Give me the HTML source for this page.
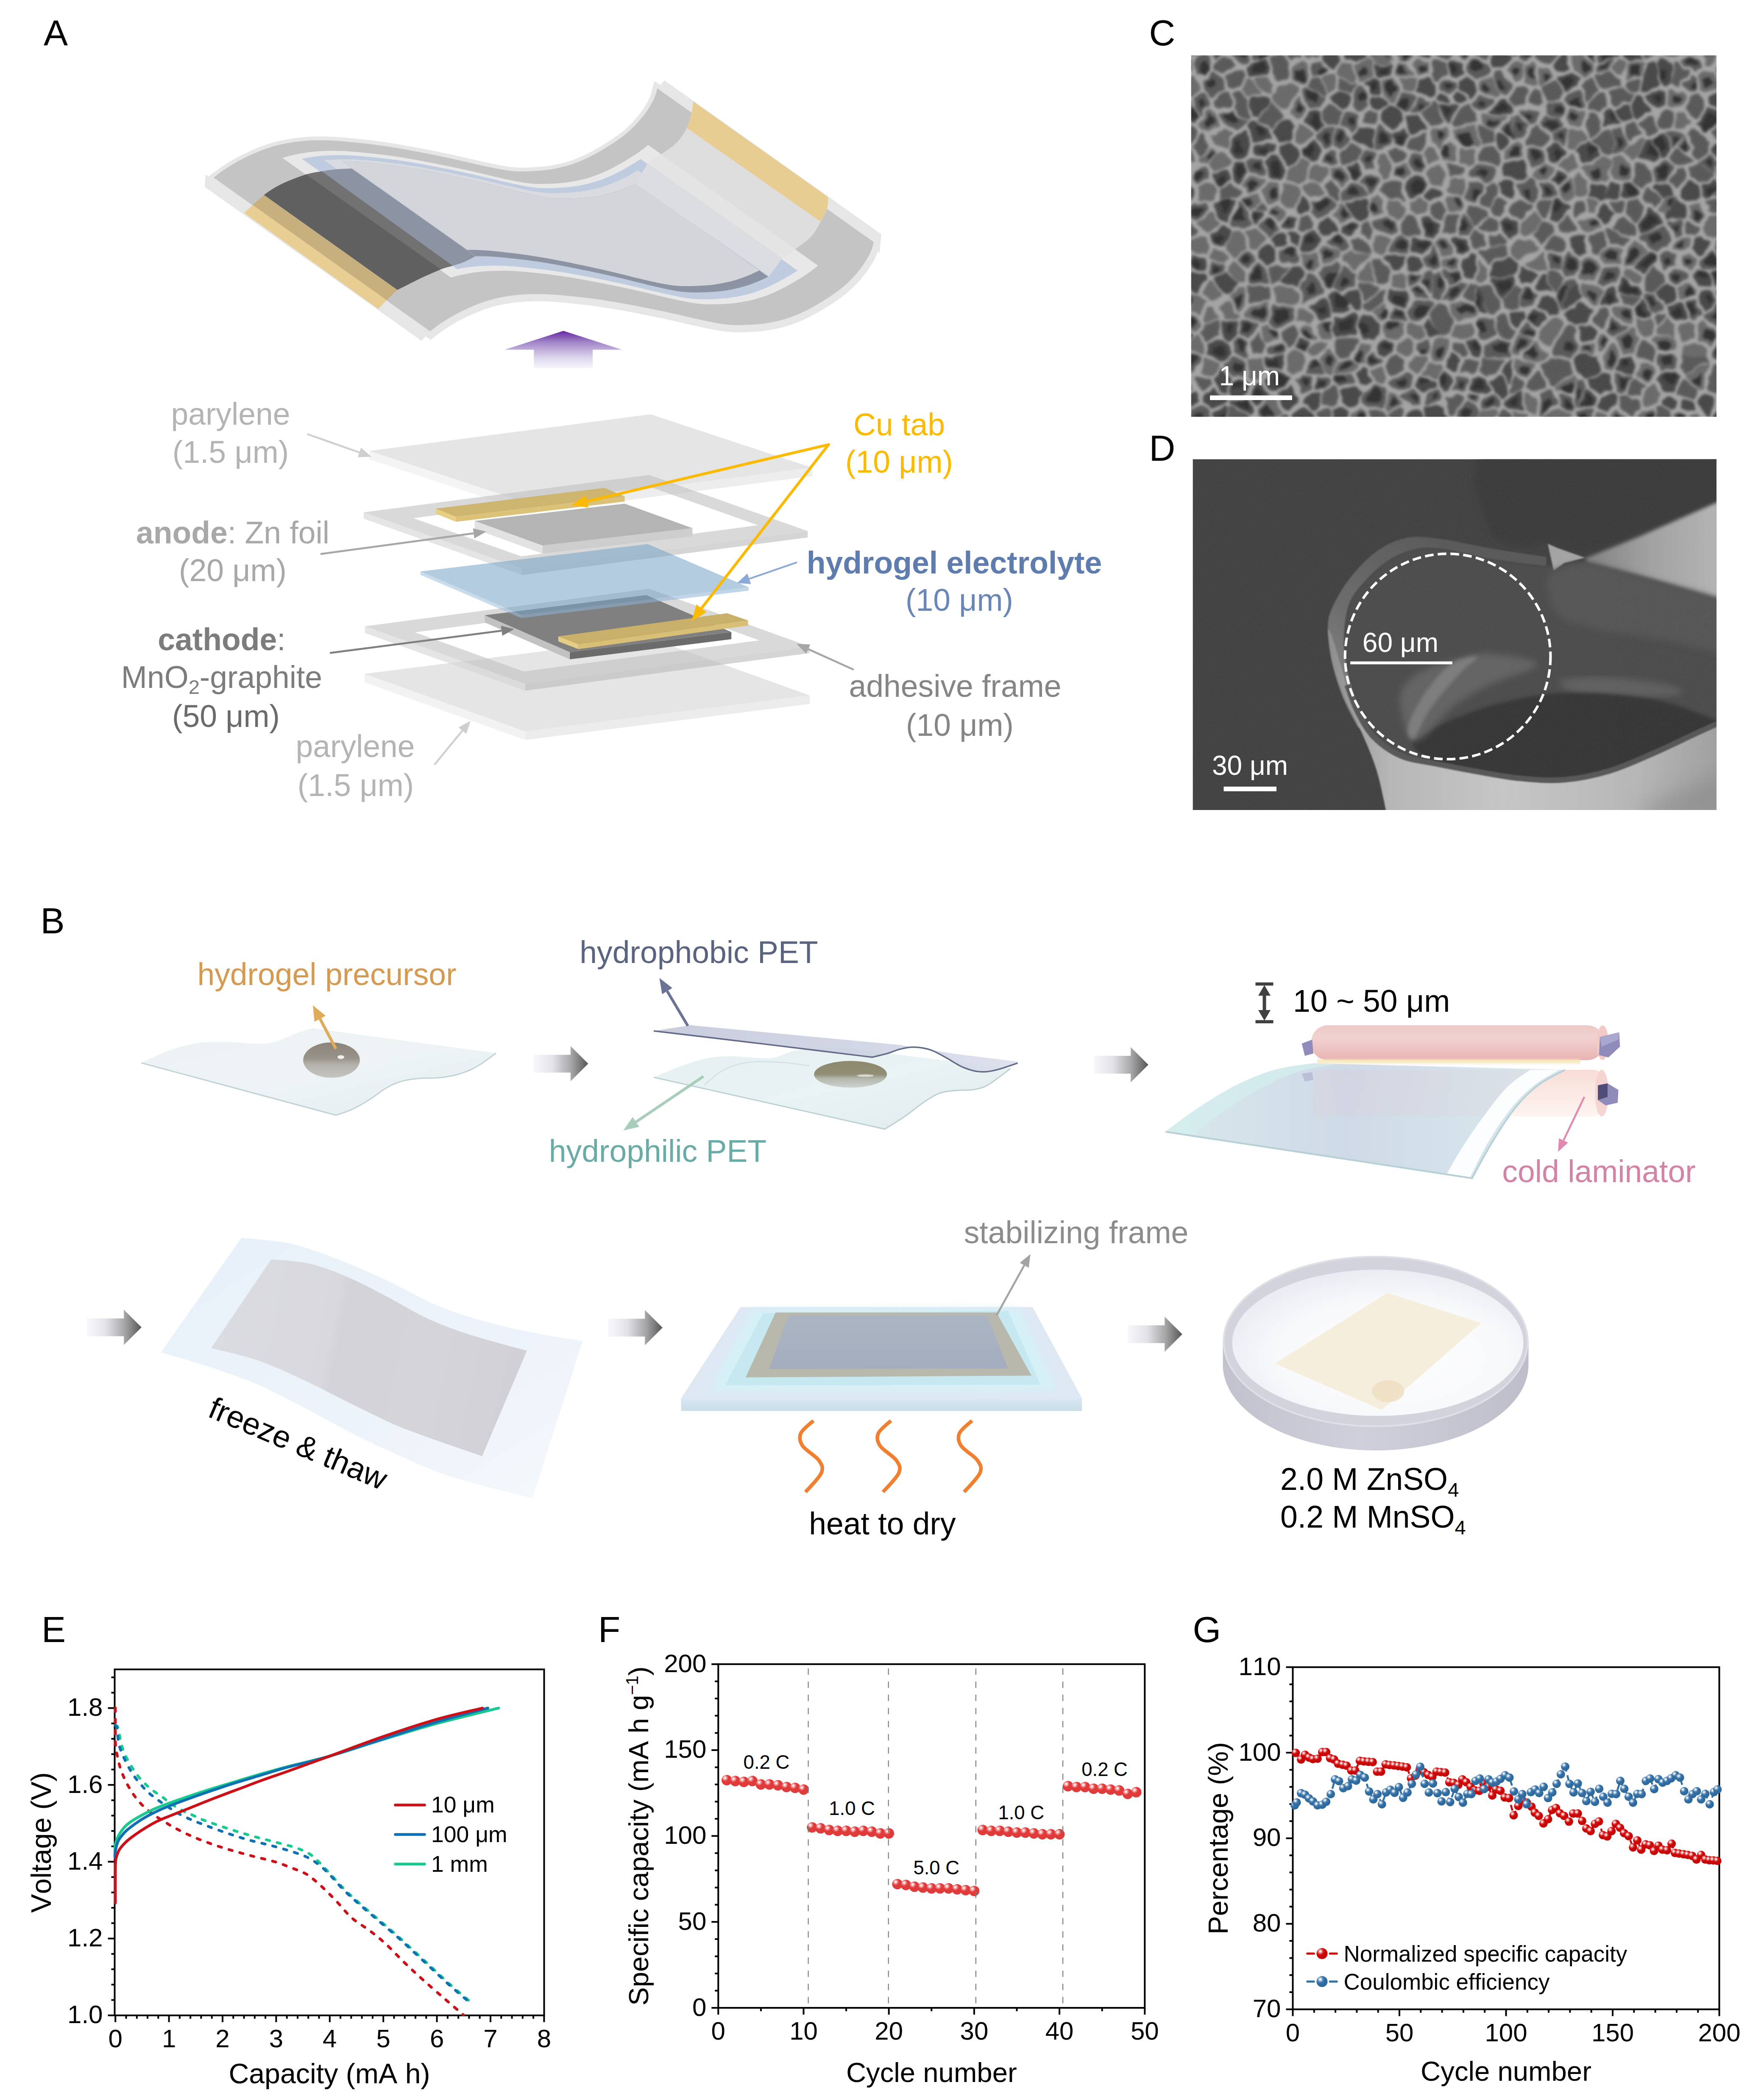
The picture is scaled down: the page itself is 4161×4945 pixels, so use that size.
<!DOCTYPE html>
<html lang="en"><head><meta charset="utf-8"><title>Figure</title>
<style>html,body{margin:0;padding:0;background:#fff}svg{display:block;font-family:'Liberation Sans', Arial, sans-serif;font-kerning:none}</style></head>
<body><svg width="4161" height="4945" viewBox="0 0 4161 4945">
<defs>
<radialGradient id="gR" cx="0.33" cy="0.29" r="0.5">
<stop offset="0" stop-color="#fff"/><stop offset="0.1" stop-color="#fff"/><stop offset="0.16" stop-color="#f9cfcf"/><stop offset="0.3" stop-color="#f4aeae"/><stop offset="0.36" stop-color="#ee8585"/><stop offset="0.52" stop-color="#e96a6a"/><stop offset="0.6" stop-color="#e03a3a"/><stop offset="1" stop-color="#e03a3a"/></radialGradient>
<radialGradient id="gR2" cx="0.34" cy="0.3" r="0.5">
<stop offset="0" stop-color="#fff"/><stop offset="0.1" stop-color="#fff"/><stop offset="0.17" stop-color="#f8c4c4"/><stop offset="0.3" stop-color="#f09a9a"/><stop offset="0.37" stop-color="#e46060"/><stop offset="0.52" stop-color="#da3a3a"/><stop offset="0.62" stop-color="#cf0c0c"/><stop offset="1" stop-color="#c80606"/></radialGradient>
<radialGradient id="gB" cx="0.34" cy="0.3" r="0.5">
<stop offset="0" stop-color="#fff"/><stop offset="0.1" stop-color="#fff"/><stop offset="0.17" stop-color="#d4e2ee"/><stop offset="0.3" stop-color="#a9c4dc"/><stop offset="0.37" stop-color="#7ea5c8"/><stop offset="0.52" stop-color="#5a8cb8"/><stop offset="0.62" stop-color="#3a74a8"/><stop offset="1" stop-color="#2f6a9f"/></radialGradient>
<linearGradient id="gPur" x1="0" y1="0" x2="0" y2="1"><stop offset="0" stop-color="#6425a0"/><stop offset="0.3" stop-color="#a184c8"/><stop offset="0.7" stop-color="#dcd3ec"/><stop offset="1" stop-color="#f6f6fc"/></linearGradient><linearGradient id="gArr" x1="0" y1="0" x2="1" y2="0"><stop offset="0" stop-color="#f8f8fc"/><stop offset="0.35" stop-color="#e2e2e8"/><stop offset="0.7" stop-color="#a4a4a6"/><stop offset="1" stop-color="#555"/></linearGradient><linearGradient id="gSh1" x1="0" y1="0" x2="1" y2="1"><stop offset="0" stop-color="#ecf2f4"/><stop offset="0.5" stop-color="#eef4f5"/><stop offset="1" stop-color="#e3ecee"/></linearGradient><linearGradient id="gDrop1" x1="0" y1="0" x2="0" y2="1"><stop offset="0" stop-color="#8a8478"/><stop offset="0.45" stop-color="#98938a"/><stop offset="0.62" stop-color="#b3b1ab"/><stop offset="1" stop-color="#c6c6c2"/></linearGradient><linearGradient id="gSh2" x1="0" y1="0" x2="1" y2="1"><stop offset="0" stop-color="#e6f0f1"/><stop offset="0.5" stop-color="#eaf3f4"/><stop offset="1" stop-color="#dfeaec"/></linearGradient><linearGradient id="gDrop2" x1="0" y1="0" x2="0" y2="1"><stop offset="0" stop-color="#8b886d"/><stop offset="0.5" stop-color="#918e76"/><stop offset="0.66" stop-color="#b4b7ab"/><stop offset="1" stop-color="#cdd3cf"/></linearGradient><linearGradient id="gUp" x1="0" y1="0" x2="1" y2="0"><stop offset="0" stop-color="#bfc4d8"/><stop offset="0.6" stop-color="#cbd0e1"/><stop offset="1" stop-color="#d9ddea"/></linearGradient><linearGradient id="gRol" x1="0" y1="0" x2="0" y2="1"><stop offset="0" stop-color="#eec8c6"/><stop offset="0.35" stop-color="#f1d2d0"/><stop offset="1" stop-color="#e7b4b2"/></linearGradient><linearGradient id="gRol2" x1="0" y1="0" x2="0" y2="1"><stop offset="0" stop-color="#f8ddd6"/><stop offset="0.5" stop-color="#fbe9e4"/><stop offset="1" stop-color="#fdf3f0"/></linearGradient><linearGradient id="gLam" gradientUnits="userSpaceOnUse" x1="2750" y1="2600" x2="3600" y2="2600"><stop offset="0" stop-color="#d2eaec"/><stop offset="0.12" stop-color="#d4e4ea"/><stop offset="0.5" stop-color="#cdd8e6"/><stop offset="1" stop-color="#d6e6ec"/></linearGradient><linearGradient id="gGlow" x1="0" y1="0" x2="0" y2="1"><stop offset="0" stop-color="#f3d8c0" stop-opacity="0"/><stop offset="0.5" stop-color="#f6ecb4"/><stop offset="1" stop-color="#f3d8c0" stop-opacity="0"/></linearGradient><linearGradient id="gFz" x1="0" y1="0" x2="1" y2="1"><stop offset="0" stop-color="#e7f0f9"/><stop offset="0.6" stop-color="#edf3fa"/><stop offset="1" stop-color="#f5f8fc"/></linearGradient><linearGradient id="gFz2" gradientUnits="userSpaceOnUse" x1="520" y1="3100" x2="1230" y2="3250"><stop offset="0" stop-color="#dbdce1"/><stop offset="0.36" stop-color="#d8d8dd"/><stop offset="0.4" stop-color="#d2d2d7"/><stop offset="0.7" stop-color="#d4d4d9"/><stop offset="1" stop-color="#d0d0d5"/></linearGradient><filter id="blB" x="-10%" y="-10%" width="120%" height="120%"><feGaussianBlur stdDeviation="9"/></filter><linearGradient id="gInn" x1="0" y1="0" x2="0" y2="1"><stop offset="0" stop-color="#acb5c3"/><stop offset="1" stop-color="#a3adbe"/></linearGradient><linearGradient id="gPlF" x1="0" y1="0" x2="0" y2="1"><stop offset="0" stop-color="#d9e8f2"/><stop offset="1" stop-color="#c9dbe9"/></linearGradient><linearGradient id="gDish" x1="0" y1="0" x2="1" y2="0"><stop offset="0" stop-color="#c2c2ce"/><stop offset="0.45" stop-color="#d0d0dc"/><stop offset="1" stop-color="#bebecb"/></linearGradient><radialGradient id="gLiq" cx="0.55" cy="0.6" r="0.65"><stop offset="0" stop-color="#fdfdfe"/><stop offset="0.6" stop-color="#f8f9fb"/><stop offset="1" stop-color="#e6e9f0"/></radialGradient><clipPath id="clipC"><rect x="2809.8" y="130.7" width="1239" height="852.5"/></clipPath><clipPath id="clipD"><rect x="2813.7" y="1083.5" width="1235.1" height="827.4"/></clipPath><filter id="blC" x="-2%" y="-2%" width="104%" height="104%"><feTurbulence type="fractalNoise" baseFrequency="0.028" numOctaves="2" seed="5" result="n"/><feDisplacementMap in="SourceGraphic" in2="n" scale="22" xChannelSelector="R" yChannelSelector="G" result="d"/><feGaussianBlur in="d" stdDeviation="3.2"/></filter><filter id="bl8" x="-10%" y="-10%" width="120%" height="120%"><feGaussianBlur stdDeviation="8"/></filter><filter id="bl14" x="-10%" y="-10%" width="120%" height="120%"><feGaussianBlur stdDeviation="14"/></filter><filter id="bl2" x="-10%" y="-10%" width="120%" height="120%"><feGaussianBlur stdDeviation="1.8"/></filter><filter id="bl4" x="-10%" y="-10%" width="120%" height="120%"><feGaussianBlur stdDeviation="4"/></filter><filter id="bl25" x="-20%" y="-20%" width="140%" height="140%"><feGaussianBlur stdDeviation="25"/></filter><filter id="noiseC" x="0" y="0" width="100%" height="100%"><feTurbulence type="fractalNoise" baseFrequency="0.012 0.009" numOctaves="3" seed="3" result="t"/><feColorMatrix in="t" type="matrix" values="0 0 0 0 1  0 0 0 0 1  0 0 0 0 1  1.6 0 0 0 -0.55"/></filter><filter id="grain" x="0" y="0" width="100%" height="100%"><feTurbulence type="fractalNoise" baseFrequency="0.55" numOctaves="2" seed="11" result="t"/><feColorMatrix in="t" type="matrix" values="0 0 0 0 0.5  0 0 0 0 0.5  0 0 0 0 0.5  0 0 0 2.2 -0.75"/></filter><linearGradient id="gRim" gradientUnits="userSpaceOnUse" x1="3400" y1="1270" x2="3140" y2="1700"><stop offset="0" stop-color="#585858"/><stop offset="0.5" stop-color="#6a6a6a"/><stop offset="1" stop-color="#8a8a8a"/></linearGradient><linearGradient id="gWed" gradientUnits="userSpaceOnUse" x1="3740" y1="0" x2="4050" y2="0"><stop offset="0" stop-color="#808080"/><stop offset="0.5" stop-color="#a2a2a2"/><stop offset="1" stop-color="#b4b4b4"/></linearGradient><linearGradient id="gBand" gradientUnits="userSpaceOnUse" x1="3130" y1="0" x2="4050" y2="0"><stop offset="0" stop-color="#8a8a8a"/><stop offset="0.07" stop-color="#a0a0a0"/><stop offset="0.16" stop-color="#b6b6b6"/><stop offset="0.45" stop-color="#c6c6c6"/><stop offset="0.8" stop-color="#b6b6b6"/><stop offset="1" stop-color="#a0a0a0"/></linearGradient></defs>
<rect width="4161" height="4945" fill="#fff"/>
<path d="M503.9 418.9 L515.5 410.1 L527.2 401.4 L539.5 393.5 L552 385.9 L564.7 378.8 L577.7 372.1 L590.9 365.8 L604.2 359.9 L617.7 354.4 L631.4 349.4 L645.4 345 L659.5 341.4 L673.8 338.4 L688.2 335.9 L702.6 333.9 L717.2 332.5 L731.7 331.6 L746.3 331.1 L760.9 331 L775.5 331.3 L790.1 332.1 L804.7 333.1 L819.2 334.4 L833.8 335.7 L848.3 337.2 L862.8 338.8 L877.3 340.5 L891.8 342.4 L906.2 344.4 L920.7 346.7 L935.1 349.1 L949.4 351.6 L963.8 354.1 L978.2 356.8 L992.5 359.4 L1006.9 362.2 L1021.2 365.1 L1035.5 368 L1049.8 370.9 L1064.1 374 L1078.3 377.1 L1092.6 380.4 L1106.8 383.7 L1121 387 L1135.2 390.2 L1149.5 393.3 L1163.8 396.3 L1178.1 399.1 L1192.5 401.6 L1207 403.4 L1221.6 404.4 L1236.2 404.5 L1250.8 403.9 L1265.3 403.1 L1279.9 402 L1294.4 400.3 L1308.8 397.9 L1323.1 394.8 L1337.2 391.2 L1351.1 386.9 L1364.8 381.8 L1378.3 376.1 L1391.4 369.8 L1404.4 363 L1417.1 355.8 L1429.6 348.3 L1442 340.5 L1454.1 332.4 L1466 323.9 L1477.5 314.9 L1488.4 305.3 L1498.8 295 L1508.5 284.2 L1517.9 272.9 L1526.5 261.1 L1534.3 248.8 L1541.4 236.1 L1546.9 222.5 L1550.5 208.4 L2061 571.1 L2057.4 585.2 L2051.9 598.8 L2044.8 611.5 L2037 623.8 L2028.4 635.6 L2019 646.9 L2009.3 657.7 L1998.9 668 L1988 677.6 L1976.5 686.6 L1964.6 695.1 L1952.5 703.2 L1940.1 711 L1927.6 718.5 L1914.9 725.7 L1901.9 732.5 L1888.8 738.8 L1875.3 744.5 L1861.6 749.6 L1847.7 753.9 L1833.6 757.5 L1819.3 760.6 L1804.9 763 L1790.4 764.7 L1775.8 765.8 L1761.3 766.6 L1746.7 767.2 L1732.1 767.1 L1717.5 766.1 L1703 764.3 L1688.6 761.8 L1674.3 759 L1660 756 L1645.7 752.9 L1631.5 749.7 L1617.3 746.4 L1603.1 743.1 L1588.8 739.8 L1574.6 736.7 L1560.3 733.6 L1546 730.7 L1531.7 727.8 L1517.4 724.9 L1503 722.1 L1488.7 719.5 L1474.3 716.8 L1459.9 714.3 L1445.6 711.8 L1431.2 709.4 L1416.7 707.1 L1402.3 705.1 L1387.8 703.2 L1373.3 701.5 L1358.8 699.9 L1344.3 698.4 L1329.7 697.1 L1315.2 695.8 L1300.6 694.8 L1286 694 L1271.4 693.7 L1256.8 693.8 L1242.2 694.3 L1227.7 695.2 L1213.1 696.6 L1198.7 698.6 L1184.3 701.1 L1170 704.1 L1155.9 707.7 L1141.9 712.1 L1128.2 717.1 L1114.7 722.6 L1101.4 728.5 L1088.2 734.8 L1075.2 741.5 L1062.5 748.6 L1050 756.2 L1037.7 764.1 L1026 772.8 L1014.4 781.6Z" fill="#e6e6e6" stroke="#e6e6e6" stroke-width="26" stroke-linejoin="miter" transform="translate(1,4)"/>
<path d="M485.1 411.6 L482.9 441 L994.2 803.9 L1016.9 780Z" fill="#e6e6e6"/>
<path d="M1550.5 208.4 L1567.5 189.7 L2078.8 552.5 L2074.8 597.8 L2057.8 569.5Z" fill="#e6e6e6"/>
<path d="M503.9 418.9 L515.5 410.1 L527.2 401.4 L539.5 393.5 L552 385.9 L564.7 378.8 L577.7 372.1 L590.9 365.8 L604.2 359.9 L617.7 354.4 L631.4 349.4 L645.4 345 L659.5 341.4 L673.8 338.4 L688.2 335.9 L702.6 333.9 L717.2 332.5 L731.7 331.6 L746.3 331.1 L760.9 331 L775.5 331.3 L790.1 332.1 L804.7 333.1 L819.2 334.4 L833.8 335.7 L848.3 337.2 L862.8 338.8 L877.3 340.5 L891.8 342.4 L906.2 344.4 L920.7 346.7 L935.1 349.1 L949.4 351.6 L963.8 354.1 L978.2 356.8 L992.5 359.4 L1006.9 362.2 L1021.2 365.1 L1035.5 368 L1049.8 370.9 L1064.1 374 L1078.3 377.1 L1092.6 380.4 L1106.8 383.7 L1121 387 L1135.2 390.2 L1149.5 393.3 L1163.8 396.3 L1178.1 399.1 L1192.5 401.6 L1207 403.4 L1221.6 404.4 L1236.2 404.5 L1250.8 403.9 L1265.3 403.1 L1279.9 402 L1294.4 400.3 L1308.8 397.9 L1323.1 394.8 L1337.2 391.2 L1351.1 386.9 L1364.8 381.8 L1378.3 376.1 L1391.4 369.8 L1404.4 363 L1417.1 355.8 L1429.6 348.3 L1442 340.5 L1454.1 332.4 L1466 323.9 L1477.5 314.9 L1488.4 305.3 L1498.8 295 L1508.5 284.2 L1517.9 272.9 L1526.5 261.1 L1534.3 248.8 L1541.4 236.1 L1546.9 222.5 L1550.5 208.4 L2061 571.1 L2057.4 585.2 L2051.9 598.8 L2044.8 611.5 L2037 623.8 L2028.4 635.6 L2019 646.9 L2009.3 657.7 L1998.9 668 L1988 677.6 L1976.5 686.6 L1964.6 695.1 L1952.5 703.2 L1940.1 711 L1927.6 718.5 L1914.9 725.7 L1901.9 732.5 L1888.8 738.8 L1875.3 744.5 L1861.6 749.6 L1847.7 753.9 L1833.6 757.5 L1819.3 760.6 L1804.9 763 L1790.4 764.7 L1775.8 765.8 L1761.3 766.6 L1746.7 767.2 L1732.1 767.1 L1717.5 766.1 L1703 764.3 L1688.6 761.8 L1674.3 759 L1660 756 L1645.7 752.9 L1631.5 749.7 L1617.3 746.4 L1603.1 743.1 L1588.8 739.8 L1574.6 736.7 L1560.3 733.6 L1546 730.7 L1531.7 727.8 L1517.4 724.9 L1503 722.1 L1488.7 719.5 L1474.3 716.8 L1459.9 714.3 L1445.6 711.8 L1431.2 709.4 L1416.7 707.1 L1402.3 705.1 L1387.8 703.2 L1373.3 701.5 L1358.8 699.9 L1344.3 698.4 L1329.7 697.1 L1315.2 695.8 L1300.6 694.8 L1286 694 L1271.4 693.7 L1256.8 693.8 L1242.2 694.3 L1227.7 695.2 L1213.1 696.6 L1198.7 698.6 L1184.3 701.1 L1170 704.1 L1155.9 707.7 L1141.9 712.1 L1128.2 717.1 L1114.7 722.6 L1101.4 728.5 L1088.2 734.8 L1075.2 741.5 L1062.5 748.6 L1050 756.2 L1037.7 764.1 L1026 772.8 L1014.4 781.6Z" fill="#c4c4c4"/>
<path d="M666.2 372.4 L680.7 368.2 L695.4 364.7 L710.2 361.9 L725.2 359.6 L740.2 357.8 L755.4 356.7 L770.5 356.1 L785.7 355.8 L800.8 356 L816 356.6 L831.1 357.7 L846.2 359 L861.3 360.4 L876.4 362 L891.5 363.7 L906.6 365.5 L921.6 367.5 L936.6 369.7 L951.6 372.1 L966.6 374.6 L981.6 377.3 L996.5 380 L1011.4 382.9 L1026.3 385.7 L1041.2 388.7 L1056.1 391.7 L1071 394.9 L1085.8 398 L1100.7 401.3 L1115.5 404.6 L1130.3 408.1 L1145 411.6 L1159.8 415.2 L1174.6 418.6 L1189.4 422 L1204.3 425.1 L1219.2 428.2 L1234.1 430.8 L1249.2 432.8 L1264.3 433.9 L1279.5 434 L1294.6 433.6 L1309.7 432.9 L1324.9 431.8 L1339.9 430.1 L1354.8 427.6 L1369.6 424.5 L1384.3 420.7 L1398.7 416.2 L1412.9 411 L1426.7 405 L1440.3 398.5 L1453.7 391.6 L1466.8 384.2 L1479.8 376.6 L1492.5 368.6 L1505.1 360.2 L1517.3 351.4 L1528.9 342 L1929.7 626.7 L1918 636.1 L1905.7 644.9 L1893.1 653.2 L1880.3 661.1 L1867.3 668.8 L1854.1 676.1 L1840.7 683 L1827 689.5 L1813.1 695.4 L1798.9 700.6 L1784.4 705 L1769.7 708.7 L1754.9 711.8 L1739.9 714.3 L1724.8 715.9 L1709.7 717 L1694.5 717.7 L1679.3 718.1 L1664 717.9 L1648.9 716.8 L1633.8 714.8 L1618.8 712.1 L1603.8 709 L1588.9 705.8 L1574 702.4 L1559.2 698.9 L1544.4 695.4 L1529.6 691.8 L1514.7 688.3 L1499.8 684.9 L1485 681.6 L1470.1 678.4 L1455.1 675.2 L1440.2 672.2 L1425.3 669.2 L1410.3 666.3 L1395.3 663.4 L1380.3 660.6 L1365.3 657.9 L1350.3 655.3 L1335.3 652.9 L1320.2 650.7 L1305.1 648.7 L1290 646.8 L1274.8 645.1 L1259.7 643.4 L1244.5 641.9 L1229.4 640.6 L1214.2 639.5 L1199 638.8 L1183.7 638.7 L1168.5 638.9 L1153.3 639.4 L1138.2 640.5 L1123.1 642.3 L1108.1 644.5 L1093.2 647.4 L1078.4 650.8 L1063.8 655Z" fill="#e8e8e8"/>
<path d="M712.1 374.4 L725.8 371.9 L739.5 369.8 L753.3 368.1 L767.2 367 L781.1 366.3 L795 366 L808.9 366 L822.8 366.4 L836.8 367.2 L850.6 368.2 L864.5 369.5 L878.4 370.8 L892.3 372.3 L906.1 373.9 L919.9 375.5 L933.8 377.3 L947.6 379.3 L961.3 381.4 L975.1 383.7 L988.8 386.1 L1002.6 388.6 L1016.3 391.2 L1030 393.7 L1043.7 396.4 L1057.3 399.1 L1071 401.9 L1084.7 404.8 L1098.3 407.7 L1111.9 410.7 L1125.5 413.7 L1139.1 416.9 L1152.7 420.1 L1166.3 423.3 L1179.8 426.6 L1193.4 429.7 L1207 432.7 L1220.7 435.6 L1234.4 438.4 L1248.1 440.8 L1261.9 442.6 L1275.8 443.7 L1289.7 444 L1303.6 443.7 L1317.5 443.1 L1331.4 442.3 L1345.3 441 L1359.1 439.2 L1372.7 436.7 L1386.3 433.7 L1399.7 430.1 L1413 426 L1426 421.2 L1438.7 415.8 L1451.3 409.8 L1463.6 403.5 L1475.7 396.9 L1487.7 389.9 L1499.5 382.8 L1511.1 375.3 L1881.2 638.2 L1869.5 645.7 L1857.7 652.8 L1845.6 659.7 L1833.4 666.3 L1821.1 672.6 L1808.5 678.5 L1795.7 683.8 L1782.6 688.6 L1769.3 692.7 L1755.8 696.2 L1742.2 699.2 L1728.5 701.6 L1714.6 703.4 L1700.7 704.6 L1686.7 705.4 L1672.8 706 L1658.8 706.2 L1644.8 705.9 L1630.9 704.7 L1617 702.9 L1603.2 700.4 L1589.5 697.6 L1575.8 694.7 L1562.1 691.6 L1548.4 688.4 L1534.8 685.2 L1521.2 681.9 L1507.5 678.6 L1493.9 675.4 L1480.2 672.3 L1466.5 669.3 L1452.8 666.4 L1439.1 663.5 L1425.4 660.6 L1411.7 657.9 L1397.9 655.2 L1384.1 652.5 L1370.4 649.9 L1356.6 647.4 L1342.8 644.9 L1329 642.6 L1315.1 640.5 L1301.3 638.4 L1287.4 636.6 L1273.5 634.9 L1259.6 633.3 L1245.7 631.8 L1231.7 630.4 L1217.8 629.1 L1203.8 628 L1189.9 627.1 L1175.9 626.7 L1161.9 626.7 L1147.9 627 L1134 627.6 L1120 628.7 L1106.2 630.3 L1092.4 632.3 L1078.6 634.9Z" fill="#bfcce0"/>
<path d="M765.1 378.1 L777.8 377 L790.6 376.4 L803.5 376 L816.3 375.9 L829.1 376.1 L842 376.7 L854.8 377.5 L867.6 378.6 L880.4 379.8 L893.2 381.1 L905.9 382.4 L918.7 383.9 L931.4 385.5 L944.2 387.1 L956.9 388.9 L969.6 390.9 L982.3 392.9 L995 395.1 L1007.6 397.4 L1020.3 399.7 L1032.9 402.1 L1045.6 404.5 L1058.2 407 L1070.8 409.6 L1083.4 412.2 L1096 414.8 L1108.5 417.5 L1121.1 420.2 L1133.7 423 L1146.2 425.9 L1158.7 428.9 L1171.2 431.9 L1183.7 434.9 L1196.2 437.9 L1208.8 440.8 L1221.3 443.6 L1233.9 446.3 L1246.5 449 L1259.1 451.4 L1271.8 453.3 L1284.6 454.7 L1297.4 455.4 L1310.3 455.5 L1323.1 455.2 L1335.9 454.7 L1348.7 453.9 L1361.5 452.8 L1374.2 451.2 L1386.8 449 L1399.3 446.4 L1411.7 443.3 L1424 439.8 L1436.1 435.7 L1448 431.1 L1459.7 426 L1471.2 420.5 L1482.5 414.7 L1493.7 408.6 L1504.7 402.3 L1607.8 475.5 L1596.6 481.7 L1585.2 487.7 L1573.7 493.3 L1562 498.7 L1550.1 503.6 L1538 508.1 L1525.7 512 L1513.2 515.4 L1500.6 518.3 L1487.8 520.8 L1475 522.9 L1462.1 524.3 L1449.1 525.3 L1436.1 525.9 L1423.1 526.3 L1410.1 526.4 L1397 526.2 L1384 525.3 L1371 523.8 L1358.1 521.7 L1345.3 519.1 L1332.5 516.4 L1319.7 513.5 L1306.9 510.6 L1294.2 507.5 L1281.5 504.3 L1268.7 501.2 L1256 498 L1243.3 494.9 L1230.6 491.9 L1217.8 488.9 L1205 486.1 L1192.2 483.2 L1179.4 480.4 L1166.6 477.7 L1153.8 475 L1141 472.4 L1128.2 469.8 L1115.3 467.2 L1102.5 464.7 L1089.6 462.3 L1076.7 460 L1063.8 457.8 L1050.9 455.7 L1038 453.8 L1025 452 L1012.1 450.2 L999.1 448.6 L986.1 447.1 L973.1 445.7 L960.1 444.3 L947.1 443.1 L934.1 442.1 L921 441.4 L908 441.1 L895 441 L881.9 441.2 L868.9 441.7 L855.9 442.7Z" fill="#d9dbe0"/>
<path d="M807.9 380.7 L819.9 380.7 L831.8 381 L843.8 381.6 L855.8 382.4 L867.8 383.5 L879.7 384.7 L891.7 386 L903.6 387.4 L915.6 388.9 L927.5 390.4 L939.4 392 L951.3 393.7 L963.2 395.5 L975.1 397.4 L987 399.5 L998.8 401.6 L1010.7 403.8 L1022.5 406.1 L1034.3 408.4 L1046.1 410.8 L1057.9 413.2 L1069.7 415.7 L1081.5 418.2 L1093.3 420.7 L1105 423.3 L1116.8 426 L1128.5 428.7 L1140.3 431.4 L1152 434.1 L1163.7 437 L1175.4 439.9 L1187.1 442.8 L1198.8 445.8 L1210.5 448.7 L1222.2 451.6 L1233.9 454.4 L1245.7 457.1 L1257.4 459.7 L1269.2 462.2 L1281.1 464.4 L1293 466.3 L1304.9 467.6 L1316.9 468.4 L1328.9 468.6 L1340.8 468.5 L1352.8 468.2 L1364.8 467.8 L1376.7 467.1 L1388.6 466 L1400.5 464.4 L1412.2 462.4 L1423.9 460.1 L1435.5 457.4 L1446.9 454.2 L1458.2 450.6 L1469.3 446.6 L1480.3 442.2 L1491.1 437.4 L1501.7 432.4 L1812.1 652.9 L1801.6 658 L1790.8 662.8 L1780 667.3 L1768.9 671.4 L1757.7 675 L1746.3 678.2 L1734.8 681 L1723.2 683.4 L1711.5 685.4 L1699.8 687.1 L1688 688.2 L1676.1 689 L1664.2 689.5 L1652.3 689.8 L1640.4 690 L1628.5 689.8 L1616.6 689 L1604.7 687.8 L1592.9 686 L1581.2 683.8 L1569.5 681.4 L1557.8 678.8 L1546.1 676.2 L1534.5 673.5 L1522.8 670.6 L1511.2 667.8 L1499.6 664.9 L1488 662 L1476.4 659.1 L1464.7 656.3 L1453.1 653.6 L1441.4 651 L1429.7 648.3 L1418.1 645.7 L1406.4 643.2 L1394.7 640.7 L1383 638.3 L1371.2 635.9 L1359.5 633.5 L1347.8 631.2 L1336.1 628.9 L1324.3 626.7 L1312.5 624.5 L1300.8 622.4 L1289 620.4 L1277.2 618.6 L1265.4 616.8 L1253.5 615.2 L1241.7 613.6 L1229.8 612.2 L1218 610.8 L1206.1 609.4 L1194.2 608.2 L1182.4 607 L1170.5 606 L1158.6 605.2 L1146.7 604.7 L1134.8 604.5 L1122.8 604.5Z" fill="#8c93a2"/>
<path d="M807.9 380.7 L819.9 380.7 L831.8 381 L843.8 381.6 L855.8 382.4 L867.8 383.5 L879.7 384.7 L891.7 386 L903.6 387.4 L915.6 388.9 L927.5 390.4 L939.4 392 L951.3 393.7 L963.2 395.5 L975.1 397.4 L987 399.5 L998.8 401.6 L1010.7 403.8 L1022.5 406.1 L1034.3 408.4 L1046.1 410.8 L1057.9 413.2 L1069.7 415.7 L1081.5 418.2 L1093.3 420.7 L1105 423.3 L1116.8 426 L1128.5 428.7 L1140.3 431.4 L1152 434.1 L1163.7 437 L1175.4 439.9 L1187.1 442.8 L1198.8 445.8 L1210.5 448.7 L1222.2 451.6 L1233.9 454.4 L1245.7 457.1 L1257.4 459.7 L1269.2 462.2 L1281.1 464.4 L1293 466.3 L1304.9 467.6 L1316.9 468.4 L1328.9 468.6 L1340.8 468.5 L1352.8 468.2 L1364.8 467.8 L1376.7 467.1 L1388.6 466 L1400.5 464.4 L1412.2 462.4 L1423.9 460.1 L1435.5 457.4 L1446.9 454.2 L1458.2 450.6 L1469.3 446.6 L1480.3 442.2 L1491.1 437.4 L1501.7 432.4 L1791.2 638 L1780.6 643.1 L1769.9 647.9 L1759 652.4 L1748 656.5 L1736.8 660.2 L1725.4 663.4 L1713.9 666.1 L1702.3 668.5 L1690.6 670.6 L1678.9 672.2 L1667 673.3 L1655.2 674.1 L1643.3 674.6 L1631.4 674.9 L1619.5 675.1 L1607.6 674.9 L1595.7 674.2 L1583.8 672.9 L1572 671.1 L1560.2 669 L1548.5 666.5 L1536.8 663.9 L1525.2 661.3 L1513.5 658.6 L1501.9 655.8 L1490.3 652.9 L1478.7 650 L1467.1 647.1 L1455.4 644.2 L1443.8 641.4 L1432.1 638.7 L1420.5 636.1 L1408.8 633.5 L1397.1 630.9 L1385.4 628.3 L1373.7 625.8 L1362 623.4 L1350.3 621 L1338.6 618.6 L1326.9 616.3 L1315.1 614 L1303.4 611.8 L1291.6 609.6 L1279.8 607.5 L1268.1 605.6 L1256.3 603.7 L1244.4 602 L1232.6 600.3 L1220.8 598.8 L1208.9 597.3 L1197.1 595.9 L1185.2 594.6 L1173.3 593.3 L1161.4 592.1 L1149.5 591.1 L1137.6 590.3 L1125.7 589.8 L1113.8 589.6 L1101.9 589.6Z" fill="#d3d5da"/>
<path d="M575.9 502.3 L596.3 483.6 L912 708 L892.2 729Z" fill="#e9ce93"/>
<path d="M596.3 483.6 L622.9 459.8 L937.5 683.7 L912 708Z" fill="#c7af7e"/>
<path d="M622.9 459.8 L625.6 457.9 L629.4 455.2 L633.9 452.1 L638.8 448.8 L643.7 445.6 L648.4 442.7 L652.8 440.3 L657 437.9 L661.3 435.7 L665.9 433.4 L671 431.1 L676.8 428.6 L683.4 425.8 L690.9 422.8 L698.9 419.6 L707 416.6 L714.8 413.9 L722.1 411.6 L728.8 409.7 L735.2 408.3 L741.4 407.1 L747.4 406.1 L753.2 405.1 L759 404.2 L764.4 403.2 L769.5 402.4 L774.4 401.6 L779.3 400.9 L784.5 400.3 L790.1 399.7 L796.7 399.1 L804.2 398.7 L811.9 398.2 L819.2 397.9 L825.4 397.6 L829.8 397.4 L1121.8 604.3 L1119 605.8 L1115.3 607.8 L1110.8 610.2 L1105.9 612.8 L1101 615.2 L1096.3 617.3 L1091.7 619.2 L1087 620.9 L1082.3 622.4 L1077.5 624 L1072.7 625.5 L1067.9 627 L1063.4 628.3 L1059.1 629.5 L1054.8 630.6 L1050.3 631.9 L1045.3 633.4 L1039.6 635.5 L1032.9 638.2 L1025.3 641.4 L1017.2 644.9 L1009.1 648.5 L1001.3 652.1 L994.2 655.3 L987.8 658.4 L981.6 661.4 L975.8 664.4 L970.3 667.2 L965.1 669.9 L960.2 672.3 L955.5 674.7 L951 677 L946.7 679.1 L943 680.9 L939.9 682.5 L937.5 683.7Z" fill="#8c93a2"/>
<path d="M622.9 459.8 L625.6 457.9 L629.4 455.2 L633.9 452.1 L638.8 448.8 L643.7 445.6 L648.4 442.7 L652.8 440.3 L657 437.9 L661.3 435.7 L665.9 433.4 L671 431.1 L676.8 428.6 L683.4 425.8 L690.9 422.8 L698.9 419.6 L707 416.6 L714.8 413.9 L722.1 411.6 L729.2 409.7 L736.4 408.1 L743.4 406.8 L749.7 405.7 L755 404.9 L759 404.2 L1067.9 627 L1065 627.8 L1061.2 628.8 L1056.6 630 L1051.3 631.5 L1045.6 633.3 L1039.6 635.5 L1032.9 638.2 L1025.3 641.4 L1017.2 644.9 L1009.1 648.5 L1001.3 652.1 L994.2 655.3 L987.8 658.4 L981.6 661.4 L975.8 664.4 L970.3 667.2 L965.1 669.9 L960.2 672.3 L955.5 674.7 L951 677 L946.7 679.1 L943 680.9 L939.9 682.5 L937.5 683.7Z" fill="#727272"/>
<path d="M622.9 459.8 L625.6 457.9 L629.4 455.2 L633.9 452.1 L638.8 448.8 L643.7 445.6 L648.4 442.7 L652.8 440.3 L657 437.9 L661.3 435.7 L665.9 433.4 L671 431.1 L676.8 428.6 L683.9 425.7 L692.3 422.5 L701.2 419.2 L709.7 416.1 L717 413.4 L722.1 411.6 L1039.6 635.5 L1034.5 637.7 L1027.4 640.7 L1019 644.3 L1010.2 648.2 L1001.6 652 L994.2 655.3 L987.8 658.4 L981.6 661.4 L975.8 664.4 L970.3 667.2 L965.1 669.9 L960.2 672.3 L955.5 674.7 L951 677 L946.7 679.1 L943 680.9 L939.9 682.5 L937.5 683.7Z" fill="#606060"/>
<path d="M1635.5 239.6" fill="none"/>
<path d="M1635.5 239.6 L1635.1 242.7 L1634.5 247.1 L1633.9 252.3 L1633.1 257.9 L1632.1 263.6 L1631 269 L1629.7 274.3 L1628.3 279.7 L1626.8 285.1 L1625 290.7 L1622.8 296.3 L1620.2 301.9 L1617.1 307.7 L1613.5 313.8 L1609.6 319.9 L1605.4 325.9 L1600.7 331.6 L1595.8 337.1 L1590.3 342.1 L1584.2 347 L1577.8 351.6 L1571.3 356 L1564.9 360.2 L1559 364.3 L1553.1 368.4 L1547 372.5 L1541.1 376.5 L1535.7 380.1 L1531.1 383.1 L1527.8 385.3 L1845.2 609.2 L1848.6 606.9 L1853.1 603.9 L1858.5 600.3 L1864.4 596.2 L1870.5 591.9 L1876.4 587.6 L1882.4 583.3 L1888.8 578.6 L1895.4 573.8 L1901.8 568.7 L1907.9 563.5 L1913.3 558.2 L1918 552.6 L1922.1 546.8 L1925.9 540.8 L1929.5 534.8 L1932.8 528.8 L1935.9 523 L1939.1 517.3 L1942.1 511.6 L1944.9 506 L1947.4 500.5 L1949.6 495.2 L1951.2 490.1 L1952.3 485.2 L1952.9 480.1 L1953.1 475.3 L1953 471 L1952.9 467.3 L1952.9 464.6Z" fill="#dedede"/>
<path d="M1527.8 385.3 L1845.2 609.2 L1814.1 651.7 L1499.4 433.4Z" fill="#dcdde0"/>
<path d="M1559 364.3 L1876.4 587.6 L1845.2 609.2 L1527.8 385.3Z" fill="#e4e4e4"/>
<path d="M1635.5 239.6 L1635.1 242.7 L1634.5 247.1 L1633.9 252.3 L1633.1 257.9 L1632.1 263.6 L1631 269 L1629.4 274.7 L1627.4 281 L1625.3 287.3 L1623.2 293.3 L1621.4 298.3 L1620.2 301.9 L1935.9 523 L1937.8 519.4 L1940.4 514.2 L1943.5 508.2 L1946.6 501.8 L1949.3 495.6 L1951.2 490.1 L1952.3 485.2 L1952.9 480.1 L1953.1 475.3 L1953 471 L1952.9 467.3 L1952.9 464.6Z" fill="#e8cd92"/>
<path d="M1329 780.4L1467 824.9H1398.1V868.8H1259.3V824.9H1190.7Z" fill="url(#gPur)"/>
<path d="M859.9 1589.7 L1238.8 1725.7 L1238.8 1745.7 L859.9 1609.7Z" fill="#f1f1f1" fill-opacity="0.95"/><path d="M1238.8 1725.7 L1910.2 1640.7 L1910.2 1660.7 L1238.8 1745.7Z" fill="#ebebeb" fill-opacity="0.95"/><path d="M859.9 1589.7 L1531.3 1504.6 L1910.2 1640.7 L1238.8 1725.7Z" fill="#e4e4e4" fill-rule="evenodd" fill-opacity="0.95"/>
<path d="M861.2 1477.4 L1238.8 1613.5 L1238.8 1629.5 L861.2 1493.4Z" fill="#d6d6d6" fill-opacity="0.63"/><path d="M1238.8 1613.5 L1908.8 1525 L1908.8 1541 L1238.8 1629.5Z" fill="#bdbdbd" fill-opacity="0.63"/><path d="M861.2 1477.4 L1531.3 1389 L1908.8 1525 L1238.8 1613.5ZM978.6 1491.7 L1235.3 1584.2 L1791.5 1510.8 L1534.7 1418.3Z" fill="#c3c3c3" fill-rule="evenodd" fill-opacity="0.63"/>
<path d="M1143.5 1451.6 L1344.2 1538.6 L1344.2 1555.6 L1143.5 1468.6Z" fill="#c2c2c2"/><path d="M1344.2 1538.6 L1725.2 1491 L1725.2 1508 L1344.2 1555.6Z" fill="#6b6b6b"/><path d="M1143.5 1451.6 L1524.5 1403.9 L1725.2 1491 L1344.2 1538.6Z" fill="#808080" fill-rule="evenodd"/>
<path d="M1317 1501.2 L1364.6 1519.6 L1364.6 1531.6 L1317 1513.2Z" fill="#e6cd86"/><path d="M1364.6 1519.6 L1764.6 1463.8 L1764.6 1475.8 L1364.6 1531.6Z" fill="#d9bf75"/><path d="M1317 1501.2 L1715 1446.8 L1764.6 1463.8 L1364.6 1519.6Z" fill="#c9b06a" fill-rule="evenodd"/>
<path d="M871.4 1063.8 L1252.4 1189.7 L1252.4 1209.7 L871.4 1083.8Z" fill="#f3f3f3" fill-opacity="0.95"/><path d="M1252.4 1189.7 L1915.6 1103.3 L1915.6 1123.3 L1252.4 1209.7Z" fill="#ececec" fill-opacity="0.95"/><path d="M871.4 1063.8 L1534.7 977.4 L1915.6 1103.3 L1252.4 1189.7Z" fill="#e4e4e4" fill-rule="evenodd" fill-opacity="0.95"/>
<path d="M857.8 1208.7 L1232 1341.4 L1232 1356.4 L857.8 1223.7Z" fill="#d6d6d6" fill-opacity="0.63"/><path d="M1232 1341.4 L1905.4 1252.9 L1905.4 1267.9 L1232 1356.4Z" fill="#bdbdbd" fill-opacity="0.63"/><path d="M857.8 1208.7 L1531.3 1120.3 L1905.4 1252.9 L1232 1341.4ZM974.9 1222.4 L1229.4 1312.6 L1788.3 1239.2 L1533.9 1149Z" fill="#c3c3c3" fill-rule="evenodd" fill-opacity="0.63"/>
<path d="M1119.7 1229.1 L1279.6 1286.9 L1279.6 1305.9 L1119.7 1248.1Z" fill="#e2e2e2"/><path d="M1279.6 1286.9 L1633.3 1246.1 L1633.3 1265.1 L1279.6 1305.9Z" fill="#cdcdcd"/><path d="M1119.7 1229.1 L1473.5 1188.3 L1633.3 1246.1 L1279.6 1286.9Z" fill="#b4b4b4" fill-rule="evenodd"/>
<path d="M1027.9 1199.9 L1075.5 1218.9 L1075.5 1230.9 L1027.9 1211.9Z" fill="#e8cf85"/><path d="M1075.5 1218.9 L1473.5 1171.3 L1473.5 1183.3 L1075.5 1230.9Z" fill="#dcc278"/><path d="M1027.9 1199.9 L1425.9 1150.9 L1473.5 1171.3 L1075.5 1218.9Z" fill="#cdb56f" fill-rule="evenodd"/>
<path d="M991.8 1348.2 L1229.9 1450.2 L1229.9 1458.2 L991.8 1356.2Z" fill="#9dbfdd" fill-opacity="0.55"/><path d="M1229.9 1450.2 L1766 1385.6 L1766 1393.6 L1229.9 1458.2Z" fill="#8db4d6" fill-opacity="0.55"/><path d="M991.8 1348.2 L1527.9 1283.5 L1766 1385.6 L1229.9 1450.2Z" fill="#77a2c7" fill-rule="evenodd" fill-opacity="0.55"/>
<path d="M1954.5 1048.8L1384.6 1183" stroke="#fbba00" stroke-width="6.5" fill="none"/><path d="M1347.6 1191.7L1381.2 1168.4L1388 1197.6Z" fill="#fbba00"/>
<path d="M1954.5 1048.8L1654.6 1435.2" stroke="#fbba00" stroke-width="6.5" fill="none"/><path d="M1631.3 1465.2L1642.8 1426L1666.4 1444.4Z" fill="#fbba00"/>
<circle cx="1954.5" cy="1048.8" r="3.2" fill="#fbba00"/>
<path d="M1880 1326.6L1767.2 1365.6" stroke="#8aa8d8" stroke-width="4" fill="none"/><path d="M1738.8 1375.4L1762.9 1353.3L1771.4 1377.9Z" fill="#8aa8d8"/>
<path d="M724.5 1024L847.7 1067.5" stroke="#cfcfcf" stroke-width="4.5" fill="none"/><path d="M876 1077.5L843.7 1078.8L851.7 1056.2Z" fill="#cfcfcf"/>
<path d="M756 1307L1117.3 1258.3" stroke="#a6a6a6" stroke-width="4.5" fill="none"/><path d="M1147 1254.3L1118.9 1270.2L1115.7 1246.4Z" fill="#a6a6a6"/>
<path d="M778.2 1540.5L1183.2 1488.1" stroke="#7f7f7f" stroke-width="4.5" fill="none"/><path d="M1213 1484.2L1184.8 1500L1181.7 1476.2Z" fill="#7f7f7f"/>
<path d="M1024.8 1804L1090.7 1723.8" stroke="#cfcfcf" stroke-width="4.5" fill="none"/><path d="M1109.8 1700.6L1100 1731.4L1081.5 1716.2Z" fill="#cfcfcf"/>
<path d="M2013.8 1580L1906.3 1531.4" stroke="#a6a6a6" stroke-width="4.5" fill="none"/><path d="M1879 1519L1911.3 1520.4L1901.4 1542.3Z" fill="#a6a6a6"/>
<text x="544" y="1002" font-size="73.3" fill="#b4b4b4" text-anchor="middle">parylene</text>
<text x="544" y="1092" font-size="73.3" fill="#b4b4b4" text-anchor="middle">(1.5 μm)</text>
<text x="549" y="1281.5" font-size="73.3" fill="#a8a8a8" text-anchor="middle"><tspan font-weight="bold">anode</tspan>: Zn foil</text>
<text x="549" y="1370.5" font-size="73.3" fill="#a8a8a8" text-anchor="middle">(20 μm)</text>
<text x="523" y="1533.5" font-size="73.3" fill="#7c7c7c" text-anchor="middle"><tspan font-weight="bold">cathode</tspan>:</text>
<text x="523" y="1622.8" font-size="73.3" fill="#7c7c7c" text-anchor="middle">MnO<tspan font-size="47" dy="14">2</tspan><tspan dy="-14">-graphite</tspan></text>
<text x="533" y="1715" font-size="73.3" fill="#6a6a6a" text-anchor="middle">(50 μm)</text>
<text x="838" y="1785.7" font-size="73.3" fill="#b4b4b4" text-anchor="middle">parylene</text>
<text x="839" y="1877.8" font-size="73.3" fill="#b4b4b4" text-anchor="middle">(1.5 μm)</text>
<text x="2121" y="1027" font-size="73.3" fill="#fbba00" text-anchor="middle">Cu tab</text>
<text x="2121" y="1115.4" font-size="73.3" fill="#fbba00" text-anchor="middle">(10 μm)</text>
<text x="2251" y="1352.7" font-size="73.3" fill="#5f7cae" text-anchor="middle" font-weight="bold">hydrogel electrolyte</text>
<text x="2263" y="1441.4" font-size="73.3" fill="#6a86b6" text-anchor="middle">(10 μm)</text>
<text x="2253" y="1644" font-size="73.3" fill="#858585" text-anchor="middle">adhesive frame</text>
<text x="2264" y="1736" font-size="73.3" fill="#858585" text-anchor="middle">(10 μm)</text>
<path d="M1258.7 2488.5H1345.9V2468L1387.5 2509.5L1345.9 2551V2530.5H1258.7Z" fill="url(#gArr)"/>
<path d="M2580 2491H2667.2V2470.5L2708.8 2512L2667.2 2553.5V2533H2580Z" fill="url(#gArr)"/>
<path d="M205 3110.6H292.2V3090.1L333.8 3131.6L292.2 3173.1V3152.6H205Z" fill="url(#gArr)"/>
<path d="M1434 3111.3H1521.2V3090.8L1562.8 3132.3L1521.2 3173.8V3153.3H1434Z" fill="url(#gArr)"/>
<path d="M2660 3126.7H2747.2V3106.2L2788.8 3147.7L2747.2 3189.2V3168.7H2660Z" fill="url(#gArr)"/>
<path d="M333.2 2507.6 L340.7 2504.1 L351.1 2499.1 L363.5 2493.3 L376.7 2487.2 L389.9 2481.6 L402 2476.9 L413.3 2473.2 L424.5 2469.9 L435.7 2467 L446.7 2464.5 L457.6 2462.4 L468.4 2460.6 L478.9 2459.3 L489.3 2458.5 L499.6 2458.1 L509.8 2457.9 L519.7 2458 L529.6 2458.1 L539.4 2458.3 L549.1 2458.9 L558.6 2459.7 L568 2460.5 L577 2461.2 L585.7 2461.6 L594.1 2462 L602.2 2462.3 L609.9 2462.5 L617.5 2462.5 L624.7 2462.3 L631.6 2461.6 L638.2 2460.6 L644.3 2459.2 L650.1 2457.5 L655.8 2455.6 L661.5 2453.5 L667.3 2451.4 L673.3 2449.1 L679.3 2446.5 L685.4 2443.8 L691.3 2441 L697.3 2438.4 L703.1 2436.1 L709.1 2434 L715.5 2432 L721.9 2430.1 L727.7 2428.4 L732.6 2427 L736.2 2425.9 L1169.9 2484.6 L1165.2 2488.1 L1158.6 2493 L1150.8 2498.8 L1142.4 2504.8 L1134.1 2510.5 L1126.5 2515.2 L1119.6 2519 L1112.9 2522.4 L1106.3 2525.5 L1099.6 2528.2 L1092.8 2530.7 L1085.7 2533.1 L1078.4 2535.2 L1071 2537 L1063.4 2538.6 L1055.7 2540 L1047.8 2541.2 L1039.8 2542.2 L1031.5 2542.9 L1022.8 2543.3 L1014 2543.4 L1005.2 2543.5 L996.7 2543.8 L988.8 2544.3 L981.3 2545 L974.2 2545.8 L967.4 2546.8 L960.8 2547.9 L954.3 2549.3 L948 2550.9 L941.8 2552.8 L935.9 2554.9 L930.1 2557.2 L924.3 2559.9 L918.4 2562.8 L912.2 2566.2 L905.7 2570.2 L899 2574.8 L892.2 2579.8 L885.2 2584.8 L878.3 2589.8 L871.4 2594.3 L864.6 2598.5 L857.7 2602.7 L850.9 2606.7 L844 2610.5 L837.3 2614 L830.6 2617.2 L823.6 2620.2 L816.3 2623 L808.9 2625.6 L802.2 2627.8 L796.5 2629.6 L792.3 2631Z" fill="url(#gSh1)"/>
<path d="M1169.9 2484.6 L1165.2 2488.1 L1158.6 2493 L1150.8 2498.8 L1142.4 2504.8 L1134.1 2510.5 L1126.5 2515.2 L1119.6 2519 L1112.9 2522.4 L1106.3 2525.5 L1099.6 2528.2 L1092.8 2530.7 L1085.7 2533.1 L1078.4 2535.2 L1071 2537 L1063.4 2538.6 L1055.7 2540 L1047.8 2541.2 L1039.8 2542.2 L1031.5 2542.9 L1022.8 2543.3 L1014 2543.4 L1005.2 2543.5 L996.7 2543.8 L988.8 2544.3 L981.3 2545 L974.2 2545.8 L967.4 2546.8 L960.8 2547.9 L954.3 2549.3 L948 2550.9 L941.8 2552.8 L935.9 2554.9 L930.1 2557.2 L924.3 2559.9 L918.4 2562.8 L912.2 2566.2 L905.7 2570.2 L899 2574.8 L892.2 2579.8 L885.2 2584.8 L878.3 2589.8 L871.4 2594.3 L864.6 2598.5 L857.7 2602.7 L850.9 2606.7 L844 2610.5 L837.3 2614 L830.6 2617.2 L823.6 2620.2 L816.3 2623 L808.9 2625.6 L802.2 2627.8 L796.5 2629.6 L792.3 2631 L333.2 2507.6" fill="none" stroke="#c0d2d8" stroke-width="3"/>
<ellipse cx="782" cy="2501" rx="66.8" ry="41.8" fill="url(#gDrop1)"/>
<ellipse cx="804" cy="2494" rx="8" ry="4.5" fill="#fff" opacity="0.85"/>
<path d="M792.3 2474.4L754.9 2403.5" stroke="#e0ac5c" stroke-width="7" fill="none"/><path d="M738.1 2371.7L768.2 2396.5L741.6 2410.5Z" fill="#e0ac5c"/>
<text x="771" y="2324" font-size="73.3" fill="#d59a50" text-anchor="middle">hydrogel precursor</text>
<path d="M1542 2541.6 L1549.2 2538.5 L1559.1 2534.3 L1570.8 2529.3 L1583.5 2524 L1596.1 2519 L1607.7 2514.6 L1618.7 2510.9 L1629.7 2507.2 L1640.8 2503.8 L1651.6 2500.7 L1662.2 2498 L1672.3 2495.8 L1681.9 2494.2 L1691.1 2493.1 L1699.9 2492.5 L1708.6 2492.2 L1717.3 2492 L1726.2 2492 L1735.3 2492.3 L1744.5 2492.9 L1753.8 2493.7 L1762.9 2494.5 L1771.7 2495.3 L1780 2495.8 L1788 2496.1 L1795.6 2496.5 L1802.9 2496.7 L1810 2496.7 L1816.7 2496.5 L1823.1 2495.8 L1829.1 2494.6 L1834.7 2492.9 L1840 2490.9 L1845.1 2488.8 L1850.2 2486.8 L1855.4 2485 L1860.1 2483.5 L1863.8 2482 L1867.6 2480.6 L1872.2 2479.3 L1878.6 2478.1 L1887.8 2476.9 L1901.3 2475.8 L1918.9 2474.7 L1938.2 2473.7 L1957.2 2472.8 L1973.4 2472.1 L1984.7 2471.6 L2383.2 2521.1 L2380.4 2523.3 L2376.4 2526.4 L2371.8 2530 L2366.7 2533.9 L2361.4 2537.9 L2356.3 2541.6 L2351.2 2545.2 L2345.9 2549.2 L2340.5 2553.1 L2335 2556.9 L2329.4 2560.3 L2324 2563.1 L2318.7 2565.3 L2313.4 2567 L2308.2 2568.4 L2302.8 2569.5 L2297.4 2570.4 L2291.7 2571.2 L2285.7 2571.8 L2279.5 2572 L2273.2 2572.1 L2266.7 2572.1 L2260.3 2572.3 L2254 2572.8 L2247.7 2573.4 L2241.4 2574 L2235.1 2574.8 L2228.8 2575.8 L2222.6 2577.3 L2216.3 2579.3 L2210 2581.9 L2203.9 2584.9 L2197.8 2588.4 L2191.5 2592.3 L2185.2 2596.4 L2178.6 2600.8 L2171.8 2605.6 L2164.8 2610.8 L2157.7 2616.4 L2150.4 2622.1 L2143 2627.7 L2135.5 2633.1 L2127.2 2638.7 L2117.9 2644.6 L2108.6 2650.5 L2099.8 2655.9 L2092.4 2660.5 L2087 2663.8Z" fill="url(#gSh2)"/>
<path d="M2383.2 2521.1 L2380.4 2523.3 L2376.4 2526.4 L2371.8 2530 L2366.7 2533.9 L2361.4 2537.9 L2356.3 2541.6 L2351.2 2545.2 L2345.9 2549.2 L2340.5 2553.1 L2335 2556.9 L2329.4 2560.3 L2324 2563.1 L2318.7 2565.3 L2313.4 2567 L2308.2 2568.4 L2302.8 2569.5 L2297.4 2570.4 L2291.7 2571.2 L2285.7 2571.8 L2279.5 2572 L2273.2 2572.1 L2266.7 2572.1 L2260.3 2572.3 L2254 2572.8 L2247.7 2573.4 L2241.4 2574 L2235.1 2574.8 L2228.8 2575.8 L2222.6 2577.3 L2216.3 2579.3 L2210 2581.9 L2203.9 2584.9 L2197.8 2588.4 L2191.5 2592.3 L2185.2 2596.4 L2178.6 2600.8 L2171.8 2605.6 L2164.8 2610.8 L2157.7 2616.4 L2150.4 2622.1 L2143 2627.7 L2135.5 2633.1 L2127.2 2638.7 L2117.9 2644.6 L2108.6 2650.5 L2099.8 2655.9 L2092.4 2660.5 L2087 2663.8 L1542 2541.6" fill="none" stroke="#bcd0d4" stroke-width="3"/>
<path d="M1661.6 2560.4 C1667 2555.7 1682.2 2540.2 1693.9 2532.4 C1705.5 2524.6 1717.2 2518.1 1731.6 2513.6 C1745.9 2509 1760.3 2506 1780 2504.9 C1799.8 2503.9 1828.5 2505.5 1850.1 2507.1 C1871.6 2508.7 1899.4 2513.4 1909.3 2514.6" fill="none" stroke="#d3e3e5" stroke-width="3"/>
<ellipse cx="2006.2" cy="2534.6" rx="86" ry="31.5" fill="url(#gDrop2)"/>
<ellipse cx="2041.2" cy="2537.6" rx="20" ry="3" fill="#fff" opacity="0.6"/>
<path d="M1542 2432.2 L1669.1 2447.3 L1796.2 2462.4 L1926.8 2478.3 L2057.4 2494.2 L2061.2 2493.3 L2066.6 2492 L2072.9 2490.5 L2079.6 2488.9 L2086.3 2487.2 L2092.4 2485.6 L2097.9 2483.8 L2103.4 2481.9 L2108.7 2479.9 L2114 2478 L2119.4 2476.2 L2124.7 2474.8 L2130 2473.6 L2135.3 2472.5 L2140.5 2471.6 L2145.9 2470.9 L2151.3 2470.5 L2157 2470.5 L2163 2470.8 L2169.2 2471.4 L2175.5 2472.3 L2182 2473.5 L2188.4 2475 L2194.7 2476.9 L2201 2479.3 L2207.3 2482.2 L2213.6 2485.4 L2219.9 2488.8 L2226.1 2492.3 L2232.4 2495.8 L2238.7 2499.3 L2245 2503.2 L2251.3 2507.1 L2257.6 2510.8 L2263.8 2514.3 L2270.1 2517.3 L2276.4 2519.9 L2282.7 2522.2 L2289 2524.2 L2295.3 2525.9 L2301.5 2527.2 L2307.8 2528.1 L2313.9 2528.6 L2319.8 2528.7 L2325.6 2528.5 L2331.7 2527.9 L2338.2 2526.9 L2345.5 2525.4 L2354.3 2523.2 L2364.6 2520.1 L2375.3 2516.6 L2385.6 2513.2 L2394.3 2510.2 L2400.5 2508.2 L2400.5 2504.4 L2254 2486.6 L2119.3 2465.1 L1629.3 2418.8Z" fill="url(#gUp)" fill-opacity="0.85"/>
<path d="M1542 2432.2 L1669.1 2447.3 L1796.2 2462.4 L1926.8 2478.3 L2057.4 2494.2 L2061.2 2493.3 L2066.6 2492 L2072.9 2490.5 L2079.6 2488.9 L2086.3 2487.2 L2092.4 2485.6 L2097.9 2483.8 L2103.4 2481.9 L2108.7 2479.9 L2114 2478 L2119.4 2476.2 L2124.7 2474.8 L2130 2473.6 L2135.3 2472.5 L2140.5 2471.6 L2145.9 2470.9 L2151.3 2470.5 L2157 2470.5 L2163 2470.8 L2169.2 2471.4 L2175.5 2472.3 L2182 2473.5 L2188.4 2475 L2194.7 2476.9 L2201 2479.3 L2207.3 2482.2 L2213.6 2485.4 L2219.9 2488.8 L2226.1 2492.3 L2232.4 2495.8 L2238.7 2499.3 L2245 2503.2 L2251.3 2507.1 L2257.6 2510.8 L2263.8 2514.3 L2270.1 2517.3 L2276.4 2519.9 L2282.7 2522.2 L2289 2524.2 L2295.3 2525.9 L2301.5 2527.2 L2307.8 2528.1 L2313.9 2528.6 L2319.8 2528.7 L2325.6 2528.5 L2331.7 2527.9 L2338.2 2526.9 L2345.5 2525.4 L2354.3 2523.2 L2364.6 2520.1 L2375.3 2516.6 L2385.6 2513.2 L2394.3 2510.2 L2400.5 2508.2" fill="none" stroke="#636a88" stroke-width="3.4"/>
<path d="M1622.6 2420.4L1573.8 2338.3" stroke="#6c7496" stroke-width="6.5" fill="none"/><path d="M1555.4 2307.3L1585.9 2331.1L1561.8 2345.4Z" fill="#6c7496"/>
<path d="M1659.2 2539.5L1500.2 2646.9" stroke="#a9cdbb" stroke-width="6.5" fill="none"/><path d="M1470.4 2667L1492.4 2635.3L1508.1 2658.5Z" fill="#a9cdbb"/>
<text x="1648.5" y="2271.6" font-size="73.3" fill="#5a6480" text-anchor="middle">hydrophobic PET</text>
<text x="1551.5" y="2741" font-size="73.3" fill="#6aaba6" text-anchor="middle">hydrophilic PET</text>
<rect x="3098" y="2524" width="680.4" height="109.6" rx="20" fill="url(#gRol2)"/>
<ellipse cx="3778.3" cy="2578.8" rx="16" ry="55" fill="#f5d5cf"/>
<path d="M3769.2 2560.5 L3792 2555.9 L3817.6 2571.5 L3815.8 2601.6 L3787.5 2608 L3769.2 2595.2Z" fill="#8f8bbb"/>
<path d="M3769.2 2560.5 L3792 2555.9 L3792 2587.9 L3769.2 2595.2Z" fill="#4f4d78"/>
<path d="M2749.1 2670.1 L2757 2664.1 L2767.9 2655.9 L2780.8 2646.1 L2795 2635.6 L2809.7 2625.1 L2824 2615.3 L2838.2 2606 L2853.2 2596.4 L2868.6 2586.8 L2884.3 2577.4 L2899.9 2568.6 L2915.3 2560.5 L2930.5 2553.1 L2945.7 2546.2 L2961 2539.8 L2976.2 2533.9 L2991.4 2528.6 L3006.6 2524 L3022.9 2520 L3040.5 2516.7 L3058 2513.9 L3074.3 2511.7 L3088 2509.9 L3098 2508.5 L3691.6 2524 L3684.5 2527.7 L3674.7 2532.8 L3663 2538.8 L3650.7 2545.6 L3638.5 2552.9 L3627.7 2560.5 L3618 2568.3 L3608.7 2576.4 L3599.7 2585.1 L3590.8 2594.3 L3581.9 2604.4 L3572.9 2615.3 L3563.6 2627.4 L3554.3 2640.7 L3544.9 2654.7 L3535.7 2669.1 L3526.7 2683.5 L3518.1 2697.5 L3509.4 2712.2 L3500.5 2727.9 L3491.8 2743.7 L3483.9 2758.4 L3477.3 2770.8 L3472.4 2779.7Z" fill="url(#gLam)" fill-opacity="0.96"/>
<path d="M3098 2524 L3618.5 2524 L3531.8 2633.6 L3098 2633.6Z" fill="#ecc6cc" fill-opacity="0.14"/>
<path d="M2749.1 2670.1 L2757 2664.1 L2767.9 2655.9 L2780.8 2646.1 L2795 2635.6 L2809.7 2625.1 L2824 2615.3 L2838.2 2606 L2853.2 2596.4 L2868.6 2586.8 L2884.3 2577.4 L2899.9 2568.6 L2915.3 2560.5 L2930.5 2553.1 L2945.7 2546.2 L2961 2539.8 L2976.2 2533.9 L2991.4 2528.6 L3006.6 2524 L3022.9 2520 L3040.5 2516.7 L3058 2513.9 L3074.3 2511.7 L3088 2509.9 L3098 2508.5 L3152.8 2510.3 L3142.7 2512.1 L3128.7 2514.3 L3112.2 2517.1 L3094.6 2520.4 L3077.2 2524.2 L3061.4 2528.5 L3047.3 2533.4 L3033.7 2538.7 L3020.3 2544.5 L3007 2550.9 L2993.4 2557.7 L2979.2 2565.1 L2964.3 2573.1 L2948.8 2581.8 L2933 2591 L2917.3 2600.6 L2902.2 2610.3 L2887.9 2619.9 L2873.8 2630.2 L2859.5 2641.5 L2845.7 2653 L2833.1 2663.7 L2822.6 2672.7 L2814.8 2679.2Z" fill="#d3eeee" fill-opacity="0.8"/>
<path d="M3609.4 2524 L3603.4 2528.1 L3595.2 2533.6 L3585.4 2540.2 L3574.9 2547.8 L3564.4 2556.2 L3554.6 2565.1 L3545.4 2574.9 L3536.2 2585.7 L3526.9 2597.3 L3517.7 2609.4 L3508.7 2621.6 L3499.8 2633.6 L3491 2645.6 L3482.2 2658 L3473.5 2670.5 L3465.1 2682.9 L3457.1 2695 L3449.6 2706.6 L3442.3 2718.3 L3435 2730.4 L3428.2 2742.2 L3422 2753 L3416.9 2762.1 L3413 2768.7 L3467.8 2777.9 L3472.1 2769.1 L3478 2757.1 L3485 2742.8 L3492.7 2727.4 L3500.8 2711.9 L3508.9 2697.5 L3517.3 2683.6 L3526.2 2669.2 L3535.5 2654.8 L3545 2640.7 L3554.4 2627.4 L3563.7 2615.3 L3572.8 2604.4 L3581.8 2594.3 L3590.8 2585.1 L3599.9 2576.4 L3609.1 2568.3 L3618.5 2560.5 L3628.8 2552.9 L3640.2 2545.6 L3651.6 2538.8 L3662.3 2532.8 L3671.4 2527.7 L3677.9 2524Z" fill="#fff" fill-opacity="0.92"/>
<path d="M3691.6 2524 L3684.5 2527.7 L3674.7 2532.8 L3663 2538.8 L3650.7 2545.6 L3638.5 2552.9 L3627.7 2560.5 L3618 2568.3 L3608.7 2576.4 L3599.7 2585.1 L3590.8 2594.3 L3581.9 2604.4 L3572.9 2615.3 L3563.6 2627.4 L3554.3 2640.7 L3544.9 2654.7 L3535.7 2669.1 L3526.7 2683.5 L3518.1 2697.5 L3509.4 2712.2 L3500.5 2727.9 L3491.8 2743.7 L3483.9 2758.4 L3477.3 2770.8 L3472.4 2779.7 L2749.1 2670.1" fill="none" stroke="#b7d0d6" stroke-width="4"/>
<rect x="3093.4" y="2419" width="689.5" height="82.2" rx="38" fill="url(#gRol)"/>
<ellipse cx="3780.2" cy="2460.1" rx="14" ry="41" fill="#f2cbc6"/>
<rect x="3107.1" y="2494.9" width="621" height="18" fill="url(#gGlow)"/>
<path d="M3070.6 2461.9 L3095.2 2452.7 L3098 2485.6 L3077.9 2491.1Z" fill="#8f8bbb"/>
<path d="M3773.8 2446.4 L3819.4 2435.4 L3821.3 2469.2 L3793.9 2494.8 L3771.9 2489.3Z" fill="#8f8bbb"/>
<path d="M3773.8 2446.4 L3819.4 2435.4 L3817.6 2452.7 L3778.3 2469.2Z" fill="#a9a6d0"/>
<path d="M3070.6 2533.1 L3095.2 2529.5 L3098 2547.7 L3077.9 2551.4Z" fill="#b5b7d2" opacity="0.8"/>
<path d="M2961.5 2321.5H3003.5M2961.5 2410.5H3003.5" stroke="#404040" stroke-width="7.5" fill="none"/>
<path d="M2982.5 2340V2392" stroke="#404040" stroke-width="8" fill="none"/>
<path d="M2982.5 2324l-14.5 25h29zM2982.5 2408l-14.5 -25h29z" fill="#404040"/>
<text x="3050" y="2387" font-size="73.3" fill="#000" text-anchor="start">10 ~ 50 μm</text>
<path d="M3737.2 2587.9L3688.1 2690.5" stroke="#e08ab0" stroke-width="4.5" fill="none"/><path d="M3675.1 2717.6L3677.3 2685.4L3698.9 2695.7Z" fill="#e08ab0"/>
<text x="3771.5" y="2788.8" font-size="73.3" fill="#d283a6" text-anchor="middle">cold laminator</text>
<path d="M569.4 2920.4 L582.1 2921.6 L599.6 2923.1 L620.4 2924.9 L642.7 2927.3 L665.1 2930.3 L685.7 2934.2 L704.9 2939 L724.1 2944.7 L743.2 2951.1 L762.3 2957.9 L781.4 2965.1 L800.5 2972.4 L819.6 2980 L838.8 2987.9 L857.9 2996.1 L877 3004.6 L896.2 3013.3 L915.3 3022.2 L934.4 3031.5 L953.6 3041.5 L972.7 3051.6 L991.8 3061.6 L1011 3071 L1030.1 3079.6 L1049.2 3087.2 L1068.4 3094.2 L1087.5 3100.6 L1106.6 3106.7 L1125.8 3112.4 L1144.9 3117.9 L1164 3123.1 L1183.2 3127.9 L1202.3 3132.4 L1221.4 3136.7 L1240.6 3140.8 L1259.7 3144.6 L1280.2 3148.5 L1302.2 3152.3 L1324.3 3155.9 L1344.7 3159.1 L1362 3161.8 L1374.5 3163.8 L1255.9 3534.9 L1234.6 3529.5 L1204.6 3521.9 L1169.3 3512.9 L1132.4 3503.3 L1097.6 3493.8 L1068.4 3485.2 L1045 3477.4 L1024.7 3469.9 L1006.4 3462.5 L989.1 3455 L971.9 3447.3 L953.6 3439.3 L934.4 3430.9 L915.3 3422.3 L896.2 3413.5 L877 3404.4 L857.9 3395.2 L838.8 3385.7 L819.6 3375.9 L800.5 3365.7 L781.4 3355.3 L762.2 3344.9 L743.1 3334.6 L724 3324.5 L704.8 3314.5 L685.7 3304.5 L666.6 3294.6 L647.4 3284.9 L628.3 3275.7 L609.2 3267.1 L590.1 3259.1 L570.9 3251.6 L551.8 3244.6 L532.7 3237.9 L513.5 3231.4 L494.4 3225 L473.9 3218.4 L451.9 3211.7 L429.8 3205.1 L409.4 3199.2 L392.1 3194.2 L379.6 3190.6Z" fill="url(#gFz)"/>
<path d="M639.8 2970.9 L649.8 2971.8 L663.6 2972.9 L680 2974.2 L697.6 2976 L715.3 2978.4 L731.6 2981.6 L746.9 2985.7 L762.2 2990.5 L777.6 2995.9 L792.9 3001.8 L808.2 3008 L823.5 3014.5 L838.8 3021.4 L854.1 3028.7 L869.4 3036.4 L884.7 3044.4 L900 3052.4 L915.3 3060.5 L930.5 3068.7 L945.6 3077.2 L960.7 3085.8 L976 3094.3 L991.4 3102.5 L1007.1 3110.2 L1022.9 3117.2 L1038.4 3123.8 L1054.1 3130.1 L1070.5 3136.1 L1087.8 3142.2 L1106.6 3148.5 L1128.8 3155.3 L1154.4 3162.6 L1181 3170 L1206.2 3176.8 L1227.6 3182.6 L1242.9 3186.7 L1137.2 3435.5 L1116.5 3428.2 L1087.1 3418.2 L1052.6 3406.3 L1016.5 3393.7 L982.3 3381.3 L953.6 3370.4 L930.5 3360.9 L910.2 3351.8 L891.9 3343.1 L874.5 3334.6 L857.1 3325.9 L838.8 3316.8 L819.6 3307.4 L800.5 3297.7 L781.4 3287.9 L762.2 3278.1 L743.1 3268.6 L724 3259.4 L704.8 3250.5 L685.6 3241.5 L666.3 3232.8 L647.2 3224.5 L628.1 3216.7 L609.2 3209.7 L589.2 3203.3 L567.8 3197.4 L546.5 3192 L526.8 3187.4 L510.2 3183.5 L498.2 3180.6Z" fill="url(#gFz2)"/>
<text transform="translate(487,3341) rotate(23)" font-size="73.3" fill="#000">freeze &amp; thaw</text>
<path d="M1606.6 3299 L2552.2 3299 L2552.2 3328.7 L1606.6 3328.7Z" fill="url(#gPlF)"/>
<path d="M1746.9 3083.8 L2435.7 3083.8 L2552.2 3299 L1606.6 3299Z" fill="#dde8f2"/>
<path d="M1774.1 3090.6 L2403.4 3086.4 L2492.7 3279.4 L1672.1 3282Z" fill="#d6f1f6" filter="url(#blB)"/>
<path d="M1799.7 3098.3 L2377.9 3092.3 L2454.4 3266.7 L1710.4 3268.4Z" fill="#c6e8f0"/>
<path d="M1829.4 3096.6 L2350.7 3096.6 L2433.2 3245.4 L1758.8 3249.7Z" fill="#b8b8ad"/>
<path d="M1859.2 3103.4 L2328.6 3103.4 L2377.9 3228.4 L1814.1 3230.1Z" fill="url(#gInn)"/>
<path d="M1918.7 3351.7 C1913.7 3356.7 1893.2 3371.5 1888.9 3381.5 C1884.7 3391.4 1886.1 3400.6 1893.2 3411.2 C1900.3 3421.9 1924.1 3434.6 1931.5 3445.2 C1938.8 3455.9 1942.7 3462.5 1937.4 3475 C1932.2 3487.5 1906.2 3512.6 1900 3520.1" fill="none" stroke="#f08030" stroke-width="8.5"/>
<path d="M2101.5 3351.7 C2096.6 3356.7 2076 3371.5 2071.8 3381.5 C2067.5 3391.4 2068.9 3400.6 2076 3411.2 C2083.1 3421.9 2106.9 3434.6 2114.3 3445.2 C2121.7 3455.9 2125.5 3462.5 2120.2 3475 C2115 3487.5 2089.1 3512.6 2082.8 3520.1" fill="none" stroke="#f08030" stroke-width="8.5"/>
<path d="M2292.9 3351.7 C2287.9 3356.7 2267.3 3371.5 2263.1 3381.5 C2258.8 3391.4 2260.3 3400.6 2267.3 3411.2 C2274.4 3421.9 2298.2 3434.6 2305.6 3445.2 C2313 3455.9 2316.8 3462.5 2311.6 3475 C2306.3 3487.5 2280.4 3512.6 2274.1 3520.1" fill="none" stroke="#f08030" stroke-width="8.5"/>
<path d="M2350.7 3103.4L2416.1 2985.1" stroke="#a3a3a3" stroke-width="4.5" fill="none"/><path d="M2430.6 2958.8L2426.6 2990.9L2405.6 2979.3Z" fill="#a3a3a3"/>
<text x="2538.5" y="2933.3" font-size="73.3" fill="#8c8c8c" text-anchor="middle">stabilizing frame</text>
<text x="2081.5" y="3619.5" font-size="73.3" fill="#000" text-anchor="middle">heat to dry</text>
<path d="M2884.5 3165A360.5 202 0 0 1 3605.5 3165V3220A360.5 202 0 0 1 2884.5 3220Z" fill="url(#gDish)"/>
<ellipse cx="3245" cy="3165" rx="358.5" ry="200" fill="#d3d3dd" stroke="#dfdfe8" stroke-width="4"/>
<ellipse cx="3250" cy="3168" rx="343.5" ry="172.5" fill="url(#gLiq)"/>
<path d="M3272.5 3050.4 L3493.8 3121.2 L3259.3 3326.5 L3007.1 3216.8Z" fill="#f6eedc"/>
<ellipse cx="3274.3" cy="3282.3" rx="38" ry="26" fill="#efdcc0" opacity="0.8"/>
<text x="3020" y="3515" font-size="73.3">2.0 M ZnSO<tspan font-size="47" dy="16">4</tspan></text>
<text x="3020" y="3603.5" font-size="73.3">0.2 M MnSO<tspan font-size="47" dy="16">4</tspan></text>
<g clip-path="url(#clipC)">
<rect x="2804.8" y="125.7" width="1249" height="862.5" fill="#a4a4a4"/>
<g filter="url(#blC)" stroke-linejoin="round" stroke-width="6">
<path fill="#444444" stroke="#444444" d="M2803 106l11 -15l16 9l-1 14l-12 11l-15 -4zM3129 110l25 -5l2 6l3 29l-15 24l-5 -3l-17 -23zM3172 111l50 0l-2 13l-1 8l-21 11l-21 -6zM3342 107l35 -7l-2 1l2 28l-4 4l-24 -3zM3751 105l7 -3l10 7l-6 32l-3 -1l-22 -16zM3822 105l30 -5l5 1l21 33l-39 7l-10 -8zM2771 150l21 -15l14 5l1 28l-18 3l-15 -12zM2947 162l3 -9l34 -7l3 28l-34 3l-5 -1zM3243 153l35 4l-1 15l-21 9l-10 -2zM3420 147l16 -2l15 7l2 16l-18 11l-12 -1zM3528 117l5 0l30 20l-16 23l-23 1l-4 -14zM3681 130l11 -3l4 4l4 26l-25 9l-9 -16zM3906 149l14 -8l27 9l-5 47l-9 5l-12 -5zM3224 198l16 -7l9 3l6 23l-21 -4zM3354 190l17 -4l14 14l-1 15l-3 9l-4 2l-27 -6l-8 -6zM3442 194l18 -9l18 11l0 13l-13 21l1 -2l-20 -17zM3677 189l2 -5l27 -13l19 15l-7 12l-22 14zM3880 179l6 -29l11 0l15 52l-33 12l-2 0zM4062 201l25 -5l8 18l-19 9l-18 -12zM2952 233l30 -3l6 4l3 7l-28 33l-11 0zM3143 236l-3 -4l5 -2l6 -8l31 3l-3 25l-10 5zM3237 226l22 3l12 17l-17 11l-14 -5zM3397 224l18 3l6 11l-22 -2l-5 -6zM3433 228l8 -7l12 15l-13 6l-6 -5zM3535 242l11 -6l6 0l13 22l-2 9l-2 0l-2 4l-43 -8zM3851 243l7 -13l12 -1l5 2l14 27l-28 19l-5 -2zM3889 226l26 -11l10 3l1 28l-17 8l-8 -4zM4034 232l15 -11l18 14l0 6l-8 19l-21 -15zM2800 244l4 0l19 31l-5 10l-25 -4l-2 -12zM3093 265l19 3l10 26l-20 12l-25 -20zM3264 267l16 -14l7 1l20 16l-6 14l-19 19l-19 -19zM3319 291l0 -14l16 -2l11 4l17 24l-1 -1l-33 11zM3399 248l28 0l7 5l-19 39l-2 -2zM3785 272l14 -13l7 4l13 27l-2 2l-16 6l-14 -4zM3816 260l26 -10l4 27l-18 8zM4028 258l27 16l4 11l-32 19l-20 -11l0 -2zM2917 318l17 -7l12 32l-6 18l-5 7l-22 0l-11 -14zM2942 300l4 -8l4 -1l10 -2l32 17l5 21l-40 7zM3006 306l27 -23l17 14l-10 34l-24 1l-2 -1zM3196 324l13 -21l25 5l-1 36l-15 1l-21 -19zM3287 315l22 -15l12 22l-10 17l-21 -1zM3533 315l6 0l16 16l-14 21l-13 -14zM2963 346l38 -4l2 2l-2 11l-18 15l-24 -8zM3018 355l4 -10l22 -1l13 8l6 14l-25 23zM3073 351l27 -20l11 25l-6 19l-9 3l-18 -11zM3653 352l9 -11l31 11l3 5l-28 20l-11 -5zM3718 354l32 -20l-2 -1l25 33l-37 19zM3888 335l8 -1l16 39l-16 12l-26 -11zM3903 332l16 -12l8 -1l8 39l-4 11l-10 -2zM4046 344l34 3l2 1l-5 19l-15 5l-22 -15zM2863 409l31 -9l7 26l-28 5l-9 -7zM2909 397l3 -14l21 0l6 22l-14 25l-11 -8zM2990 385l20 -17l19 34l-6 17l-1 2l-24 -5l-4 -3zM3180 394l22 -10l8 21l-10 16l-10 -3zM3547 400l6 -14l36 -7l15 27l1 7l-28 9l-29 -9zM3674 404l18 12l-14 20l-13 -11zM2770 446l-2 -6l35 -6l9 14l1 17l-15 9l-23 -17zM3320 431l14 -11l19 3l9 10l-13 21l-24 11zM3377 442l17 9l1 2l-3 10l-15 12l-15 -13zM3536 435l8 -8l27 6l0 25l-7 8l-24 -13zM3755 438l30 0l-2 30l-9 3l-27 -11zM3793 440l8 -9l17 7l-3 25l-24 3l-1 1zM3831 437l14 1l22 13l-2 5l-26 15l-12 -8zM3902 441l3 -5l25 3l19 12l1 9l-26 3zM3965 452l18 -24l25 14l-1 25l-30 4l-9 -8l-2 -1zM4022 441l24 -14l11 6l-24 29l-11 6l-2 -3zM2865 494l1 -10l3 -3l41 -4l-12 45l-14 -4zM3074 465l16 13l-2 23l-23 0l-6 -7zM3177 481l46 -8l-2 41l-12 2l-9 -4zM3671 474l7 -1l15 11l3 9l-28 25l-10 -4zM3960 477l11 7l1 30l-35 2l-4 -11zM2959 500l-1 -1l21 5l2 7l-18 16l-5 -1zM3039 510l6 2l6 3l-3 20l-13 1l-8 -3l3 -7zM3113 527l23 -12l15 19l1 7l-27 15l-14 -20zM3168 534l26 -7l7 2l-6 18l-11 9l-16 -12zM3357 518l16 -4l18 15l1 19l-15 10l-14 -5zM3543 523l11 -8l24 8l6 26l-28 16l-9 -20zM3780 488l3 -2l3 -3l18 24l-15 17l-6 0l-12 -20zM3888 495l20 6l12 10l4 10l0 2l-49 24l-6 -18zM2856 554l28 -17l14 2l3 4l-13 32l-24 1zM3001 563l19 -14l6 2l7 25l-19 5l-12 -15zM3036 550l17 2l9 8l-3 16l-13 -3zM3076 561l24 -15l15 20l1 3l-7 10l-32 10l-5 -10zM3336 566l18 0l16 6l2 0l-19 26l-20 -4zM3427 566l13 -2l17 3l8 23l-15 10l-13 -6zM3704 565l20 -10l13 6l6 33l-12 7l-27 -13zM4000 564l14 -8l18 16l-5 12l-18 15l-16 -10zM2810 619l3 -13l26 3l1 6l-2 21l-22 -6zM2969 598l24 -19l16 12l0 15l-18 15l-19 -10zM3268 607l9 -7l33 7l-5 21l-19 7zM3324 612l3 -3l20 5l10 17l-10 6l-19 3l-7 -8zM3455 617l18 -13l8 2l-2 1l-8 48l-3 0l-9 -5l-3 -12zM3522 629l33 -23l21 19l-5 23l-53 6zM3887 597l12 7l4 19l-27 18l-14 -11zM2774 637l24 -12l9 12l-11 23zM2814 646l25 6l3 9l-18 23l-7 0l-10 -6l1 -11zM2868 661l24 -17l24 28l-22 16zM3047 635l16 -3l12 13l-17 29l-32 -12zM3518 663l1 -1l52 -5l3 7l-30 41zM3589 632l3 1l36 12l-18 20l-16 -3l-6 -5l-3 -4zM3643 650l4 0l9 37l-26 -5l-4 -7zM3819 677l10 -17l33 21l5 12l0 2l-42 -11zM3997 651l10 -14l18 8l7 29l-25 1l-10 -18zM4037 645l25 -9l-1 4l1 21l-14 12l-3 -1zM3168 696l29 -11l11 31l-1 17l-5 1l-2 1zM3276 687l2 -2l31 6l11 16l-9 18l-28 -10l-4 -5zM3635 698l27 6l-2 -1l16 29l-3 7l-16 1l-31 -15zM3715 668l3 2l8 34l-33 21zM3785 687l18 -4l7 5l6 24l-17 9l-21 -6zM3928 673l19 8l4 21l-18 14l-23 -25zM4007 698l6 -9l22 -3l6 3l9 20l-29 19zM3090 724l38 -17l12 35l-4 6l-22 4zM3136 698l4 -6l2 0l13 -2l29 41l-36 5zM3489 681l2 0l10 54l-13 1l-10 -21zM3559 735l25 1l7 2l3 14l-14 22zM3606 739l9 -3l31 13l-20 22l-22 -16zM3688 740l3 -2l34 -21l28 11l-12 29l-26 11l-15 -10l-9 -14zM3863 732l12 -19l19 24l-3 8l-27 -6zM3939 734l-1 -7l18 -11l9 0l8 33l-15 4l-17 -10zM2883 764l2 -1l33 -3l-7 30l-11 12l-18 -12zM3148 757l3 -7l43 -4l4 1l0 37l-50 7zM3210 750l4 -5l18 4l21 18l-1 19l-18 10l-21 -4l-2 -7zM3356 765l15 -10l23 34l-19 9l-2 -2zM3726 777l23 -6l17 9l-10 18l-24 3zM2772 804l22 -19l17 8l-15 30l-6 2zM2855 809l21 -8l19 13l9 17l-23 21l-28 -21zM3065 798l23 10l-9 21l-21 -11zM3249 812l14 -11l21 8l-1 21l-17 10l-16 -22zM3460 807l22 0l7 11l1 12l-3 7l-15 -4zM4045 830l11 -16l30 -9l11 18l-20 26l-17 0l-13 -5l0 0zM2982 848l4 -2l38 -2l4 28l-37 -5zM3423 838l17 13l-5 20l-5 0l-16 -6l-3 -1zM3560 859l1 -3l8 18l-12 28l-11 -27zM3716 856l10 -14l32 2l8 0l13 29l-40 19l-5 -4l-15 -11zM3830 845l18 0l5 12l-5 22l-35 -2l-1 -2zM2869 895l13 -18l25 20l-14 29l-19 -16zM2919 902l12 -2l12 10l-4 18l-33 6l-3 -5zM2960 914l13 -6l18 19l2 2l-27 22l-10 -21zM2996 880l36 5l11 10l-3 -1l-34 23l-19 -18zM3203 884l11 -12l3 1l6 3l9 24l-15 10l-11 -5zM3348 894l3 -2l30 10l2 7l-26 14l-12 -16zM3398 901l9 -19l16 8l-6 26l-7 3l-11 -10zM3477 895l10 -4l16 6l9 24l-18 6l-21 -11zM3516 900l22 -12l13 26l3 14l-10 12l-18 -15zM3748 897l39 -15l10 4l0 -1l2 33l-26 8l-19 -17zM3919 881l34 -3l7 8l1 1l-14 30l-18 4l-18 -23zM2795 938l22 -14l8 12l-1 12l-14 9zM2843 935l24 -13l19 16l3 4l0 0l-29 19l-21 -9zM2907 951l-5 -5l4 0l37 -7l12 21l-2 16l-5 3zM3014 933l-4 -2l36 -23l15 31l0 10l-22 17l-6 -2zM3079 940l17 -9l18 -4l-3 33l-11 5l-24 -15zM3165 923l33 -3l13 8l-6 23l-21 7l-16 -11zM3563 938l26 -12l3 0l-2 41l-28 -7l-9 -5l4 -7zM3747 922l14 15l-3 15l-27 5zM3774 938l29 -9l7 8l-3 19l-15 13l-18 -10l-3 -3zM3932 938l13 -4l12 8l-6 15l-10 3l-13 -10zM3975 948l21 -1l0 18l-11 6l-17 -10zM4011 944l5 -7l6 -2l18 3l3 18l-17 22l-9 -7l-6 -7zM2863 977l28 -21l3 5l0 53l-13 4l-7 0l-9 -8zM3053 981l20 -17l22 13l4 23l-2 1l-9 9l-34 -21zM3145 969l17 -5l14 6l-4 22l-9 16l-13 -9zM3326 973l22 0l10 25l-12 13l-18 1l-17 -10zM3361 967l1 -4l35 -4l20 29l-8 7l-40 1zM4039 990l19 -22l19 12l0 3l-6 23l-5 8l-6 -2z"/>
<path fill="#565656" stroke="#565656" d="M2846 102l22 -12l25 22l-3 6l-21 21l-23 -23zM2957 114l25 14l8 8l-2 -1l-30 4zM2983 81l0 -3l32 35l1 6l-20 8l-6 -7zM3031 114l13 -14l30 7l-8 24l-20 7l-16 -18zM3240 109l3 -5l37 7l4 4l-1 21l1 3l-45 -20zM3390 100l12 -3l23 15l0 19l-12 6l-21 -10zM3442 114l9 -3l13 8l-1 10l-8 7l-12 -5zM3480 119l25 -17l10 10l-8 27l-29 -9zM3543 110l12 -11l21 9l-1 25l-4 -1zM3588 108l16 -20l15 17l-9 30l-13 4l-11 -5zM3631 108l4 -2l32 17l-15 22l-23 -3l-6 -6zM3784 107l19 -8l8 6l6 26l-3 3l-39 9zM3988 99l32 4l-18 23l-28 1zM2822 139l14 -12l22 23l-3 13l-20 9l-12 -1zM2873 150l21 -17l18 22l-29 13l-13 -5zM2909 123l2 -8l25 -14l4 11l4 30l-9 10l-7 -4zM2998 142l2 -1l19 -11l19 18l0 35l-22 4l-14 -14zM3098 153l14 -5l16 19l-19 7l-10 3zM3381 150l4 -8l25 7l1 29l-21 11l-13 -17zM3465 151l10 -7l30 9l5 14l-4 8l-17 9l-22 -13zM3770 155l2 -1l32 -10l-16 21l-19 0zM3957 150l0 0l24 21l-19 30l-12 -5zM3967 145l6 -5l29 0l11 18l-13 9l-10 -3zM4051 163l10 -9l4 0l25 24l-2 5l-26 4zM2841 187l23 -13l10 8l14 25l-34 20l-10 -11zM2890 182l33 -15l10 2l4 13l-15 19l-11 5l-8 -3zM3088 203l10 -14l10 -2l23 35l-4 3zM3158 186l44 13l-1 0l-13 17l-32 -4zM3399 199l17 -7l13 1l5 16l-12 7l-23 -2zM3521 184l4 -7l22 -4l20 29l-16 17l-7 -1zM3640 211l28 -14l19 22l-4 14l-31 3zM3733 204l8 -13l12 -4l18 21l-26 28zM3765 183l5 -6l25 -3l23 13l-1 1l1 8l-29 10l-5 -1zM3835 200l0 -9l32 -5l-2 28l-11 4zM3989 180l9 4l2 28l-13 3l-16 -9zM2814 237l24 -9l12 10l1 10l-20 21zM2865 236l27 -16l6 2l1 27l-21 5l-11 -9zM2913 223l12 -4l16 15l1 41l-1 4l-27 -26zM3075 220l1 -10l7 -1l42 24l0 -2l-13 22l-19 -1zM3198 225l10 -18l5 0l9 16l6 26l-24 5l-7 -8zM3306 226l22 0l8 6l-8 28l-11 4l-22 -18zM3346 236l24 2l-20 29l-12 -5zM3477 240l10 -17l31 14l-18 22l-8 4zM3581 209l9 -2l14 9l-8 25l-22 7l-11 -18zM3619 217l8 0l3 1l8 21l-6 11l-21 -9zM3653 245l31 -1l3 9l-7 21l-34 -10l0 -2zM3702 222l19 -6l13 27l-1 7l-31 -3l-4 -10zM3775 220l8 2l5 26l-13 14l-25 -3l-1 -5l0 -8zM3797 219l26 -13l24 19l-7 13l-30 11l-6 -4zM3986 231l22 -5l9 8l2 12l-20 32l-20 -23zM2883 270l25 -8l28 26l-9 9l-16 6l-21 -7zM2999 245l29 23l1 5l-29 25l-31 -16zM3122 263l14 -17l30 20l-16 29l-2 -2l-15 0zM3179 268l11 -3l9 2l4 27l-14 19l-26 -18zM3215 267l20 -3l15 4l-4 14l-7 9l-21 -2zM3381 239l4 1l4 7l11 41l-26 6l-16 -23zM3447 255l16 -6l3 -3l16 26l-1 11l-2 1l-46 15l-6 -6zM3572 282l2 -1l30 17l-15 25l-8 -1zM3582 272l0 -9l21 -7l25 11l1 3l-6 18l-12 1zM3644 275l33 7l3 12l-25 19l-16 -21zM3748 274l23 3l6 22l-25 22l1 -2l-14 -20zM3870 292l26 -21l5 2l11 33l-17 11l-5 1l-6 -4zM3915 269l17 -9l11 6l-3 34l-11 3l-8 -3zM2776 303l17 -9l24 6l6 13l-12 27l-25 -4zM2836 321l7 3l9 17l-23 24l-9 -18zM3107 321l0 -4l22 -13l15 3l-9 33l-15 3zM3152 309l6 -1l21 18l3 -1l-22 24l-14 -9zM3247 306l9 -7l25 18l-3 21l-15 10l-8 2l-13 -3zM3332 328l32 -11l-3 25l-11 13l-21 -2l-5 -7zM3492 296l1 0l29 13l-6 26l-23 4zM3563 286l0 -3l13 39l-13 2l-18 -18zM3616 307l12 -6l20 22l1 5l-10 15l-32 -3l-2 -8zM3688 300l7 4l0 36l-32 -10l-1 -12zM3759 329l26 -19l12 3l5 47l-6 4l-12 -2zM3805 314l18 -7l10 31l-9 18l-15 3zM3835 299l2 0l14 -8l6 3l10 20l-26 11zM3935 316l10 -2l23 5l-16 25l-8 8zM3986 320l12 -12l24 11l8 18l-6 16l-22 15l-5 -9zM4071 291l16 6l2 11l-5 25l-38 -4l-5 -17zM2944 379l7 -4l25 8l4 24l-29 -5zM3127 360l11 -5l13 8l1 19l-17 6l-16 -10zM3167 363l20 -27l23 21l-8 16l-30 10l-5 -2zM3214 374l7 -15l16 -2l9 6l-6 37l-17 -5zM3277 360l13 -11l18 5l4 8l0 12l-23 7zM3493 357l3 -5l21 1l19 10l1 14l-5 12l-38 -15zM3607 353l29 3l6 23l-26 16l-16 -24zM3947 366l12 -10l26 14l7 6l-3 3l-13 11l-21 -6l-13 -10zM4004 381l3 -2l22 -15l23 18l-7 26zM2826 398l4 -3l10 2l9 11l2 13l-26 13l-7 -13zM3327 383l1 -12l20 -3l14 25l-10 15l-18 -3zM3412 387l27 3l14 11l-2 7l-32 11zM3471 403l16 -18l40 16l1 11l-6 12l-17 4l-32 -12l-5 -4zM3861 387l6 0l26 13l-1 29l-5 4l-11 9l-25 -14zM3906 398l15 -12l12 -3l10 8l-14 35l-26 -2zM3953 397l20 5l1 16l-16 23l-15 -12zM3991 401l11 -13l38 26l0 4l-25 13l-25 -16zM4060 388l20 -5l13 17l-18 25l-10 -3l-11 -8l3 0zM2880 441l27 -3l11 7l5 10l-2 6l-4 4l-40 3zM3130 440l8 -13l23 23l-3 15l-5 4l-19 -10zM3174 449l13 -15l13 0l21 27l2 -1l-53 10l-1 -3zM3211 428l12 -15l21 4l7 12l-5 20l-15 7zM3267 433l16 -5l21 7l6 37l1 -2l-40 -6l-13 -12zM3467 433l29 7l-15 32l-15 -2l-4 -6zM3509 442l18 -7l1 22l-11 31l-23 -12zM3584 436l27 -13l4 9l10 33l-10 13l-29 -16zM3631 435l24 0l14 13l2 13l-4 1l-28 3zM3881 463l1 -6l11 -10l21 21l-9 18l-16 -7zM2809 487l13 -8l29 6l0 9l-29 27l-19 -16zM2923 482l3 -3l19 20l1 29l-15 9l-17 -4l-6 -5zM2981 480l8 5l-4 9l-21 -3zM3103 479l21 -11l24 12l-15 22l-25 11l-7 -7zM3381 489l15 -9l15 21l-14 16l-19 -15zM3460 502l8 -15l17 0l22 15l3 6l-27 22l-1 2zM3535 470l19 10l-9 22l-8 3l-10 -4l-3 -4zM3573 479l8 -5l28 14l-3 5l-20 16l-23 -7zM3623 489l9 -11l28 -2l-15 37l-9 -3l-12 -16zM3710 485l9 -8l11 -3l5 24l-13 10l-12 -15zM3799 478l21 -1l8 4l-4 18l-13 0zM3842 484l25 -15l9 20l-18 32l-22 -20zM4027 478l14 -7l23 1l6 19l-8 10l-23 0zM2778 528l20 -8l15 14l6 11l-19 20l-8 -12zM2992 521l20 11l1 7l-20 16l-19 -20zM3066 514l22 3l8 7l1 12l-23 10l-9 -5zM3216 530l8 -5l2 2l9 17l-3 21l-21 -20zM3239 522l33 -3l18 7l2 17l-11 7l-29 -6zM3308 527l13 -18l19 7l7 35l-21 4l-19 -12zM3405 526l14 -14l19 -2l-7 39l-11 2l-13 -4zM3449 508l1 0l27 30l-16 16l-17 -2zM3518 513l13 7l1 23l-23 6l-15 -12zM3638 526l11 3l9 4l8 15l-30 25l-14 -17zM3676 529l23 -23l15 17l1 18l-17 9l-16 -6zM3805 536l18 -18l7 -3l24 18l5 17l-3 5l1 1zM3938 527l1 -1l29 -2l2 2l-11 24l-8 5zM3984 527l21 12l-1 5l-10 9l-19 -1zM3131 571l2 -4l23 -14l18 17l1 7l-13 13zM3192 571l12 -11l24 23l3 12l-4 3l-35 -17zM3292 563l9 -11l21 15l-4 29l-1 2l-34 -13zM3470 564l11 -14l3 0l14 9l3 16l-16 13l-7 -2zM3514 561l24 -6l9 18l-3 3l-25 0zM3670 558l17 8l-1 22l-4 3l-35 0l-5 -5l2 -1zM3751 562l25 -10l12 27l-21 20l-12 -5zM3788 547l1 -1l5 -5l51 22l-21 16l-26 -6zM3873 564l1 -6l50 -24l14 31l-5 14l-28 12l-12 -6zM4047 574l24 -10l15 2l4 27l-1 9l-21 10l-24 -27zM2857 622l27 8l-2 9l-19 11l-6 0l-3 -6zM2942 597l14 7l4 10l-17 18l-24 -20zM3024 595l18 -6l15 0l3 9l0 20l-14 3l-21 -14zM3359 612l20 -30l16 35l-1 12l-15 5l-11 -4zM3511 585l33 -1l3 13l-34 24l-20 -23l0 -1zM3651 604l31 1l-3 28l-23 0zM3693 605l3 -5l30 13l-17 36l-7 -1l-15 -13zM3915 604l26 -14l13 11l-1 28l-25 7l-11 -14zM4013 613l24 -18l24 26l-2 5l-25 7l-20 -4zM2950 643l18 -20l15 12l5 29l-37 -2zM2995 632l19 -11l22 13l-20 28l-16 6l-1 0zM3111 646l10 -14l37 -8l3 5l-22 46l-2 2zM3171 633l27 12l0 17l-4 10l-32 9l-14 -2zM3237 622l4 -6l3 -2l13 1l17 28l-7 26l-3 1l-2 0l-9 -3zM3328 651l21 -2l-2 15l-19 8zM3380 647l17 -1l-2 -2l11 35l-8 25l-8 0l-9 -5l0 -2zM3407 641l35 4l4 12l-28 13zM3654 643l1 0l23 3l15 11l-26 30l-3 -1zM3700 665l10 -3l4 5l-29 59l0 3l-15 -35zM3780 632l37 2l2 5l-2 13l-11 18l-21 2l-10 -8zM3879 653l27 -20l13 16l1 16l-20 23l-18 1l-3 -12zM3939 649l21 -9l21 10l-2 9l-24 10l-16 -8zM2795 693l4 0l14 3l-13 30l-13 6l-11 -21zM2946 676l3 -1l40 2l0 1l3 27l-41 7zM3067 680l18 -29l13 3l27 32l-4 8l-41 17l-5 3zM3204 676l6 -9l35 10l5 4l-31 24zM3330 688l0 -2l18 -9l16 21l3 2l-30 1zM3358 649l6 -5l9 -1l0 39l-16 -19zM3420 682l28 -15l10 4l-17 29l-24 10l-10 -5zM3469 671l1 2l14 1l-14 31l-15 -7zM3495 678l15 -4l26 38l0 14l-15 11l-11 -1zM3579 673l7 5l-5 46l-31 0l-1 0l-1 -13zM3596 678l16 6l9 9l-12 27l-9 6l-10 -5zM3827 693l39 10l-2 4l-12 15l-20 -7zM3880 705l0 -1l4 -3l15 -2l26 23l-3 6l-19 7zM3007 719l45 13l-2 26l-34 10l-20 -10zM3257 689l5 0l3 24l-30 21l-16 -3l3 -16zM3286 728l25 9l3 19l1 -1l-32 -3zM3336 714l36 -3l9 4l-15 27l-17 9l-20 1l-2 -18zM3378 745l14 -26l8 -1l8 8l15 26l-10 33l-14 4zM3772 731l3 -4l17 8l4 10l-17 25l-3 -2l-16 -10zM3906 750l3 -6l15 -2l1 5l-15 17zM3978 718l20 -8l13 28l-1 4l-13 8l-11 -2zM4023 740l34 -22l14 6l1 21l-25 20l-24 -18zM2838 765l34 0l-3 26l-20 7l-17 -15zM2930 760l4 -3l27 15l0 -1l-12 21l-26 -3zM3026 780l27 -9l0 3l4 15l-13 23l-5 3l-14 -17zM3491 756l0 0l14 -4l13 0l8 37l-28 12l-10 -12zM3531 749l14 -8l2 1l25 42l0 0l-14 14l-20 -9zM3601 766l16 16l-3 14l-29 -7l1 -2zM3807 755l25 18l-25 21l-16 -16zM4054 773l25 -20l19 20l-9 20l-31 5zM2911 812l8 -10l25 4l-3 28l-6 3l-19 -6zM2958 805l12 -16l13 28l-6 17l-3 2l-18 -4zM2998 820l18 -11l13 16l-4 8l-32 1zM3147 808l2 -6l46 -6l4 6l-18 33l-23 1l-11 -23zM3346 810l23 -2l1 0l-4 26l-22 -7zM3430 809l16 2l10 22l-11 5l-16 -13zM3505 820l30 -16l20 7l4 29l-3 6l-3 0l-48 -9zM3697 773l14 6l6 31l-1 23l-12 13l-42 -12l-1 -5zM3879 803l10 1l11 25l-1 20l-32 -5l-4 -9zM2787 848l5 -8l5 -3l32 7l-15 31l-4 1l-19 -5zM2892 866l-1 -5l18 -17l20 6l1 35l-17 1zM3088 851l19 -2l12 28l-18 0l-16 -2zM3242 831l16 20l-1 4l-24 8l-7 -4zM3273 858l2 -6l19 -9l15 12l0 12l-25 15zM3454 850l13 -1l17 2l-4 26l-9 6l-21 -7zM3497 850l2 -6l45 12l-12 17l-24 13l-14 -9zM3640 870l1 -7l15 -18l42 12l5 22l-35 29l-7 -6zM3915 835l35 1l4 7l-2 22l-34 4l-6 -13zM3970 843l57 5l3 7l-2 -2l-54 24l-5 -9zM2821 892l4 -2l29 6l3 15l-24 12l-7 -12zM3058 898l4 0l14 -12l18 2l-6 30l-16 8zM3110 890l14 0l11 4l0 8l-12 11l-20 3zM3149 890l0 2l38 -6l0 21l-28 3l-9 -9zM3288 896l27 -17l15 11l-2 18l-28 12l-15 -5l-3 -5zM3437 891l7 -3l20 9l-5 20l-9 7l-19 -5zM3577 885l16 18l-1 12l-29 12l0 -14zM3608 901l23 -20l15 29l-26 11l-13 -7l-3 1zM3728 904l9 0l4 12l-19 41l-1 -1l-2 -26zM3810 888l36 1l3 2l-16 32l-13 3l-8 -6zM3857 897l21 9l-15 25l-17 -3zM3972 897l31 29l-5 11l-28 -2l-12 -10zM4043 859l-1 1l12 4l19 32l-1 14l-25 13l-18 -4zM3128 922l15 -11l8 7l5 32l-16 7l-19 0zM3220 926l22 -12l22 3l5 6l-13 34l-28 2l-9 -7zM3308 933l29 -14l9 16l2 19l0 1l-23 4l-5 -8zM3364 932l26 -13l12 13l-6 13l-30 8zM3410 954l6 -19l11 1l19 3l1 10l-14 28l-6 3zM3504 939l14 -3l19 15l0 7l-6 3l-35 1l-1 -6zM3630 933l26 -13l7 2l1 4l4 29l-32 20l0 -3zM3679 932l29 6l4 23l-5 8l-26 -13zM3823 939l17 -2l21 8l4 14l-15 20l-1 -1l-26 -18zM2815 968l15 -7l20 12l3 33l-47 -13zM2902 959l41 29l-32 23l-7 1zM2989 998l39 -18l8 2l2 12l-4 33l-2 0l-38 -9zM3107 975l13 -4l14 -2l4 28l-24 0zM3232 972l28 -3l3 10l10 19l-10 9l-25 -6zM3277 977l30 -13l7 4l-14 28l-16 3zM3459 952l20 13l3 4l-9 28l-31 -13zM3537 980l4 -5l6 -7l7 4l7 28l-20 19zM3719 979l0 -1l5 -7l1 0l28 -5l4 4l-8 25l-11 8zM3907 964l14 -5l14 12l2 24l-27 5zM3947 976l9 -3l17 8l-13 18l-11 -7z"/>
<path fill="#686868" stroke="#686868" d="M3943 78l27 3l6 17l-15 31l-7 5l-2 0l-25 -7l0 -10zM3088 109l10 -6l17 6l-6 24l-16 4l-9 -9zM3232 134l2 -7l45 16l-1 6l-38 -4zM3301 119l13 -8l11 3l6 20l-9 6l-21 -2zM3701 85l3 0l33 13l-14 22l-17 -2l-7 -5zM3872 103l12 -21l12 6l15 29l0 9l-15 6l-8 0l1 1zM4032 107l2 0l9 7l5 23l-10 12l-10 0l-11 -19zM4052 113l24 -10l23 9l-2 16l-30 9l-7 2zM3054 155l21 -8l8 7l3 28l-9 10l-9 5l-16 -12zM3169 150l19 6l10 33l-41 -13l-4 -4zM3198 156l26 -14l8 8l2 34l-18 7l-5 0l1 -1zM3294 156l3 -3l-1 -3l22 3l17 24l-39 -1l-3 -5zM3336 153l9 -7l21 4l-3 20l-14 3l0 2zM3575 148l5 -1l13 4l-7 37l-9 1l-16 -24zM3634 159l19 5l8 16l1 5l-27 19l-3 -2zM3712 137l18 -2l25 16l-2 17l-1 4l-13 5l-22 -16zM3821 143l-1 -1l12 9l-8 24l-20 -11zM3841 152l38 -5l-1 -1l-7 28l-36 8l1 -2zM2794 186l20 -3l12 5l4 28l-24 11l-4 -2l-11 -10zM2947 189l4 -2l24 33l-29 3l-14 -15zM2964 188l29 -3l12 12l-11 23l-6 -4zM3118 184l20 -6l6 -1l1 6l-1 24l-6 9zM3261 195l24 -9l3 6l7 27l-9 18l-6 0l-12 -16zM3304 188l36 1l1 -1l-10 23l-22 3zM3496 195l18 -7l21 33l-10 8l-36 -19zM3603 153l11 -2l9 4l-2 45l-6 1l-20 -7zM4011 179l14 -8l14 -1l9 23l-5 13l-18 9l-10 -4zM3017 202l25 -3l17 9l-2 10l-23 35l-31 -19l-1 -7zM3065 235l15 25l-15 21l-4 2l-17 -13l-1 -5zM3939 217l9 -3l12 5l12 8l-9 20l-14 2l-9 -5zM2833 284l22 -23l16 11l4 26l-28 9l-9 -1l-7 -14zM3498 276l8 -4l42 7l-17 19l-5 3l-28 -14zM3703 260l29 4l2 3l-8 25l-22 2l-7 -7l-1 -10zM3956 268l12 1l20 23l1 3l-15 12l2 0l-24 -6zM2859 320l26 -11l17 5l-9 34l-13 -3l-10 -6zM3065 296l2 0l26 18l0 3l-27 19l-9 -6zM3378 310l1 -1l26 -4l6 0l6 8l1 6l-19 34l-21 -17zM3434 324l0 -12l46 -16l4 45l-5 5l-37 -12zM3705 309l22 -2l15 18l-32 23l0 0l-4 -6zM3975 323l-2 -2l12 34l-23 -9zM2785 356l2 -3l20 3l6 18l3 7l-1 1l-24 1zM2858 352l9 8l-21 25l-12 -4l-5 -6zM2879 363l13 2l10 11l-6 13l-32 10l-10 -10zM3358 365l13 -14l18 15l3 10l-19 8zM3423 337l7 9l1 28l-25 0l-2 0l0 -12zM3446 349l31 11l-1 18l-13 12l-17 -10zM3565 338l14 -3l10 5l3 7l-5 19l-33 4l-2 -15zM3677 389l28 -23l3 -1l14 29l-3 5l-12 6l-5 4l-21 -19zM3842 341l32 -12l5 4l-16 38l-7 2l-24 -13zM2951 417l28 4l4 3l-16 21l-27 4l-7 -10zM3042 401l28 -26l19 14l-15 37l-8 6l-29 -10zM3103 390l5 -1l23 13l0 10l-12 16l-31 -4zM3142 401l18 -6l7 -1l12 29l-15 14l-20 -22zM3258 369l7 -2l15 25l-3 22l-14 7l-11 -15zM3293 397l23 -10l6 25l-11 9l-20 -6zM3376 399l18 -8l2 3l7 28l-7 12l-20 -7l-9 -13zM3646 387l14 7l4 3l-12 24l-27 1l-8 -8l4 -6zM3715 423l15 -8l13 16l-8 24l-1 2l-13 2zM3736 401l4 -3l41 -23l14 3l0 41l-9 7l-31 -2zM3803 379l6 -4l14 -4l23 13l-6 40l-13 -1l-19 -6zM2830 449l29 -14l4 7l-2 26l-5 4l-25 -4zM2934 468l3 -5l27 -5l11 16l-23 13l-1 2zM2979 452l17 -19l21 3l-4 35l-16 3l-6 -6zM3032 437l0 0l31 7l1 8l-15 37l-7 0l-18 -18zM3078 442l6 -5l28 2l4 17l-18 8l-18 -15zM3419 431l33 -11l3 5l-4 36l-40 -15l-1 -2zM3683 448l18 -23l4 1l8 35l-15 9l-15 -12zM4065 437l6 1l0 0l-4 21l-21 0zM3000 491l16 -7l13 17l-12 17l-21 -12l0 -5zM3162 482l0 0l3 0l21 27l-25 12l-12 -17zM3236 469l-1 0l14 -4l9 8l5 31l-30 4l1 1zM3275 475l34 9l4 14l-15 19l-20 -10zM3324 478l1 2l23 -11l19 16l-5 15l-17 3l-19 -7zM3411 473l2 -10l36 10l2 7l-9 14l0 0l-18 4zM3742 470l1 0l25 11l-7 17l-12 0zM3927 470l27 -2l2 4l-26 28l-12 -8zM3985 485l27 -4l-1 3l11 22l-14 19l-22 -12l-1 0zM2858 503l16 25l-28 18l-10 -5l-8 -11zM3590 519l26 -15l16 18l-19 29l-17 -3zM3730 520l17 -6l13 -1l12 22l-1 2l-27 12l-12 -9zM4020 537l12 -24l25 2l9 35l-27 11l-18 -20zM2805 576l23 -20l11 5l9 23l-8 11l-28 -3l-5 -10zM2909 547l19 4l8 36l-27 18l-1 1l-12 -23zM2939 549l18 -6l4 0l24 22l-1 1l-21 21l-15 -4zM3247 558l29 8l-8 21l-9 10l-14 -2l-2 -13zM3386 573l1 -1l12 -10l15 3l10 30l-20 9zM3562 583l3 -3l27 -16l15 3l15 19l-1 1l-33 26l-6 2l-19 -19zM3954 569l10 -5l18 1l-3 20l-16 2l-12 -6zM2855 602l8 -11l22 1l10 17l-7 10l-31 -9zM3074 601l32 -7l4 30l-12 14l-12 -2l-11 -12zM3121 590l6 -8l29 15l0 15l-32 5zM3170 601l14 -11l42 16l-5 8l-22 18l-24 -12l-3 -6zM3208 643l20 -17l15 41l-33 -10zM3408 617l19 -8l13 7l-2 18l-32 -4l0 -1zM3636 599l2 4l6 28l1 5l-2 -1l-42 -13zM3736 616l13 -6l12 6l6 12l-8 29l-30 -1l-6 -2l1 -2zM3798 586l24 4l-5 32l-34 -4l-7 -13zM3838 589l20 -18l4 1l18 21l-27 32l-20 1l-2 -4zM3971 604l12 0l15 8l0 13l-8 13l-21 -9zM2900 638l2 -9l6 -10l2 2l26 21l-1 21l-2 1l-12 3zM3289 652l20 -8l9 8l-4 22l-1 5l-30 -6zM3488 619l17 18l2 18l-3 4l-11 4l0 -1l-11 -3zM3836 641l15 0l15 11l-1 18l-32 -18zM2839 689l16 -22l7 3l23 23l-1 6l-17 10l-15 -1zM2901 699l1 -5l19 -13l12 0l2 34l-7 14zM3007 681l13 -5l32 10l7 27l-9 7l-40 -13l-1 0zM3730 670l35 3l10 10l-8 29l-4 3l-28 -11zM3960 681l27 -10l11 14l-5 10l-21 7l-6 0zM4055 687l15 -12l33 12l-10 18l-16 8l-10 -6zM2818 695l8 1l16 18l-15 23l-17 -7zM2852 725l13 1l6 24l0 5l-29 1l-3 -11zM2881 725l15 -12l26 27l1 6l-5 3l-29 1zM2951 726l40 -8l0 3l-8 34l-13 5l-31 -14l0 -6zM3067 734l5 -7l5 -1l20 26l-10 11l-23 -9l-3 3zM3270 723l2 2l-3 25l-7 6l-21 -16zM3423 720l25 -7l20 9l12 21l-2 2l-43 5zM3809 734l17 -8l24 7l-1 7l-5 23l-3 1l-26 -19zM2791 753l0 -7l13 -3l19 8l4 9l-6 20l-2 -1l-19 -5zM2978 776l-1 -1l12 -6l16 8l4 17l-22 12zM3068 774l24 1l11 21l-9 0l-23 -11zM3105 773l6 -10l27 0l-1 29l-2 6l-19 -2zM3269 770l8 -6l30 3l-3 17l-14 10l-20 -5zM3324 766l2 0l20 1l15 28l-25 2l-15 -12zM3435 763l39 -2l-1 32l-26 2l-19 -1l-2 -3zM3658 759l17 -5l10 13l-32 52l-23 -23l1 2l3 -15zM3858 771l5 -20l31 5l2 20l-1 10l-7 4l-8 -2zM3935 754l17 13l-6 24l-35 -5l1 -11zM3966 769l14 -6l14 3l1 32l-26 6l-5 -11zM4009 765l8 -5l22 17l4 21l-9 17l-24 -14zM2823 793l1 -1l18 16l-3 22l-3 1l-32 -5zM3102 810l11 -5l15 4l-1 6l-19 20l-17 0l-2 -6zM3212 809l21 3l-1 11l-14 31l-6 0l-15 -16zM3300 809l15 -12l13 14l0 21l-11 10l-17 -13zM3384 808l14 -6l11 2l4 2l3 19l-15 26l-18 -6l-4 -11zM3570 809l10 -13l34 10l-1 0l-31 30l-12 -1zM3624 810l19 24l4 1l-14 18l-38 -11zM3729 814l26 -4l4 25l-31 -3zM3769 808l9 -19l2 1l18 12l0 2l-25 25l-1 0zM3815 802l-2 0l30 -23l5 1l19 16l-17 32l-20 1zM3902 800l4 -3l41 2l6 14l-4 9l-35 2zM3971 820l28 -8l26 13l1 18l-57 -5l-1 -10zM2843 845l3 -2l30 20l-2 2l-13 19l-31 -7zM2941 847l10 0l22 3l7 24l-8 19l-18 5l-12 -10zM3038 843l7 -10l5 -3l22 11l2 3l-1 25l-19 13l-11 -10zM3117 848l21 -23l13 24l-10 30l-3 1l-10 -2zM3161 849l25 -1l15 15l-8 13l-42 5zM3326 857l9 -13l27 3l5 7l-24 24l-2 1l-14 -12zM3379 858l16 7l4 8l-9 19l-34 -8zM3573 852l1 1l9 -2l39 10l1 6l-25 21l-16 -17zM3780 842l28 -27l14 26l-19 30l-10 -5zM3867 860l29 3l5 14l-6 15l-9 2l-24 -8l-1 -4zM2783 888l3 -3l22 6l1 22l-22 13l-6 -1l-4 -6zM3236 876l26 -8l10 24l-3 11l-22 -2zM3709 888l13 9l-13 28l-31 -6l-3 -5zM3977 887l-1 -2l54 -23l-14 56l-6 3zM2971 964l27 -24l22 32l-41 18l-11 -8zM3280 929l15 5l9 20l-30 12l-8 -10zM3462 935l5 -5l21 7l-10 14l-14 -9zM3603 930l14 8l4 37l-11 1l-8 -6zM3889 911l11 -4l17 26l-4 15l-14 6l-17 -1l-7 -15zM4057 935l21 -10l14 6l-14 35l-14 -13zM3190 973l21 -6l7 4l4 31l-2 3l-34 -12zM3490 971l41 1l-7 8l-36 32l-10 -11zM3566 974l24 7l10 5l-17 22l-11 -6zM3639 984l37 -17l25 12l0 0l-24 31l-35 -17zM3771 974l15 7l2 10l-24 5zM3801 983l13 -12l22 16l-21 26l-2 0l-14 -20zM3865 986l11 -16l20 2l3 29l0 1l-19 -1zM3986 986l12 -6l4 7l-3 15l-25 8l-6 -5zM3613 991l10 2l1 -3l4 8l-8 23l-23 8l-4 -17z"/>
<path fill="#2e2e2e" stroke="#2e2e2e" d="M3949 99l10 1l4 7l-6 12l-3 3l-1 0l-11 -3l1 -4zM2809 111l7 -9l10 5l-1 9l-8 6l-8 -3zM2858 108l12 -5l13 11l-1 4l-13 10l-11 -12zM2969 124l14 7l3 3l-1 2l-15 4zM2989 98l1 -1l14 15l-1 3l-8 4l-3 -3zM3310 125l6 -3l6 1l3 9l-5 4l-10 -1zM3451 122l4 -2l4 4l-1 4l-2 2l-5 -2zM3594 118l7 -9l8 7l-4 14l-5 1l-6 -3zM3707 92l1 -1l20 9l-10 12l-9 -1l-5 -3zM3750 116l3 -1l6 3l-4 16l-1 1l-12 -9zM3787 120l11 -4l3 3l4 14l-1 0l-21 5zM3826 107l17 -3l3 0l10 19l-20 3l-6 -4zM3883 112l5 -8l5 3l7 12l-1 3l-6 3l-3 0l0 0zM3987 108l17 1l-9 13l-15 0zM2836 152l8 -7l12 13l-1 8l-12 6l-7 -3zM2926 123l1 -3l9 -5l2 4l1 11l-3 3l-3 -1zM2957 161l4 -5l17 -5l1 16l-18 1l-3 0zM3061 170l12 -5l5 5l2 15l-6 6l-5 2l-9 -6zM3109 160l9 -2l8 10l-11 4l-5 1zM3207 165l8 -4l2 3l1 10l-6 4l-2 0l0 0zM3256 159l17 2l-1 7l-10 4l-5 0zM3297 157l1 -1l0 -1l12 1l8 12l-19 0l-3 -3zM3346 161l4 -3l10 1l-2 9l-6 2l0 0zM3424 153l6 -2l8 4l1 9l-9 5l-5 -1zM3473 151l4 -3l12 3l2 7l-2 3l-7 3l-8 -5zM3573 161l2 0l5 2l-3 12l-3 1l-6 -9zM3643 176l8 1l4 7l0 2l-10 7l-2 -1zM3729 148l7 0l11 9l0 5l-1 3l-6 2l-9 -6zM3776 154l1 -1l13 -3l-6 8l-8 0zM3847 159l21 -3l1 0l-5 16l-21 4l0 0zM3913 166l6 -3l11 3l-3 19l-3 2l-5 -1zM3976 144l3 -3l17 0l6 11l-7 5l-6 -2zM4063 167l4 -6l4 0l14 15l-1 3l-16 2zM2846 191l8 -5l5 4l5 9l-12 7l-5 -4zM3228 201l7 -4l6 1l2 11l-11 -1zM3271 199l12 -6l3 4l3 15l-6 10l-2 0l-7 -9zM3408 199l7 -2l4 0l1 6l-4 3l-8 -2zM3498 203l8 -3l9 14l-5 3l-13 -7zM3531 193l2 -3l9 -2l8 12l-6 8l-4 0zM3610 162l5 -1l4 3l0 18l-4 0l-8 -3zM3684 193l1 -3l14 -6l11 8l-5 7l-11 5zM3992 192l4 1l2 12l-8 2l-5 -4zM4023 188l5 -3l5 -1l4 10l-2 4l-7 4l-3 -2zM4073 198l16 -2l4 11l-13 5l-10 -7zM2832 244l8 -3l4 3l1 4l-7 8zM3066 247l7 11l-7 8l-2 0l-7 -4l-1 -2zM3087 222l0 -4l5 -2l19 12l0 0l-6 9l-8 -1zM3209 226l5 -7l2 0l4 6l2 11l-10 2l-3 -2zM3305 238l13 -1l3 4l-4 17l-7 1l-12 -10zM3349 248l10 2l-8 10l-4 -1zM3487 245l4 -6l11 5l-7 8l-2 2zM3539 247l6 -3l3 1l6 11l-1 3l-1 1l-1 1l-21 -4zM3670 253l12 -1l2 4l-2 8l-15 -3l0 -1zM3708 237l10 -5l6 14l-1 3l-14 -2l-2 -5zM3900 232l11 -5l4 1l0 11l-7 3l-3 -1zM3949 227l3 -1l4 1l5 4l-3 7l-5 1l-4 -2zM2812 257l2 0l8 17l-2 5l-12 -2l-1 -7zM2844 284l12 -13l8 6l3 14l-15 7l-5 -1l-5 -9zM2894 270l13 -6l17 15l-4 6l-10 4l-12 -5zM3099 276l10 1l6 16l-11 7l-16 -11zM3186 278l5 -2l3 2l2 11l-6 7l-10 -6zM3408 255l10 1l3 1l-7 14l-2 0zM3513 285l3 -2l18 3l-7 8l-3 1l-12 -6zM3583 292l1 -1l10 7l-4 9l-4 -1zM3594 274l0 -3l8 -3l10 5l0 1l-3 6l-4 1zM3651 285l19 5l2 4l-15 12l-10 -12zM3704 269l12 2l2 2l-4 10l-9 0l-3 -2l-1 -4zM3800 273l6 -5l2 1l5 10l0 1l-7 2l-4 -1zM4029 274l16 9l3 6l-18 11l-13 -6l0 -2zM2919 340l6 -2l5 12l-1 7l-3 2l-8 0l-4 -5zM2967 304l2 -3l1 -1l4 0l11 6l2 8l-15 2zM3120 325l0 -2l8 -5l6 1l-3 14l-6 1zM3158 315l1 0l9 6l0 1l-8 9l-5 -4zM3258 315l5 -5l10 9l1 13l-8 5l-4 0l-6 -2zM3294 324l11 -8l6 12l-5 10l-11 -2zM3394 312l0 0l10 -2l1 0l3 3l1 3l-8 11l-8 -5zM3441 328l-1 -6l28 -9l1 26l-3 4l-20 -8zM3561 298l1 -1l6 24l-7 1l-10 -12zM3685 312l2 2l1 12l-12 -4l0 -3zM3813 329l7 -2l4 11l-4 7l-5 1zM3946 327l4 -1l9 2l-6 10l-3 4zM3975 336l1 -1l5 18l-13 -6zM2859 360l6 5l-12 12l-7 -2l0 -3zM2959 388l3 -2l10 3l0 9l-10 -2zM2973 354l15 -2l1 1l-1 4l-7 6l-9 -3zM3075 353l17 -13l7 14l-5 13l-4 1l-12 -7zM3129 367l6 -2l6 4l0 8l-7 2l-8 -4zM3227 375l3 -4l4 -1l4 1l-2 13l-6 -1zM3415 345l4 5l0 17l-13 0l-1 0l-1 -7zM3571 346l7 -1l5 2l3 5l-3 10l-19 4l-2 -8zM3613 358l15 1l3 11l-14 10l-7 -13zM3666 360l3 -5l14 4l2 2l-12 10l-5 -2zM3746 351l12 -7l0 0l9 11l-14 8zM3897 343l3 0l8 18l-7 6l-12 -6zM3906 331l9 -7l4 1l5 20l-2 6l-7 0zM4019 380l0 0l10 -7l10 8l-3 12zM4052 343l12 1l1 1l-2 6l-6 3l-7 -6zM2822 404l1 -1l7 2l5 5l1 7l-14 7l-4 -6zM2869 420l17 -5l3 14l-15 3l-3 -4zM2916 396l4 -7l10 0l5 13l-10 14l-6 -5zM2950 429l13 2l2 3l-8 10l-13 1l-2 -5zM2999 391l10 -10l11 19l-2 11l-1 0l-14 -2l-2 -3zM3149 407l10 -4l3 1l8 15l-8 8l-13 -13zM3183 403l15 -6l5 12l-6 9l-6 0zM3293 404l12 -4l3 11l-6 5l-9 -2zM3340 384l1 -6l8 0l6 11l-4 7l-8 -1zM3485 406l7 -6l14 5l1 5l-3 4l-6 1l-12 -4l-1 -2zM3641 397l4 2l1 1l-4 10l-10 0l-2 -3l0 -3zM3675 415l8 5l-7 8l-4 -5zM3753 408l0 -1l15 -8l4 1l1 14l-4 3l-11 -1zM3824 393l2 -1l5 -2l10 5l-3 15l-6 0l-7 -3zM3911 399l9 -7l7 -1l7 5l-8 20l-15 -1zM4060 396l9 -4l6 8l-9 14l-4 -2l-5 -4l0 0zM2776 445l0 -4l19 -2l4 6l0 10l-7 5l-13 -9zM2934 472l1 -2l11 -1l3 6l-8 5l-1 0zM2996 458l7 -9l9 2l-2 13l-6 2l-4 -2zM3184 449l6 -6l4 0l10 11l0 0l-22 4l0 0zM3223 429l6 -9l12 2l5 8l-4 10l-7 3zM3333 434l8 -6l12 1l4 7l-7 13l-14 5zM3476 449l13 5l-7 13l-7 0l-1 -3zM3595 453l9 -4l2 3l3 12l-3 4l-11 -5zM3642 445l10 1l5 5l0 5l-1 0l-11 1zM3690 443l6 -8l2 0l2 13l-4 4l-6 -4zM3839 443l8 0l12 8l0 3l-16 8l-5 -4zM4031 447l13 -8l6 4l-12 15l-6 3l-1 -1zM2815 494l7 -5l15 4l1 4l-16 16l-9 -9zM2875 484l-1 -5l3 -3l23 -2l-8 26l-7 -2zM2921 491l2 -2l9 10l0 16l-8 4l-9 -2l-2 -3zM3001 496l5 -2l6 6l-5 7l-8 -5l0 -2zM3108 476l11 -5l12 6l-7 12l-14 5l-4 -4zM3166 494l2 -1l0 0l9 12l-10 4l-5 -7zM3234 480l0 0l6 -3l6 5l3 17l-17 1l0 0zM3432 476l1 -4l13 5l1 2l-3 5l0 0l-7 1zM3674 479l2 0l7 4l0 4l-11 10l-3 -1zM3937 474l14 -2l1 2l-13 14l-6 -4zM3995 499l15 -1l0 0l6 11l-8 12l-12 -6l0 -1zM4048 484l4 -2l10 0l2 7l-4 3l-8 0zM2783 536l9 -4l8 7l2 5l-9 10l-4 -5zM2960 507l1 0l8 1l0 2l-6 7l-2 -1zM2997 522l10 6l0 3l-8 8l-11 -9zM3038 516l2 0l2 2l-1 8l-5 -1l-2 0l0 -3zM3181 534l10 -3l3 1l-2 7l-5 4l-6 -6zM3261 526l15 -2l9 4l0 7l-4 4l-14 -4zM3363 525l9 -2l10 8l1 10l-8 6l-9 -4zM3449 521l1 0l10 13l-5 6l-9 -1zM3549 529l5 -2l10 3l2 12l-11 6l-4 -9zM3752 523l6 -3l5 0l4 8l0 1l-10 4l-5 -3zM3889 507l13 4l7 5l1 7l0 2l-29 13l-2 -10zM3946 535l0 0l12 -2l0 1l-4 8l-4 2zM2863 560l12 -7l5 1l2 2l-6 14l-9 0zM3083 561l8 -5l5 8l1 1l-3 3l-11 3l-2 -3zM3142 565l-1 -2l14 -8l10 9l-1 5l-7 6zM3300 568l5 -5l10 7l-1 14l-1 1l-17 -5zM3351 573l8 -1l7 2l0 1l-8 11l-8 -1zM3396 572l0 -1l6 -4l7 1l3 13l-9 4zM3436 573l6 -1l10 2l4 12l-8 6l-8 -3zM3890 561l0 -1l18 -9l5 11l-1 5l-11 5l-4 -3zM3958 574l3 -1l7 0l-2 8l-5 0l-4 -3zM4067 575l9 -4l5 1l2 10l-1 3l-7 4l-9 -10zM2816 622l1 -6l12 1l1 3l-2 10l-9 -3zM2863 632l12 4l-1 3l-8 6l-2 -1l-2 -3zM2941 605l7 3l1 5l-8 9l-11 -10zM3036 591l9 -3l6 1l2 3l-1 11l-6 1l-10 -7zM3082 618l12 -2l1 11l-4 6l-5 -1l-5 -5zM3126 593l3 -3l12 7l-1 6l-14 3zM3368 612l11 -15l9 18l-2 7l-8 1l-5 -1zM3420 617l8 -4l6 3l-1 9l-15 -2l0 0zM3663 609l13 0l-1 13l-10 -1zM3699 612l3 -3l16 8l-8 20l-6 0l-7 -6zM3739 622l7 -4l7 3l4 7l-4 18l-19 -1l-2 -2l-1 -1zM3800 593l14 3l-3 16l-19 -2l-4 -6zM3839 598l13 -10l1 0l11 12l-16 19l-11 0l-1 -3zM3892 603l6 4l2 10l-15 12l-9 -7zM3926 613l12 -5l5 4l0 12l-10 4l-6 -7zM3973 615l6 0l6 3l0 6l-4 4l-8 -3zM4025 610l13 -10l13 15l-1 3l-14 4l-11 -3zM2956 643l9 -11l8 6l3 17l-20 -2zM3125 658l6 -8l21 -4l2 3l-13 26l-2 1zM3173 653l10 5l0 7l-2 3l-11 3l-5 0zM3333 652l8 -1l0 7l-8 3zM3394 657l5 -1l0 0l4 13l-3 9l-3 0l-3 -2l0 -1zM3423 648l19 2l2 6l-15 8zM3531 670l1 -2l30 -2l1 3l-18 23zM3690 676l6 1l1 1l-15 34l0 0l-8 -18zM3791 644l14 2l0 2l0 5l-5 6l-8 2l-4 -4zM3830 678l6 -9l20 12l2 6l-1 1l-24 -6zM3947 652l9 -4l9 4l-1 3l-10 5l-7 -4zM4005 644l5 -6l9 3l2 15l-11 0l-5 -8zM4042 643l12 -4l1 1l-1 12l-7 8l-3 -1zM2800 704l1 0l4 1l-4 12l-4 2l-4 -8zM2910 704l0 -2l10 -6l5 -1l2 16l-5 8zM3080 685l8 -13l6 1l10 14l-1 4l-17 7l-3 0zM3287 698l1 -1l19 3l6 8l-6 11l-16 -6l-2 -2zM3338 685l1 -2l7 -3l6 8l0 1l-11 0zM3361 662l2 -2l4 0l-1 15l-5 -8zM3424 686l17 -10l6 3l-10 18l-14 6l-5 -4zM3602 680l9 3l4 6l-5 14l-6 2l-5 -1zM3746 690l12 1l4 4l-2 11l-2 1l-10 -4zM3794 696l10 -2l2 3l2 12l-8 4l-9 -4zM3889 709l1 -1l0 -1l7 -1l9 9l0 2l-8 3zM3974 685l16 -7l5 9l-2 6l-13 5l-3 -1zM4026 702l1 -4l10 -1l1 1l4 8l-12 7zM2963 732l19 -4l0 1l-4 17l-7 3l-13 -7l0 -2zM3013 729l27 7l-2 16l-19 5l-11 -6zM3108 730l14 -6l5 14l-1 2l-9 0zM3149 701l3 -5l2 -1l8 1l17 23l-22 2zM3271 736l1 1l-1 12l-4 2l-9 -6zM3290 731l14 5l1 9l0 0l-16 -2zM3348 724l19 -1l4 3l-7 13l-9 6l-11 0l-1 -11zM3442 727l14 -6l11 5l6 12l-1 1l-23 1zM3482 696l1 0l5 27l-6 2l-6 -12zM3606 744l5 -2l15 8l-10 11l-10 -10zM3826 738l8 -3l11 3l-1 3l-2 10l-1 1l-12 -9zM3865 736l6 -11l12 15l-2 4l-16 -4zM3946 737l0 -3l10 -6l3 1l4 16l-7 2l-8 -5zM3980 721l13 -4l7 17l-2 4l-5 3l-8 -1zM4038 744l12 -8l6 3l0 6l-9 8l-10 -6zM2799 753l1 -2l6 -2l11 4l2 5l-5 10l0 0l-11 -3zM2898 771l1 -1l11 0l-2 10l-4 5l-7 -4zM2934 765l2 -1l14 7l-1 0l-5 10l-13 -2zM2996 779l0 0l6 -3l8 4l0 8l-8 5zM3074 780l13 2l7 12l-6 1l-12 -6zM3116 770l5 -6l14 0l0 17l-2 2l-10 -1zM3159 761l2 -4l24 -2l2 0l0 21l-28 4zM3211 765l2 -2l8 1l9 8l0 10l-8 4l-9 -3l-2 -2zM3277 764l4 -2l15 2l-2 8l-7 5l-10 -3zM3488 765l1 -1l5 -1l6 0l3 16l-11 6l-5 -6zM3605 777l10 9l-2 7l-16 -4l0 0zM3805 763l12 9l-12 8l-8 -6zM4022 778l5 -3l14 9l2 13l-6 10l-14 -8zM4061 771l15 -13l12 12l-5 11l-19 4zM2865 821l11 -4l11 6l2 10l-10 9l-15 -9zM2920 813l4 -7l13 3l-1 13l-4 1l-10 -2zM3008 819l8 -4l6 6l-2 4l-14 0zM3069 811l12 5l-7 10l-10 -4zM3206 828l9 4l1 5l-8 16l-2 0l-9 -8zM3260 813l7 -4l9 3l1 9l-8 4l-8 -8zM3350 829l9 -2l1 1l-2 9l-9 -1zM3394 824l6 -2l4 0l1 1l1 8l-6 9l-6 -3l-2 -3zM3475 814l7 -1l4 4l0 6l-2 1l-5 -1zM3526 818l14 -7l11 4l2 15l-1 1l-3 2l-23 -6zM3578 812l6 -6l14 4l0 0l-14 14l-4 1zM3618 819l11 11l1 2l-7 9l-22 -6zM3703 802l6 3l2 11l0 9l-4 4l-16 -4l-1 -2zM3737 817l12 -1l1 10l-13 0zM3780 804l5 -8l0 0l9 6l0 1l-10 12l-3 -1zM3825 803l0 0l13 -10l2 0l10 8l-8 15l-9 0zM3913 811l3 -2l19 3l2 5l-1 5l-17 1zM4050 823l6 -9l16 -3l5 8l-10 14l-10 1l-6 -2l0 -1zM2798 846l1 -5l3 -1l17 3l-8 17l-2 1l-10 -3zM2909 868l0 -2l8 -8l9 3l-1 15l-6 2zM2990 854l2 -2l21 0l3 17l-22 -3zM3094 849l10 -1l7 16l-8 0l-11 -2zM3127 848l10 -9l5 10l-5 14l0 0l-5 -2zM3169 852l12 -1l9 9l-5 6l-22 3zM3240 839l10 10l-1 3l-13 5l-4 -3zM3587 864l1 0l4 -1l16 5l0 2l-10 9l-7 -7zM3792 847l13 -15l9 14l-11 17l-5 -3zM3832 848l7 1l2 3l-3 9l-13 0l0 -1zM3877 874l14 2l3 7l-3 7l-5 1l-10 -4l-2 -2zM3924 840l20 -1l1 5l-1 12l-19 3l-4 -8zM2785 900l2 -1l9 2l1 10l-11 7l-3 -1l-1 -2zM2919 906l6 -1l5 4l-2 8l-15 3l-1 -2zM2964 922l6 -1l8 7l0 1l-11 9l-5 -8zM3013 887l18 2l4 6l0 0l-17 11l-9 -10zM3072 899l0 0l8 -5l7 1l-3 12l-7 4zM3113 897l8 0l5 2l1 5l-7 6l-10 3zM3151 891l0 0l21 -2l1 12l-17 1l-5 -6zM3301 900l11 -7l7 5l-1 7l-12 5l-6 -2l-2 -3zM3352 894l1 -1l12 4l0 3l-10 5l-4 -6zM3398 899l5 -11l10 4l-4 16l-4 1l-6 -6zM3445 903l2 -1l8 3l-2 8l-3 3l-7 -2zM3484 899l4 -3l8 4l4 11l-7 2l-12 -4zM3705 904l7 6l-7 15l-16 -4l-1 -3zM3728 918l2 1l2 4l-6 15l-1 0l-1 -10zM3820 893l21 0l2 2l-9 19l-9 1l-4 -4zM3930 882l20 -2l4 4l0 2l-9 16l-9 3l-10 -14zM3994 899l0 -1l22 -10l-5 23l-3 1zM2919 950l-1 -2l0 -2l23 -3l7 12l-1 11l-3 1zM2975 969l14 -12l11 17l-20 8l-6 -4zM3229 928l11 -8l14 2l3 4l-8 19l-17 1l-5 -3zM3283 937l7 3l6 10l-16 7l-3 -5zM3327 938l10 -5l4 6l0 7l0 0l-9 0l-2 -1zM3377 934l9 -5l4 5l-2 5l-11 2zM3468 936l3 -4l10 4l-5 7l-7 -4zM3509 947l6 -2l8 7l1 3l-3 3l-16 -1l-2 -2zM3567 944l12 -5l0 0l0 17l-13 -3l-2 -1l0 -4zM3639 952l11 -6l3 1l1 2l1 12l-14 7l0 -1zM3690 942l15 3l2 13l-3 4l-13 -7zM3747 933l9 9l-3 8l-16 3zM4068 940l9 -5l6 3l-5 14l-7 -6zM2822 979l7 -4l9 6l1 15l-22 -6zM2876 985l13 -9l1 1l0 25l-6 3l-3 0l-4 -5zM3059 994l9 -8l11 6l1 10l0 2l-5 3l-15 -9zM3200 975l12 -3l4 3l2 17l0 0l-20 -5zM3458 964l8 5l2 2l-5 12l-12 -5zM3725 983l0 0l2 -3l1 0l11 -3l2 3l-4 10l-4 4zM3809 983l5 -4l9 7l-8 9l-2 0l-4 -7zM3886 987l5 -7l7 1l1 12l0 0l-8 0zM3952 979l6 -3l9 6l-8 9l-5 -3zM3986 994l6 -3l4 4l-4 9l-14 4l-2 -3zM4051 984l8 -9l7 5l0 1l-3 9l-2 3l-2 0zM3610 997l5 0l1 0l1 4l-3 12l-11 4l-3 -8z"/>
</g>
<rect x="2809.8" y="130.7" width="1239" height="852.5" filter="url(#grain)" opacity="0.12"/>
</g>
<rect x="2854.1" y="932.9" width="193.8" height="11" fill="#fff"/>
<text x="2875.6" y="909.4" font-size="64" fill="#fff" text-anchor="start">1 μm</text>
<g clip-path="url(#clipD)">
<rect x="2808.7" y="1078.5" width="1245.1" height="837.4" fill="#414141"/>
<path d="M3514.2 1062 C3589 1036.7 4000.4 1047 4075.2 1062 C4150 1076.9 4103.3 1148 4075.2 1174.2 C4047.2 1200.3 3909.8 1240.5 3864.9 1258.3 C3820 1276.1 3766.7 1304.1 3738.6 1307.4 C3710.6 1310.7 3675.1 1285.2 3654.5 1282.9 C3633.9 1280.5 3603.1 1294.1 3584.4 1289.9 C3565.7 1285.7 3523.6 1281.7 3514.2 1251.3 C3504.9 1220.9 3439.4 1087.2 3514.2 1062Z" fill="#3a3a3a" filter="url(#bl8)"/>
<path d="M3174.1 1559.8 C3171.3 1541.1 3169.2 1508.4 3170.6 1489.7 C3172 1471 3177.2 1436.4 3184.7 1419.6 C3192.1 1402.8 3214.6 1376.6 3226.7 1363.5 C3238.9 1350.4 3261.8 1330.3 3275.8 1321.4 C3289.8 1312.5 3316 1300.6 3331.9 1296.9 C3347.8 1293.1 3370.7 1290.6 3395 1293.4 C3419.3 1296.2 3480.6 1312.3 3514.2 1317.9 C3547.9 1323.5 3616.6 1334 3647.5 1335.4 C3678.3 1336.9 3712 1323.9 3745.7 1328.4 C3779.3 1332.9 3856 1357 3899.9 1369.1 C3943.9 1381.3 4051.9 1373.6 4075.2 1419.6 C4098.6 1465.6 4098.6 1665 4075.2 1714.1 C4051.9 1763.2 3937.3 1772.6 3899.9 1787.8 C3862.5 1802.9 3822.8 1819.8 3794.7 1827.7 C3766.7 1835.7 3717.6 1845.2 3689.6 1847.4 C3661.5 1849.5 3612.4 1846.7 3584.4 1843.9 C3556.3 1841 3505.4 1831.5 3479.2 1826.3 C3453 1821.2 3411.4 1810.4 3388 1805.3 C3364.6 1800.1 3324.4 1796.6 3303.9 1787.8 C3283.3 1778.9 3248.7 1759.7 3233.7 1738.7 C3218.8 1717.6 3199.6 1653.8 3191.7 1630 C3183.7 1606.1 3176.9 1578.5 3174.1 1559.8Z" fill="#4b4b4b" filter="url(#bl4)"/>
<path d="M3647.5 1314.4 L3632.8 1312.1 L3612.4 1309 L3588.3 1305.3 L3562.6 1301.3 L3537.2 1297.2 L3514.2 1293.4 L3493.1 1289.5 L3471.9 1285.2 L3451.1 1281 L3431.1 1277 L3412.3 1273.5 L3395 1270.9 L3379.7 1269 L3365.9 1267.5 L3353.4 1266.5 L3341.5 1266.3 L3329.9 1267 L3317.9 1268.8 L3305.7 1271.8 L3293.7 1275.7 L3282 1280.5 L3270.4 1286.3 L3259 1292.9 L3247.8 1300.4 L3236.6 1309 L3225.4 1318.8 L3214.5 1329.5 L3203.9 1340.8 L3193.9 1352.2 L3184.7 1363.5 L3176.1 1375 L3167.9 1387.1 L3160.3 1399.4 L3153.5 1411.5 L3147.5 1423.1 L3142.6 1433.6 L3138.8 1442.7 L3136 1450.5 L3134.1 1457.7 L3133 1465 L3132.3 1473.1 L3132.1 1482.7 L3132.3 1493.9 L3133 1506.1 L3134.3 1519.1 L3136.2 1532.6 L3138.5 1546.3 L3141.2 1559.8 L3144.4 1573.6 L3148.2 1587.9 L3152.5 1602.4 L3157.2 1616.7 L3162.1 1630.7 L3167.1 1644 L3172.9 1657.3 L3179.4 1671 L3186.3 1684.3 L3192.8 1696.5 L3198.3 1706.7 L3202.2 1714.1 L3233.7 1738.7 L3229.3 1728.2 L3223.1 1713.7 L3215.8 1696.6 L3208.2 1678.3 L3201 1660.3 L3195.2 1644 L3190.5 1629.2 L3186.2 1614.6 L3182.5 1600.4 L3179.2 1586.5 L3176.4 1572.9 L3174.1 1559.8 L3172.3 1547.3 L3171 1535.4 L3170.2 1523.9 L3169.9 1512.6 L3170 1501.2 L3170.6 1489.7 L3171.6 1477.9 L3173 1465.8 L3174.8 1453.8 L3177.3 1441.9 L3180.5 1430.5 L3184.7 1419.6 L3190 1409.3 L3196.3 1399.3 L3203.5 1389.8 L3211.2 1380.6 L3219 1371.9 L3226.7 1363.5 L3234.4 1355.5 L3242.3 1347.8 L3250.4 1340.5 L3258.7 1333.6 L3267.2 1327.3 L3275.8 1321.4 L3284.7 1316.1 L3293.7 1311.2 L3303 1306.7 L3312.4 1302.9 L3322.1 1299.6 L3331.9 1296.9 L3341.4 1294.8 L3350.4 1293.1 L3359.5 1292.1 L3369.6 1291.7 L3381.2 1292.1 L3395 1293.4 L3411.5 1295.9 L3430.1 1299.7 L3450.3 1304.3 L3471.4 1309.2 L3492.9 1313.9 L3514.2 1317.9 L3537.2 1321.4 L3562.6 1324.9 L3588.3 1328.2 L3612.4 1331.2 L3632.8 1333.6 L3647.5 1335.4Z" fill="url(#gRim)" filter="url(#bl2)"/>
<path d="M3738.6 1317.9 L3864.9 1266.7 L4075.2 1174.2 L4075.2 1419.6 L3899.9 1367 L3745.7 1327Z" fill="url(#gWed)" filter="url(#bl4)"/>
<path d="M3651 1282.9 L3675.5 1293.4 L3738.6 1315.8 L3689.6 1328.4 L3665 1346 L3658 1314.4Z" fill="#a4a4a4" filter="url(#bl2)"/>
<path d="M3654.5 1353 C3663.6 1344.6 3721.1 1326.8 3745.7 1328.4 C3770.2 1330 3867 1359.6 3899.9 1369.1 C3932.9 1378.6 4057.7 1406.1 4075.2 1423.1 C4092.8 1440.1 4089.3 1530 4075.2 1538.8 C4061.2 1547.6 3963 1515.7 3935 1510.8 C3906.9 1505.9 3819.3 1494.6 3794.7 1489.7 C3770.2 1484.8 3703.6 1469.4 3689.6 1461.7 C3675.5 1454 3658 1423.5 3654.5 1412.6 C3651 1401.7 3645.4 1361.4 3654.5 1353Z" fill="#545454" filter="url(#bl8)"/>
<path d="M3682.5 1605.4 C3694.2 1599 3752.7 1596.7 3794.7 1598.4 C3836.8 1600.2 3906.9 1609.5 3935 1615.9 C3963 1622.4 3974.7 1632.3 3963 1637 C3951.4 1641.7 3904.6 1644 3864.9 1644 C3825.1 1644 3755 1643.4 3724.6 1637 C3694.2 1630.6 3670.9 1611.9 3682.5 1605.4Z" fill="#5e5e5e" filter="url(#bl8)"/>
<path d="M3331.9 1756.2 C3331.9 1744 3363.7 1726.3 3388 1714.1 C3412.3 1702 3478.7 1675.3 3514.2 1665 C3549.8 1654.8 3617.1 1640.7 3654.5 1637 C3691.9 1633.2 3757.3 1634.2 3794.7 1637 C3832.1 1639.8 3897.6 1647.7 3935 1658 C3972.4 1668.3 4065.9 1703.4 4075.2 1714.1 C4084.6 1724.9 4028.5 1728.8 4005.1 1738.7 C3981.7 1748.5 3928 1775.9 3899.9 1787.8 C3871.9 1799.6 3822.8 1819.8 3794.7 1827.7 C3766.7 1835.7 3717.6 1845.2 3689.6 1847.4 C3661.5 1849.5 3612.4 1846.7 3584.4 1843.9 C3556.3 1841 3505.4 1831.5 3479.2 1826.3 C3453 1821.2 3407.7 1814.6 3388 1805.3 C3368.4 1795.9 3331.9 1768.4 3331.9 1756.2Z" fill="#353535" filter="url(#bl4)"/>
<path d="M3303.9 1637 C3309.1 1615.9 3324.9 1601.3 3345.9 1587.9 C3367 1574.5 3402 1563.9 3430.1 1556.3 C3458.1 1548.7 3481.5 1540.6 3514.2 1542.3 C3547 1544.1 3626.4 1554.6 3626.4 1566.9 C3626.4 1579.1 3547 1599.6 3514.2 1615.9 C3481.5 1632.3 3458.1 1643.4 3430.1 1665 C3402 1686.7 3365.2 1737.5 3345.9 1745.7 C3326.7 1753.9 3321.4 1732.2 3314.4 1714.1 C3307.4 1696 3298.6 1658 3303.9 1637Z" fill="#626262" filter="url(#bl8)"/>
<path d="M3423.1 1566.9 C3444.1 1552.3 3482.7 1545.8 3486.2 1549.3 C3489.7 1552.8 3462.8 1567.4 3444.1 1587.9 C3425.4 1608.4 3392.1 1646.3 3374 1672 C3355.9 1697.8 3344.2 1735.2 3335.4 1742.2 C3326.7 1749.2 3317.3 1731.7 3321.4 1714.1 C3325.5 1696.6 3343 1661.5 3360 1637 C3376.9 1612.4 3402 1581.5 3423.1 1566.9Z" fill="#858585" filter="url(#bl4)" opacity="0.75"/>
<path d="M3132.1 1482.7 L3133 1491 L3134.1 1502.4 L3135.6 1516 L3137.4 1530.8 L3139.7 1545.7 L3142.6 1559.8 L3146.2 1573.6 L3150.4 1587.9 L3155.1 1602.4 L3160.1 1616.7 L3165.4 1630.7 L3170.6 1644 L3176 1656.1 L3181.5 1667.1 L3187.3 1677.7 L3193.2 1688.7 L3199.4 1700.6 L3205.7 1714.1 L3212.5 1729.4 L3219.7 1745.8 L3227.2 1763.2 L3234.5 1781.4 L3241.5 1800.2 L3247.8 1819.3 L3253.6 1840.6 L3259.2 1864.5 L3264.4 1889 L3269.1 1912 L3272.9 1931.6 L3275.8 1945.5 L4075.2 1945.5 L4075.2 1700.1 L4068 1703.3 L4058.4 1707.6 L4046.8 1712.8 L4033.7 1718.7 L4019.6 1725 L4005.1 1731.7 L3989.6 1738.9 L3972.7 1747 L3954.7 1755.5 L3936.3 1764.2 L3917.9 1772.8 L3899.9 1780.7 L3882.4 1788.4 L3864.9 1796.1 L3847.3 1803.5 L3829.8 1810.6 L3812.3 1817.1 L3794.7 1822.8 L3777.2 1827.8 L3759.7 1832.3 L3742.2 1836.2 L3724.6 1839.4 L3707.1 1842 L3689.6 1843.9 L3672 1844.9 L3654.5 1845 L3637 1844.5 L3619.4 1843.5 L3601.9 1842 L3584.4 1840.3 L3566.7 1838.2 L3548.8 1835.5 L3530.9 1832.5 L3513.2 1829.2 L3495.9 1825.9 L3479.2 1822.8 L3463.1 1819.9 L3447.5 1817 L3432.3 1814.1 L3417.4 1811.1 L3402.6 1808.2 L3388 1805.3 L3373.4 1802.7 L3358.9 1800.6 L3344.6 1798.5 L3330.6 1795.9 L3317 1792.5 L3303.9 1787.8 L3291 1781.7 L3278.4 1774.6 L3266.2 1766.7 L3254.5 1758 L3243.7 1748.6 L3233.7 1738.7 L3225 1728 L3217.1 1716.6 L3210.1 1704.5 L3203.6 1691.8 L3197.5 1678.6 L3191.7 1665 L3186.1 1650.6 L3181 1635.2 L3176.3 1619.2 L3171.9 1603.4 L3167.7 1588.1 L3163.6 1573.9 L3159.6 1560.4 L3155.7 1547.1 L3152 1534.4 L3148.6 1522.7 L3145.4 1512.4 L3142.6 1503.7 L3140.1 1497.2 L3137.9 1492.3 L3136 1488.8 L3134.4 1486.3 L3133.1 1484.4 L3132.1 1482.7Z" fill="url(#gBand)" filter="url(#bl2)"/>
<path d="M3177.6 1615.9 C3181.7 1626.5 3191.7 1658.6 3202.2 1679.1 C3212.7 1699.5 3223.8 1721.4 3240.8 1738.7 C3257.7 1756 3279.3 1772.3 3303.9 1782.8 C3328.4 1793.4 3358.8 1795.7 3388 1801.8 C3417.2 1807.9 3446.5 1813.6 3479.2 1819.3 C3511.9 1825 3549.3 1832.8 3584.4 1836.1 C3619.4 1839.5 3654.5 1842.5 3689.6 1839.6 C3724.6 1836.8 3759.7 1829.7 3794.7 1819.3 C3829.8 1808.9 3864.9 1792.4 3899.9 1777.2 C3935 1762 3975.9 1741.6 4005.1 1728.1 C4034.3 1714.7 4063.6 1701.9 4075.2 1696.6" fill="none" stroke="#575757" stroke-width="13" filter="url(#bl2)"/>
<path d="M3864.9 1924.5 C3864.9 1908.1 4040.2 1826.3 4075.2 1826.3 C4110.3 1826.3 4110.3 1908.1 4075.2 1924.5 C4040.2 1940.9 3864.9 1940.9 3864.9 1924.5Z" fill="#8e8e8e" filter="url(#bl25)" opacity="0.8"/>
<rect x="2813.7" y="1083.5" width="1235.1" height="827.4" filter="url(#grain)" opacity="0.08"/>
</g>
<circle cx="3415.1" cy="1548.8" r="242.3" fill="none" stroke="#fff" stroke-width="6" stroke-dasharray="20.5 9.7"/>
<rect x="3185.1" y="1560.5" width="240.7" height="6.8" fill="#fff"/>
<text x="3213.8" y="1538.1" font-size="64" fill="#fff" text-anchor="start">60 μm</text>
<text x="2859" y="1827.5" font-size="64" fill="#fff" text-anchor="start">30 μm</text>
<rect x="2886.5" y="1855.8" width="124.5" height="11" fill="#fff"/>
<rect x="270.5" y="3938.5" width="1013" height="816.3" fill="none" stroke="#000" stroke-width="4"/>
<path d="M272.2 4754.8v16M398.6 4754.8v16M525 4754.8v16M651.4 4754.8v16M777.8 4754.8v16M904.2 4754.8v16M1030.6 4754.8v16M1157 4754.8v16M1283.4 4754.8v16M297.5 4754.8v8M322.8 4754.8v8M348 4754.8v8M373.3 4754.8v8M423.9 4754.8v8M449.2 4754.8v8M474.4 4754.8v8M499.7 4754.8v8M550.3 4754.8v8M575.6 4754.8v8M600.8 4754.8v8M626.1 4754.8v8M676.7 4754.8v8M702 4754.8v8M727.2 4754.8v8M752.5 4754.8v8M803.1 4754.8v8M828.4 4754.8v8M853.6 4754.8v8M878.9 4754.8v8M929.5 4754.8v8M954.8 4754.8v8M980 4754.8v8M1005.3 4754.8v8M1055.9 4754.8v8M1081.2 4754.8v8M1106.4 4754.8v8M1131.7 4754.8v8M1182.3 4754.8v8M1207.6 4754.8v8M1232.8 4754.8v8M1258.1 4754.8v8M270.5 4754.8h-16M270.5 4573.6h-16M270.5 4392.3h-16M270.5 4211.1h-16M270.5 4029.8h-16M270.5 4718.6h-8M270.5 4682.3h-8M270.5 4646.1h-8M270.5 4609.8h-8M270.5 4537.3h-8M270.5 4501.1h-8M270.5 4464.8h-8M270.5 4428.6h-8M270.5 4356.1h-8M270.5 4319.8h-8M270.5 4283.6h-8M270.5 4247.3h-8M270.5 4174.8h-8M270.5 4138.6h-8M270.5 4102.3h-8M270.5 4066.1h-8M270.5 3993.6h-8M270.5 3957.3h-8" stroke="#000" stroke-width="4" fill="none"/>
<text x="272.2" y="4829.8" font-size="60" fill="#000" text-anchor="middle">0</text>
<text x="398.6" y="4829.8" font-size="60" fill="#000" text-anchor="middle">1</text>
<text x="525" y="4829.8" font-size="60" fill="#000" text-anchor="middle">2</text>
<text x="651.4" y="4829.8" font-size="60" fill="#000" text-anchor="middle">3</text>
<text x="777.8" y="4829.8" font-size="60" fill="#000" text-anchor="middle">4</text>
<text x="904.2" y="4829.8" font-size="60" fill="#000" text-anchor="middle">5</text>
<text x="1030.6" y="4829.8" font-size="60" fill="#000" text-anchor="middle">6</text>
<text x="1157" y="4829.8" font-size="60" fill="#000" text-anchor="middle">7</text>
<text x="1283.4" y="4829.8" font-size="60" fill="#000" text-anchor="middle">8</text>
<text x="242.5" y="4773.3" font-size="60" fill="#000" text-anchor="end">1.0</text>
<text x="242.5" y="4592.1" font-size="60" fill="#000" text-anchor="end">1.2</text>
<text x="242.5" y="4410.8" font-size="60" fill="#000" text-anchor="end">1.4</text>
<text x="242.5" y="4229.6" font-size="60" fill="#000" text-anchor="end">1.6</text>
<text x="242.5" y="4048.3" font-size="60" fill="#000" text-anchor="end">1.8</text>
<path d="M272.2 4070.6 C273.3 4071.6 276.3 4070 278.5 4076.9 C280.7 4083.9 282.9 4102 285.4 4112.1 C288 4122.3 290.4 4129.4 293.9 4137.6 C297.5 4145.9 302 4153.7 306.7 4161.7 C311.4 4169.8 316.6 4178.3 322.3 4185.8 C327.9 4193.4 334.3 4200.7 340.7 4207.1 C347.1 4213.5 353.4 4218.6 360.5 4224.1 C367.6 4229.5 376.1 4234.5 383.2 4239.7 C390.3 4244.9 395 4249.8 403 4255.3 C411.1 4260.7 422.9 4267.8 431.4 4272.3 C439.9 4276.7 445.5 4278.4 454 4282.2 C462.6 4286 466.5 4289 482.4 4294.9 C498.3 4300.9 529.9 4311.5 549.3 4317.8 C568.8 4324.1 582.6 4328.1 599.2 4332.8 C615.8 4337.5 632.5 4341.4 649.1 4345.9 C665.7 4350.3 685.5 4354.9 699 4359.6 C712.5 4364.3 721.3 4368.4 730.2 4373.9 C739 4379.4 744.4 4385.4 752 4392.6 C759.6 4399.9 765.5 4406.7 775.7 4417.6 C785.9 4428.5 800.6 4445.7 813.1 4458.1 C825.6 4470.6 837 4480.5 850.5 4492.4 C864 4504.4 879.6 4517.4 894.2 4529.8 C908.7 4542.3 924.3 4555.3 937.8 4567.3 C951.3 4579.2 961.7 4589.1 975.2 4601.6 C988.8 4614 1004.3 4628.6 1018.9 4642.1 C1033.4 4655.6 1048 4669.6 1062.6 4682.6 C1077.1 4695.6 1098.9 4713.8 1106.2 4720" fill="none" stroke="#19c990" stroke-width="6.5" stroke-linecap="round" stroke-dasharray="8 18.5"/>
<path d="M272.2 4070.6 C272.8 4071.6 274.7 4070 276 4076.9 C277.3 4083.9 277.7 4102 279.8 4112.1 C281.8 4122.3 284.7 4128.9 288.3 4137.6 C291.8 4146.4 296.5 4156.1 301 4164.6 C305.5 4173.1 310 4181.1 315.2 4188.7 C320.4 4196.2 326.5 4203.3 332.2 4209.9 C337.9 4216.5 342.1 4222 349.2 4228.3 C356.3 4234.7 366.7 4242.3 374.7 4248.2 C382.7 4254.1 389.8 4258.8 397.4 4263.8 C404.9 4268.7 411.5 4273.2 420 4277.9 C428.5 4282.6 438.9 4287.8 448.4 4292.1 C457.8 4296.3 462 4297.9 476.7 4303.4 C491.5 4309 518.5 4319.1 536.9 4325.3 C555.2 4331.5 570.1 4336.2 586.7 4340.9 C603.4 4345.6 620 4348.9 636.6 4353.4 C653.3 4357.8 672 4363 686.5 4367.7 C701.1 4372.4 713.5 4376.5 723.9 4381.4 C734.3 4386.3 740.6 4390.8 748.9 4397 C757.2 4403.2 763.4 4408.4 773.8 4418.8 C784.2 4429.2 798.8 4446.9 811.2 4459.4 C823.7 4471.8 835.1 4481.7 848.7 4493.7 C862.2 4505.6 877.8 4518.6 892.3 4531.1 C906.9 4543.6 922.4 4556.5 936 4568.5 C949.5 4580.5 959.9 4590.3 973.4 4602.8 C986.9 4615.3 1002.5 4629.8 1017 4643.3 C1031.6 4656.8 1046.1 4670.9 1060.7 4683.9 C1075.2 4696.9 1097.1 4715 1104.3 4721.3" fill="none" stroke="#1070b4" stroke-width="6.5" stroke-linecap="round" stroke-dasharray="8 18.5"/>
<path d="M272.2 4029.8 C272.2 4043.5 271.6 4093.2 272.4 4112.1 C273.2 4131.1 275 4133.4 276.9 4143.3 C278.9 4153.2 280.9 4162.2 284 4171.7 C287.1 4181.1 291.1 4191 295.3 4200 C299.6 4209 304.8 4217.9 309.5 4225.5 C314.2 4233.1 318.5 4239 323.7 4245.3 C328.9 4251.7 334.1 4257.6 340.7 4263.8 C347.3 4269.9 355.8 4276.7 363.4 4282.2 C370.9 4287.6 378.5 4291.6 386 4296.3 C393.6 4301.1 398.3 4304.8 408.7 4310.5 C419.1 4316.2 434.7 4324.2 448.4 4330.4 C462.1 4336.5 476.1 4342 490.9 4347.4 C505.6 4352.8 519.8 4357.6 536.9 4362.7 C553.9 4367.9 574.3 4373.3 593 4378.3 C611.7 4383.3 633.5 4388 649.1 4392.6 C664.7 4397.3 675.1 4402 686.5 4406.4 C698 4410.7 709.4 4414.7 717.7 4418.8 C726 4423 729.1 4425.6 736.4 4431.3 C743.7 4437 752 4444.3 761.4 4453.1 C770.7 4462 781.1 4472.4 792.5 4484.3 C804 4496.3 816.4 4512.9 829.9 4524.8 C843.5 4536.8 860.1 4545.6 873.6 4556 C887.1 4566.4 897.5 4574.7 911 4587.2 C924.5 4599.7 940.1 4616.8 954.7 4630.9 C969.2 4644.9 982.7 4657.4 998.3 4671.4 C1013.9 4685.4 1032.4 4701.3 1048.2 4715 C1064 4728.8 1085.6 4747.3 1093.1 4753.7" fill="none" stroke="#cc1018" stroke-width="6.5" stroke-linecap="round" stroke-dasharray="8 18.5"/>
<path d="M272.2 4365.1 C272 4363.6 270.2 4361.2 271.3 4355.9 C272.3 4350.5 274.8 4340.5 278.3 4333.2 C281.9 4325.9 287.8 4317.6 292.5 4311.9 C297.2 4306.3 299.6 4304.1 306.7 4299.2 C313.8 4294.2 325.6 4287.4 335 4282.2 C344.5 4277 353.9 4272.3 363.4 4268 C372.8 4263.8 377.5 4261.9 391.7 4256.7 C405.9 4251.5 429.5 4243.2 448.4 4236.8 C467.3 4230.5 486.2 4224.3 505.1 4218.4 C524 4212.5 542.8 4207.1 561.7 4201.4 C580.6 4195.7 599.5 4189.8 618.4 4184.4 C637.3 4179 648.5 4175.7 675.1 4168.8 C701.7 4161.9 739.6 4153.9 777.8 4143.1 C816 4132.2 862.1 4116.5 904.2 4103.7 C946.3 4090.8 985.3 4078.4 1030.6 4066.1 C1075.9 4053.7 1151.7 4035.8 1176 4029.8" fill="none" stroke="#19c990" stroke-width="6.5" stroke-linecap="round"/>
<path d="M272.2 4383.2 C272 4381.5 270.2 4379.3 271.3 4372.9 C272.3 4366.4 274.8 4352.6 278.3 4344.5 C281.9 4336.5 287.8 4330.1 292.5 4324.7 C297.2 4319.3 299.6 4317.4 306.7 4311.9 C313.8 4306.5 325.6 4298 335 4292.1 C344.5 4286.2 353.9 4281.2 363.4 4276.5 C372.8 4271.8 377.5 4269.4 391.7 4263.8 C405.9 4258.1 429.5 4249.3 448.4 4242.5 C467.3 4235.7 486.2 4229 505.1 4222.7 C524 4216.3 542.8 4210.1 561.7 4204.2 C580.6 4198.3 599.5 4192.9 618.4 4187.2 C637.3 4181.6 648.5 4177.6 675.1 4170.2 C701.7 4162.9 739.6 4154.4 777.8 4143.1 C816 4131.8 862.1 4115.7 904.2 4102.3 C946.3 4088.9 989.5 4074.5 1030.6 4062.4 C1071.7 4050.3 1130.7 4035.2 1150.7 4029.8" fill="none" stroke="#1070b4" stroke-width="6.5" stroke-linecap="round"/>
<path d="M272.2 4482.9 C272.2 4483 272.1 4497.5 272.1 4483.4 C272.1 4469.3 271.8 4415.8 272.4 4398.4 C273 4380.9 274 4384.2 275.5 4378.5 C277 4372.9 278.3 4369.1 281.2 4364.4 C284 4359.6 288.3 4354.7 292.5 4350.2 C296.8 4345.7 299.6 4342.9 306.7 4337.4 C313.8 4332 325.6 4323.7 335 4317.6 C344.5 4311.5 353.9 4305.6 363.4 4300.6 C372.8 4295.6 377.5 4293.7 391.7 4287.8 C405.9 4281.9 429.5 4272.7 448.4 4265.2 C467.3 4257.6 486.2 4249.8 505.1 4242.5 C524 4235.2 542.8 4228.3 561.7 4221.2 C580.6 4214.2 599.5 4206.8 618.4 4200 C637.3 4193.1 648.5 4189.6 675.1 4180.2 C701.7 4170.7 739.6 4157 777.8 4143.1 C816 4129.2 862.1 4111.4 904.2 4096.9 C946.3 4082.4 991.6 4067.3 1030.6 4056.1 C1069.6 4044.9 1120.1 4034.2 1138 4029.8" fill="none" stroke="#cc1018" stroke-width="6.5" stroke-linecap="round"/>
<text x="777" y="4915" font-size="66.3" fill="#000" text-anchor="middle">Capacity (mA h)</text>
<text transform="translate(120,4347) rotate(-90)" font-size="66.3" text-anchor="middle">Voltage (V)</text>
<path d="M932.5 4258.4H1001.5" stroke="#cc1018" stroke-width="6.5" stroke-linecap="round"/>
<text x="1017" y="4276.4" font-size="53.5" fill="#000" text-anchor="start">10 μm</text>
<path d="M932.5 4328.1H1001.5" stroke="#1070b4" stroke-width="6.5" stroke-linecap="round"/>
<text x="1017" y="4346.1" font-size="53.5" fill="#000" text-anchor="start">100 μm</text>
<path d="M932.5 4397.8H1001.5" stroke="#19c990" stroke-width="6.5" stroke-linecap="round"/>
<text x="1017" y="4415.8" font-size="53.5" fill="#000" text-anchor="start">1 mm</text>
<g fill="url(#gR)"><circle cx="1714.4" cy="4199.8" r="12.4"/><circle cx="1734.5" cy="4201.9" r="12.4"/><circle cx="1754.7" cy="4203.9" r="12.4"/><circle cx="1774.8" cy="4201.9" r="12.4"/><circle cx="1794.9" cy="4210" r="12.4"/><circle cx="1815" cy="4210" r="12.4"/><circle cx="1835.1" cy="4212" r="12.4"/><circle cx="1855.3" cy="4216.1" r="12.4"/><circle cx="1875.4" cy="4218.1" r="12.4"/><circle cx="1895.5" cy="4222.1" r="12.4"/><circle cx="1915.6" cy="4311.3" r="12.4"/><circle cx="1935.7" cy="4313.4" r="12.4"/><circle cx="1955.9" cy="4317.4" r="12.4"/><circle cx="1976" cy="4319.4" r="12.4"/><circle cx="1996.1" cy="4319.4" r="12.4"/><circle cx="2016.2" cy="4321.5" r="12.4"/><circle cx="2036.3" cy="4319.4" r="12.4"/><circle cx="2056.5" cy="4321.5" r="12.4"/><circle cx="2076.6" cy="4325.5" r="12.4"/><circle cx="2096.7" cy="4325.5" r="12.4"/><circle cx="2116.8" cy="4445.1" r="12.4"/><circle cx="2136.9" cy="4447.1" r="12.4"/><circle cx="2157.1" cy="4451.2" r="12.4"/><circle cx="2177.2" cy="4453.2" r="12.4"/><circle cx="2197.3" cy="4455.2" r="12.4"/><circle cx="2217.4" cy="4455.2" r="12.4"/><circle cx="2237.5" cy="4455.2" r="12.4"/><circle cx="2257.7" cy="4457.3" r="12.4"/><circle cx="2277.8" cy="4459.3" r="12.4"/><circle cx="2297.9" cy="4461.3" r="12.4"/><circle cx="2318" cy="4317.4" r="12.4"/><circle cx="2338.1" cy="4319.4" r="12.4"/><circle cx="2358.3" cy="4319.4" r="12.4"/><circle cx="2378.4" cy="4321.5" r="12.4"/><circle cx="2398.5" cy="4323.5" r="12.4"/><circle cx="2418.6" cy="4323.5" r="12.4"/><circle cx="2438.7" cy="4325.5" r="12.4"/><circle cx="2458.9" cy="4327.5" r="12.4"/><circle cx="2479" cy="4327.5" r="12.4"/><circle cx="2499.1" cy="4327.5" r="12.4"/><circle cx="2519.2" cy="4214" r="12.4"/><circle cx="2539.3" cy="4216.1" r="12.4"/><circle cx="2559.5" cy="4216.1" r="12.4"/><circle cx="2579.6" cy="4220.1" r="12.4"/><circle cx="2599.7" cy="4220.1" r="12.4"/><circle cx="2619.8" cy="4222.1" r="12.4"/><circle cx="2639.9" cy="4224.2" r="12.4"/><circle cx="2660.1" cy="4232.3" r="12.4"/><circle cx="2680.2" cy="4228.2" r="12.4"/></g>
<path d="M1906.6 3930.2V4735" stroke="#7c7c7c" stroke-width="2.2" stroke-dasharray="15 16" stroke-dashoffset="-6" fill="none"/>
<path d="M2095.7 3930.2V4735" stroke="#7c7c7c" stroke-width="2.2" stroke-dasharray="15 16" stroke-dashoffset="-6" fill="none"/>
<path d="M2301.9 3930.2V4735" stroke="#7c7c7c" stroke-width="2.2" stroke-dasharray="15 16" stroke-dashoffset="-6" fill="none"/>
<path d="M2507.1 3930.2V4735" stroke="#7c7c7c" stroke-width="2.2" stroke-dasharray="15 16" stroke-dashoffset="-6" fill="none"/>
<rect x="1694.3" y="3926.2" width="1006" height="810.8" fill="none" stroke="#000" stroke-width="4"/>
<path d="M1694.3 4737v16M1895.5 4737v16M2096.7 4737v16M2297.9 4737v16M2499.1 4737v16M2700.3 4737v16M1794.9 4737v8M1996.1 4737v8M2197.3 4737v8M2398.5 4737v8M2599.7 4737v8M1694.3 4737h-16M1694.3 4534.3h-16M1694.3 4331.6h-16M1694.3 4128.9h-16M1694.3 3926.2h-16M1694.3 4696.5h-8M1694.3 4655.9h-8M1694.3 4615.4h-8M1694.3 4574.8h-8M1694.3 4493.8h-8M1694.3 4453.2h-8M1694.3 4412.7h-8M1694.3 4372.1h-8M1694.3 4291.1h-8M1694.3 4250.5h-8M1694.3 4210h-8M1694.3 4169.4h-8M1694.3 4088.4h-8M1694.3 4047.8h-8M1694.3 4007.3h-8M1694.3 3966.7h-8" stroke="#000" stroke-width="4" fill="none"/>
<text x="1694.3" y="4812" font-size="60" fill="#000" text-anchor="middle">0</text>
<text x="1895.5" y="4812" font-size="60" fill="#000" text-anchor="middle">10</text>
<text x="2096.7" y="4812" font-size="60" fill="#000" text-anchor="middle">20</text>
<text x="2297.9" y="4812" font-size="60" fill="#000" text-anchor="middle">30</text>
<text x="2499.1" y="4812" font-size="60" fill="#000" text-anchor="middle">40</text>
<text x="2700.3" y="4812" font-size="60" fill="#000" text-anchor="middle">50</text>
<text x="1666.3" y="4755.5" font-size="60" fill="#000" text-anchor="end">0</text>
<text x="1666.3" y="4552.8" font-size="60" fill="#000" text-anchor="end">50</text>
<text x="1666.3" y="4350.1" font-size="60" fill="#000" text-anchor="end">100</text>
<text x="1666.3" y="4147.4" font-size="60" fill="#000" text-anchor="end">150</text>
<text x="1666.3" y="3944.7" font-size="60" fill="#000" text-anchor="end">200</text>
<text x="2197.3" y="4912" font-size="65.3" fill="#000" text-anchor="middle">Cycle number</text>
<text transform="translate(1528.5,4331.6) rotate(-90)" font-size="65.3" text-anchor="middle">Specific capacity (mA h g<tspan font-size="40" dy="-24">−1</tspan><tspan dy="24">)</tspan></text>
<text x="1808" y="4172.7" font-size="45.5" fill="#000" text-anchor="middle">0.2 C</text>
<text x="2009.6" y="4282.3" font-size="45.5" fill="#000" text-anchor="middle">1.0 C</text>
<text x="2208.8" y="4421.9" font-size="45.5" fill="#000" text-anchor="middle">5.0 C</text>
<text x="2408.8" y="4291.8" font-size="45.5" fill="#000" text-anchor="middle">1.0 C</text>
<text x="2605.6" y="4190.2" font-size="45.5" fill="#000" text-anchor="middle">0.2 C</text>
<clipPath id="clipG"><rect x="3037.5" y="3933.3" width="1030" height="807.2"/></clipPath>
<rect x="3049.5" y="3933.3" width="1006" height="807.2" fill="none" stroke="#000" stroke-width="4"/>
<path d="M3049.5 4740.5v16M3301 4740.5v16M3552.5 4740.5v16M3804 4740.5v16M4055.5 4740.5v16M3099.8 4740.5v8M3150.1 4740.5v8M3200.4 4740.5v8M3250.7 4740.5v8M3351.3 4740.5v8M3401.6 4740.5v8M3451.9 4740.5v8M3502.2 4740.5v8M3602.8 4740.5v8M3653.1 4740.5v8M3703.4 4740.5v8M3753.7 4740.5v8M3854.3 4740.5v8M3904.6 4740.5v8M3954.9 4740.5v8M4005.2 4740.5v8M3049.5 4740.5h-16M3049.5 4538.7h-16M3049.5 4336.9h-16M3049.5 4135.1h-16M3049.5 3933.3h-16M3049.5 4700.1h-8M3049.5 4659.8h-8M3049.5 4619.4h-8M3049.5 4579.1h-8M3049.5 4498.3h-8M3049.5 4458h-8M3049.5 4417.6h-8M3049.5 4377.3h-8M3049.5 4296.5h-8M3049.5 4256.2h-8M3049.5 4215.8h-8M3049.5 4175.5h-8M3049.5 4094.7h-8M3049.5 4054.4h-8M3049.5 4014h-8M3049.5 3973.7h-8" stroke="#000" stroke-width="4" fill="none"/>
<text x="3049.5" y="4815.5" font-size="60" fill="#000" text-anchor="middle">0</text>
<text x="3301" y="4815.5" font-size="60" fill="#000" text-anchor="middle">50</text>
<text x="3552.5" y="4815.5" font-size="60" fill="#000" text-anchor="middle">100</text>
<text x="3804" y="4815.5" font-size="60" fill="#000" text-anchor="middle">150</text>
<text x="4055.5" y="4815.5" font-size="60" fill="#000" text-anchor="middle">200</text>
<text x="3021.5" y="4759" font-size="60" fill="#000" text-anchor="end">70</text>
<text x="3021.5" y="4557.2" font-size="60" fill="#000" text-anchor="end">80</text>
<text x="3021.5" y="4355.4" font-size="60" fill="#000" text-anchor="end">90</text>
<text x="3021.5" y="4153.6" font-size="60" fill="#000" text-anchor="end">100</text>
<text x="3021.5" y="3951.8" font-size="60" fill="#000" text-anchor="end">110</text>
<g clip-path="url(#clipG)">
<path d="M3056.5 4135.5 L3069 4151.1 L3078.3 4139.9 L3087.7 4146.4 L3097 4150.2 L3107.9 4149.2 L3118.9 4133.6 L3128.2 4133.6 L3137.6 4148 L3146.9 4151.1 L3156.3 4161.1 L3167.2 4163.6 L3176.5 4165.7 L3187.5 4177.3 L3196.8 4177.3 L3207.7 4154.2 L3217.1 4155.5 L3228 4156.4 L3238 4157.3 L3248.3 4179.8 L3257.6 4179.8 L3268.5 4162.6 L3277.9 4164.2 L3288.2 4165.1 L3298.1 4166.4 L3308.4 4167.9 L3318.4 4169.5 L3328.4 4195.4 L3338.7 4189.1 L3348.7 4175.1 L3358.9 4181.3 L3368.9 4187.6 L3378.6 4192.2 L3388.6 4179.8 L3398.5 4180.7 L3408.8 4182 L3418.8 4204.7 L3429.1 4206.3 L3440 4211 L3449.4 4197.9 L3458.7 4204.7 L3469 4215.6 L3479 4224 L3489.9 4225 L3499.2 4207.8 L3510.2 4215.6 L3520.1 4235.9 L3528.9 4221.9 L3539.4 4225 L3549.3 4240.6 L3559.6 4242.1 L3570.5 4282.7 L3581.4 4260.8 L3591.7 4248.4 L3601.7 4253 L3612.6 4262.4 L3620.4 4276.4 L3629.8 4284.2 L3640.7 4302 L3651.6 4292 L3661 4270.2 L3670.3 4265.5 L3679.7 4278 L3689.6 4284.2 L3700.9 4297.6 L3710.8 4278.6 L3721.8 4278.6 L3732 4296.1 L3742 4313.8 L3752 4320.1 L3762.3 4302.9 L3771.6 4297.3 L3781 4329.4 L3791.3 4332.6 L3801.3 4320.1 L3811.5 4302.9 L3821.5 4312.3 L3830.9 4324.8 L3841.8 4331.9 L3852.1 4358.4 L3862.1 4341.9 L3871.4 4363.7 L3881.7 4351.3 L3891.7 4353.4 L3901.7 4366.8 L3911.9 4354.4 L3921.3 4363.7 L3932.2 4365.3 L3943.1 4349.7 L3950.9 4371.5 L3960.9 4373.1 L3971.2 4374.6 L3981.2 4376.2 L3991.5 4378.4 L4001.7 4387.1 L4012.7 4376.2 L4022.6 4387.1 L4032 4388.7 L4041.3 4389.3 L4050.7 4390.2" fill="none" stroke="#cc0a0a" stroke-width="4.5" stroke-dasharray="14 9"/>
<g fill="url(#gR2)"><circle cx="3056.5" cy="4135.5" r="10"/><circle cx="3069" cy="4151.1" r="10"/><circle cx="3078.3" cy="4139.9" r="10"/><circle cx="3087.7" cy="4146.4" r="10"/><circle cx="3097" cy="4150.2" r="10"/><circle cx="3107.9" cy="4149.2" r="10"/><circle cx="3118.9" cy="4133.6" r="10"/><circle cx="3128.2" cy="4133.6" r="10"/><circle cx="3137.6" cy="4148" r="10"/><circle cx="3146.9" cy="4151.1" r="10"/><circle cx="3156.3" cy="4161.1" r="10"/><circle cx="3167.2" cy="4163.6" r="10"/><circle cx="3176.5" cy="4165.7" r="10"/><circle cx="3187.5" cy="4177.3" r="10"/><circle cx="3196.8" cy="4177.3" r="10"/><circle cx="3207.7" cy="4154.2" r="10"/><circle cx="3217.1" cy="4155.5" r="10"/><circle cx="3228" cy="4156.4" r="10"/><circle cx="3238" cy="4157.3" r="10"/><circle cx="3248.3" cy="4179.8" r="10"/><circle cx="3257.6" cy="4179.8" r="10"/><circle cx="3268.5" cy="4162.6" r="10"/><circle cx="3277.9" cy="4164.2" r="10"/><circle cx="3288.2" cy="4165.1" r="10"/><circle cx="3298.1" cy="4166.4" r="10"/><circle cx="3308.4" cy="4167.9" r="10"/><circle cx="3318.4" cy="4169.5" r="10"/><circle cx="3328.4" cy="4195.4" r="10"/><circle cx="3338.7" cy="4189.1" r="10"/><circle cx="3348.7" cy="4175.1" r="10"/><circle cx="3358.9" cy="4181.3" r="10"/><circle cx="3368.9" cy="4187.6" r="10"/><circle cx="3378.6" cy="4192.2" r="10"/><circle cx="3388.6" cy="4179.8" r="10"/><circle cx="3398.5" cy="4180.7" r="10"/><circle cx="3408.8" cy="4182" r="10"/><circle cx="3418.8" cy="4204.7" r="10"/><circle cx="3429.1" cy="4206.3" r="10"/><circle cx="3440" cy="4211" r="10"/><circle cx="3449.4" cy="4197.9" r="10"/><circle cx="3458.7" cy="4204.7" r="10"/><circle cx="3469" cy="4215.6" r="10"/><circle cx="3479" cy="4224" r="10"/><circle cx="3489.9" cy="4225" r="10"/><circle cx="3499.2" cy="4207.8" r="10"/><circle cx="3510.2" cy="4215.6" r="10"/><circle cx="3520.1" cy="4235.9" r="10"/><circle cx="3528.9" cy="4221.9" r="10"/><circle cx="3539.4" cy="4225" r="10"/><circle cx="3549.3" cy="4240.6" r="10"/><circle cx="3559.6" cy="4242.1" r="10"/><circle cx="3570.5" cy="4282.7" r="10"/><circle cx="3581.4" cy="4260.8" r="10"/><circle cx="3591.7" cy="4248.4" r="10"/><circle cx="3601.7" cy="4253" r="10"/><circle cx="3612.6" cy="4262.4" r="10"/><circle cx="3620.4" cy="4276.4" r="10"/><circle cx="3629.8" cy="4284.2" r="10"/><circle cx="3640.7" cy="4302" r="10"/><circle cx="3651.6" cy="4292" r="10"/><circle cx="3661" cy="4270.2" r="10"/><circle cx="3670.3" cy="4265.5" r="10"/><circle cx="3679.7" cy="4278" r="10"/><circle cx="3689.6" cy="4284.2" r="10"/><circle cx="3700.9" cy="4297.6" r="10"/><circle cx="3710.8" cy="4278.6" r="10"/><circle cx="3721.8" cy="4278.6" r="10"/><circle cx="3732" cy="4296.1" r="10"/><circle cx="3742" cy="4313.8" r="10"/><circle cx="3752" cy="4320.1" r="10"/><circle cx="3762.3" cy="4302.9" r="10"/><circle cx="3771.6" cy="4297.3" r="10"/><circle cx="3781" cy="4329.4" r="10"/><circle cx="3791.3" cy="4332.6" r="10"/><circle cx="3801.3" cy="4320.1" r="10"/><circle cx="3811.5" cy="4302.9" r="10"/><circle cx="3821.5" cy="4312.3" r="10"/><circle cx="3830.9" cy="4324.8" r="10"/><circle cx="3841.8" cy="4331.9" r="10"/><circle cx="3852.1" cy="4358.4" r="10"/><circle cx="3862.1" cy="4341.9" r="10"/><circle cx="3871.4" cy="4363.7" r="10"/><circle cx="3881.7" cy="4351.3" r="10"/><circle cx="3891.7" cy="4353.4" r="10"/><circle cx="3901.7" cy="4366.8" r="10"/><circle cx="3911.9" cy="4354.4" r="10"/><circle cx="3921.3" cy="4363.7" r="10"/><circle cx="3932.2" cy="4365.3" r="10"/><circle cx="3943.1" cy="4349.7" r="10"/><circle cx="3950.9" cy="4371.5" r="10"/><circle cx="3960.9" cy="4373.1" r="10"/><circle cx="3971.2" cy="4374.6" r="10"/><circle cx="3981.2" cy="4376.2" r="10"/><circle cx="3991.5" cy="4378.4" r="10"/><circle cx="4001.7" cy="4387.1" r="10"/><circle cx="4012.7" cy="4376.2" r="10"/><circle cx="4022.6" cy="4387.1" r="10"/><circle cx="4032" cy="4388.7" r="10"/><circle cx="4041.3" cy="4389.3" r="10"/><circle cx="4050.7" cy="4390.2" r="10"/></g>
<path d="M3054.3 4259.3 L3058.7 4252.4 L3069 4230.6 L3078.3 4234.3 L3087.7 4242.8 L3097 4249.9 L3107.9 4259.3 L3118.9 4257.7 L3128.2 4250.9 L3139.1 4232.8 L3149.1 4197.9 L3158.5 4202.2 L3168.7 4218.7 L3179.7 4214.1 L3189 4197.9 L3199 4201 L3208.7 4187.6 L3219.3 4193.8 L3229.5 4226.5 L3239.5 4245.2 L3249.2 4232.8 L3259.8 4256.8 L3269.5 4228.7 L3279.4 4222.5 L3289.7 4229.7 L3299.7 4216.3 L3309.7 4241.5 L3320 4229 L3330.3 4208.5 L3340.2 4186.6 L3350.2 4168.2 L3360.5 4208.5 L3370.5 4229 L3380.1 4207.8 L3390.7 4230.6 L3400.4 4249.9 L3410.4 4228.1 L3420.7 4251.5 L3431.3 4220.3 L3440.9 4239.6 L3450.9 4253 L3461.2 4232.2 L3470.6 4232.8 L3480.5 4201.6 L3490.5 4196 L3500.8 4220.9 L3511.1 4197.9 L3520.1 4205.7 L3530 4203.2 L3539.4 4196.9 L3550.3 4188.2 L3560.6 4193.8 L3571.2 4226.5 L3581.4 4245.2 L3590.8 4232.8 L3601.1 4256.8 L3611.1 4228.1 L3621 4221.9 L3630.7 4230.3 L3641.3 4215.6 L3651.6 4242.1 L3661.6 4228.7 L3671.9 4208.5 L3681.8 4186 L3692.1 4167.9 L3702.1 4208.5 L3711.8 4228.7 L3721.8 4207.8 L3732 4230.3 L3742 4249.3 L3752 4227.5 L3762.3 4250.9 L3772.3 4220.3 L3781.9 4239 L3791.9 4253 L3801.9 4232.2 L3812.2 4232.8 L3822.1 4201.6 L3831.5 4220.3 L3841.8 4239 L3852.1 4253 L3862.1 4232.2 L3872.3 4232.8 L3882.3 4201.6 L3892.3 4196 L3902 4220.9 L3911.9 4197.5 L3921.9 4205.7 L3932.2 4201.6 L3942.2 4195.4 L3952.5 4188.2 L3962.8 4193.8 L3972.7 4225.9 L3982.7 4245.2 L3992.4 4232.8 L4002.4 4225.9 L4012.7 4245.2 L4022.6 4232.2 L4032.9 4256.8 L4042.9 4228.1 L4051.3 4221.9" fill="none" stroke="#3071a6" stroke-width="4.5" stroke-dasharray="14 9"/>
<g fill="url(#gB)"><circle cx="3054.3" cy="4259.3" r="10"/><circle cx="3058.7" cy="4252.4" r="10"/><circle cx="3069" cy="4230.6" r="10"/><circle cx="3078.3" cy="4234.3" r="10"/><circle cx="3087.7" cy="4242.8" r="10"/><circle cx="3097" cy="4249.9" r="10"/><circle cx="3107.9" cy="4259.3" r="10"/><circle cx="3118.9" cy="4257.7" r="10"/><circle cx="3128.2" cy="4250.9" r="10"/><circle cx="3139.1" cy="4232.8" r="10"/><circle cx="3149.1" cy="4197.9" r="10"/><circle cx="3158.5" cy="4202.2" r="10"/><circle cx="3168.7" cy="4218.7" r="10"/><circle cx="3179.7" cy="4214.1" r="10"/><circle cx="3189" cy="4197.9" r="10"/><circle cx="3199" cy="4201" r="10"/><circle cx="3208.7" cy="4187.6" r="10"/><circle cx="3219.3" cy="4193.8" r="10"/><circle cx="3229.5" cy="4226.5" r="10"/><circle cx="3239.5" cy="4245.2" r="10"/><circle cx="3249.2" cy="4232.8" r="10"/><circle cx="3259.8" cy="4256.8" r="10"/><circle cx="3269.5" cy="4228.7" r="10"/><circle cx="3279.4" cy="4222.5" r="10"/><circle cx="3289.7" cy="4229.7" r="10"/><circle cx="3299.7" cy="4216.3" r="10"/><circle cx="3309.7" cy="4241.5" r="10"/><circle cx="3320" cy="4229" r="10"/><circle cx="3330.3" cy="4208.5" r="10"/><circle cx="3340.2" cy="4186.6" r="10"/><circle cx="3350.2" cy="4168.2" r="10"/><circle cx="3360.5" cy="4208.5" r="10"/><circle cx="3370.5" cy="4229" r="10"/><circle cx="3380.1" cy="4207.8" r="10"/><circle cx="3390.7" cy="4230.6" r="10"/><circle cx="3400.4" cy="4249.9" r="10"/><circle cx="3410.4" cy="4228.1" r="10"/><circle cx="3420.7" cy="4251.5" r="10"/><circle cx="3431.3" cy="4220.3" r="10"/><circle cx="3440.9" cy="4239.6" r="10"/><circle cx="3450.9" cy="4253" r="10"/><circle cx="3461.2" cy="4232.2" r="10"/><circle cx="3470.6" cy="4232.8" r="10"/><circle cx="3480.5" cy="4201.6" r="10"/><circle cx="3490.5" cy="4196" r="10"/><circle cx="3500.8" cy="4220.9" r="10"/><circle cx="3511.1" cy="4197.9" r="10"/><circle cx="3520.1" cy="4205.7" r="10"/><circle cx="3530" cy="4203.2" r="10"/><circle cx="3539.4" cy="4196.9" r="10"/><circle cx="3550.3" cy="4188.2" r="10"/><circle cx="3560.6" cy="4193.8" r="10"/><circle cx="3571.2" cy="4226.5" r="10"/><circle cx="3581.4" cy="4245.2" r="10"/><circle cx="3590.8" cy="4232.8" r="10"/><circle cx="3601.1" cy="4256.8" r="10"/><circle cx="3611.1" cy="4228.1" r="10"/><circle cx="3621" cy="4221.9" r="10"/><circle cx="3630.7" cy="4230.3" r="10"/><circle cx="3641.3" cy="4215.6" r="10"/><circle cx="3651.6" cy="4242.1" r="10"/><circle cx="3661.6" cy="4228.7" r="10"/><circle cx="3671.9" cy="4208.5" r="10"/><circle cx="3681.8" cy="4186" r="10"/><circle cx="3692.1" cy="4167.9" r="10"/><circle cx="3702.1" cy="4208.5" r="10"/><circle cx="3711.8" cy="4228.7" r="10"/><circle cx="3721.8" cy="4207.8" r="10"/><circle cx="3732" cy="4230.3" r="10"/><circle cx="3742" cy="4249.3" r="10"/><circle cx="3752" cy="4227.5" r="10"/><circle cx="3762.3" cy="4250.9" r="10"/><circle cx="3772.3" cy="4220.3" r="10"/><circle cx="3781.9" cy="4239" r="10"/><circle cx="3791.9" cy="4253" r="10"/><circle cx="3801.9" cy="4232.2" r="10"/><circle cx="3812.2" cy="4232.8" r="10"/><circle cx="3822.1" cy="4201.6" r="10"/><circle cx="3831.5" cy="4220.3" r="10"/><circle cx="3841.8" cy="4239" r="10"/><circle cx="3852.1" cy="4253" r="10"/><circle cx="3862.1" cy="4232.2" r="10"/><circle cx="3872.3" cy="4232.8" r="10"/><circle cx="3882.3" cy="4201.6" r="10"/><circle cx="3892.3" cy="4196" r="10"/><circle cx="3902" cy="4220.9" r="10"/><circle cx="3911.9" cy="4197.5" r="10"/><circle cx="3921.9" cy="4205.7" r="10"/><circle cx="3932.2" cy="4201.6" r="10"/><circle cx="3942.2" cy="4195.4" r="10"/><circle cx="3952.5" cy="4188.2" r="10"/><circle cx="3962.8" cy="4193.8" r="10"/><circle cx="3972.7" cy="4225.9" r="10"/><circle cx="3982.7" cy="4245.2" r="10"/><circle cx="3992.4" cy="4232.8" r="10"/><circle cx="4002.4" cy="4225.9" r="10"/><circle cx="4012.7" cy="4245.2" r="10"/><circle cx="4022.6" cy="4232.2" r="10"/><circle cx="4032.9" cy="4256.8" r="10"/><circle cx="4042.9" cy="4228.1" r="10"/><circle cx="4051.3" cy="4221.9" r="10"/></g>
</g>
<text x="3552.5" y="4909" font-size="65.3" fill="#000" text-anchor="middle">Cycle number</text>
<text transform="translate(2896,4336.9) rotate(-90)" font-size="65.3" text-anchor="middle">Percentage (%)</text>
<path d="M3083.5 4609H3099.5M3137 4609H3153.5" stroke="#cc0a0a" stroke-width="4.8" stroke-linecap="round"/>
<circle cx="3118.5" cy="4609" r="13" fill="url(#gR2)"/>
<text x="3169.5" y="4628" font-size="53" fill="#000" text-anchor="start">Normalized specific capacity</text>
<path d="M3083.5 4675H3099.5M3137 4675H3153.5" stroke="#3071a6" stroke-width="4.8" stroke-linecap="round"/>
<circle cx="3118.5" cy="4675" r="13" fill="url(#gB)"/>
<text x="3169.5" y="4694" font-size="53" fill="#000" text-anchor="start">Coulombic efficiency</text>
<text x="103" y="107" font-size="85.5" fill="#000" text-anchor="start">A</text>
<text x="95.5" y="2202" font-size="85.5" fill="#000" text-anchor="start">B</text>
<text x="2710.5" y="106.5" font-size="85.5" fill="#000" text-anchor="start">C</text>
<text x="2710.5" y="1086.5" font-size="85.5" fill="#000" text-anchor="start">D</text>
<text x="98" y="3874" font-size="85.5" fill="#000" text-anchor="start">E</text>
<text x="1411" y="3873.5" font-size="85.5" fill="#000" text-anchor="start">F</text>
<text x="2813.5" y="3873.5" font-size="85.5" fill="#000" text-anchor="start">G</text>
</svg></body></html>
